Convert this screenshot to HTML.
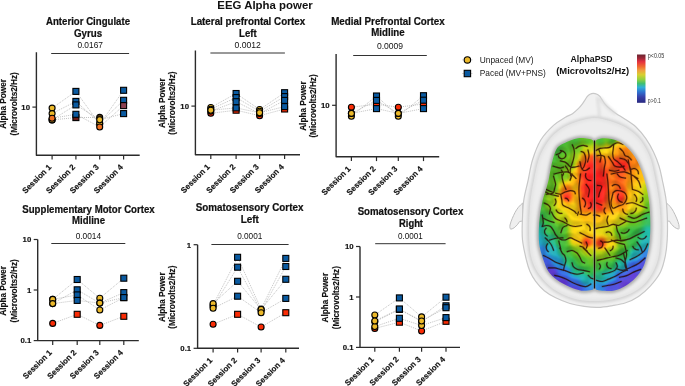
<!DOCTYPE html><html><head><meta charset="utf-8"><style>html,body{margin:0;padding:0;background:#fff;}svg{display:block;will-change:transform;}text{font-family:"Liberation Sans", sans-serif;}</style></head><body>
<svg width="685" height="386" viewBox="0 0 685 386" font-family='"Liberation Sans", sans-serif'>
<rect width="685" height="386" fill="#fff"/>
<defs>
<clipPath id="bclip"><path d="M593.60,158.00 C593.60,138.00 593.60,152.67 593.60,150.00 C593.60,147.33 594.03,143.78 593.60,142.00 C593.17,140.22 592.43,139.93 591.00,139.30 C589.57,138.67 587.17,138.38 585.00,138.20 C582.83,138.02 580.33,137.87 578.00,138.20 C575.67,138.53 573.42,139.32 571.00,140.20 C568.58,141.08 565.75,142.28 563.50,143.50 C561.25,144.72 559.12,145.42 557.50,147.50 C555.88,149.58 554.88,152.75 553.80,156.00 C552.72,159.25 551.87,163.00 551.00,167.00 C550.13,171.00 549.52,176.00 548.60,180.00 C547.68,184.00 546.52,187.50 545.50,191.00 C544.48,194.50 543.42,197.00 542.50,201.00 C541.58,205.00 540.62,210.17 540.00,215.00 C539.38,219.83 538.93,225.17 538.80,230.00 C538.67,234.83 538.75,240.00 539.20,244.00 C539.65,248.00 540.62,250.83 541.50,254.00 C542.38,257.17 543.33,260.10 544.50,263.00 C545.67,265.90 546.40,268.57 548.50,271.40 C550.60,274.23 553.53,277.38 557.10,280.00 C560.67,282.62 565.87,285.32 569.90,287.10 C573.93,288.88 577.73,290.22 581.30,290.70 C584.87,291.18 589.25,290.45 591.30,290.00 C593.35,289.55 593.22,289.67 593.60,288.00 C593.98,286.33 593.60,283.00 593.60,280.00 C593.60,277.00 593.60,290.33 593.60,270.00 C593.60,249.67 593.60,178.00 593.60,158.00Z"/><path d="M595.40,270.00 C595.40,290.33 595.40,277.00 595.40,280.00 C595.40,283.00 595.05,286.33 595.40,288.00 C595.75,289.67 596.02,289.53 597.50,290.00 C598.98,290.47 601.50,290.72 604.30,290.80 C607.10,290.88 610.73,291.35 614.30,290.50 C617.87,289.65 622.15,287.82 625.70,285.70 C629.25,283.58 632.75,280.78 635.60,277.80 C638.45,274.82 641.02,271.12 642.80,267.80 C644.58,264.48 645.27,261.53 646.30,257.90 C647.33,254.27 648.35,250.32 649.00,246.00 C649.65,241.68 650.00,236.67 650.20,232.00 C650.40,227.33 650.33,222.50 650.20,218.00 C650.07,213.50 649.83,209.17 649.40,205.00 C648.97,200.83 648.33,196.83 647.60,193.00 C646.87,189.17 646.02,185.67 645.00,182.00 C643.98,178.33 642.75,174.42 641.50,171.00 C640.25,167.58 639.08,164.50 637.50,161.50 C635.92,158.50 633.92,155.50 632.00,153.00 C630.08,150.50 628.17,148.42 626.00,146.50 C623.83,144.58 621.42,142.75 619.00,141.50 C616.58,140.25 614.00,139.55 611.50,139.00 C609.00,138.45 606.25,138.15 604.00,138.20 C601.75,138.25 599.43,138.67 598.00,139.30 C596.57,139.93 595.83,140.22 595.40,142.00 C594.97,143.78 595.40,147.33 595.40,150.00 C595.40,152.67 595.40,138.00 595.40,158.00 C595.40,178.00 595.40,249.67 595.40,270.00Z"/></clipPath>
<filter id="bb" x="-10%" y="-10%" width="120%" height="120%" color-interpolation-filters="sRGB"><feGaussianBlur stdDeviation="0.9"/><feColorMatrix type="saturate" values="1.25"/></filter>
<filter id="sb" x="-10%" y="-10%" width="120%" height="120%"><feGaussianBlur stdDeviation="0.45"/></filter>
<filter id="hb" x="-10%" y="-10%" width="120%" height="120%"><feGaussianBlur stdDeviation="1.4"/></filter>
<filter id="bump" x="530" y="130" width="130" height="170" filterUnits="userSpaceOnUse" color-interpolation-filters="sRGB"><feGaussianBlur in="SourceAlpha" stdDeviation="2.4" result="b"/><feComponentTransfer in="b" result="h"><feFuncA type="linear" slope="-1.6" intercept="1"/></feComponentTransfer><feDiffuseLighting in="h" surfaceScale="7" diffuseConstant="0.6" lighting-color="#ffffff" result="L"><feDistantLight azimuth="225" elevation="55"/></feDiffuseLighting></filter>
<radialGradient id="hg" cx="0.5" cy="0.55" r="0.6"><stop offset="0" stop-color="#d8d8d8"/><stop offset="0.6" stop-color="#e6e6e6"/><stop offset="0.85" stop-color="#efefef"/><stop offset="1" stop-color="#e2e2e2"/></radialGradient>
</defs>
<g filter="url(#sb)"><path d="M522.8,203 C519.5,205.5 517,208.7 515,212.5 C513,216.5 511,221 510,225 C509.6,227 510,229 510.8,229.2 C512.2,229 513.6,228.3 514.8,227.3 C516.6,225.8 518.3,223.8 519.6,221.5 L522.8,221 Z" fill="#efefef" stroke="#bdbdbd" stroke-width="1"/><path d="M665.8,202.5 C668.8,204.6 671.5,207.8 673.5,211.6 C675.6,215.6 677.8,220.5 678.8,224.5 C679.3,226.8 679.2,228.8 678.6,229.1 C677.3,228.9 675.8,228.2 674.5,227.2 C672.5,225.6 670.6,223.5 669.5,221.2 L666.5,221 Z" fill="#efefef" stroke="#bdbdbd" stroke-width="1"/></g>
<path d="M593.20,93.30 C594.37,93.30 595.93,93.72 597.00,94.20 C598.07,94.68 598.80,95.35 599.60,96.20 C600.40,97.05 600.93,98.03 601.80,99.30 C602.67,100.57 603.47,102.23 604.80,103.80 C606.13,105.37 607.87,107.05 609.80,108.70 C611.73,110.35 614.03,112.07 616.40,113.70 C618.77,115.33 620.73,116.28 624.00,118.50 C627.27,120.72 632.33,123.60 636.00,127.00 C639.67,130.40 643.08,134.73 646.00,138.90 C648.92,143.07 651.33,147.48 653.50,152.00 C655.67,156.52 657.53,161.33 659.00,166.00 C660.47,170.67 661.12,174.33 662.30,180.00 C663.48,185.67 665.25,193.33 666.10,200.00 C666.95,206.67 667.22,213.33 667.40,220.00 C667.58,226.67 667.55,234.00 667.20,240.00 C666.85,246.00 666.42,250.67 665.30,256.00 C664.18,261.33 663.05,266.93 660.50,272.00 C657.95,277.07 653.67,282.33 650.00,286.40 C646.33,290.47 642.55,293.67 638.50,296.40 C634.45,299.13 630.22,301.23 625.70,302.80 C621.18,304.37 616.02,305.03 611.40,305.80 C606.78,306.57 602.53,307.30 598.00,307.40 C593.47,307.50 588.88,307.05 584.20,306.40 C579.52,305.75 574.65,304.93 569.90,303.50 C565.15,302.07 559.97,299.93 555.70,297.80 C551.43,295.67 547.63,293.43 544.30,290.70 C540.97,287.97 538.08,284.62 535.70,281.40 C533.32,278.18 531.55,274.97 530.00,271.40 C528.45,267.83 527.65,265.23 526.40,260.00 C525.15,254.77 523.17,246.67 522.50,240.00 C521.83,233.33 522.18,226.67 522.40,220.00 C522.62,213.33 522.83,206.67 523.80,200.00 C524.77,193.33 526.75,186.67 528.20,180.00 C529.65,173.33 530.40,166.67 532.50,160.00 C534.60,153.33 537.30,145.77 540.80,140.00 C544.30,134.23 549.47,129.15 553.50,125.40 C557.53,121.65 561.83,119.45 565.00,117.50 C568.17,115.55 570.28,115.17 572.50,113.70 C574.72,112.23 576.65,110.35 578.30,108.70 C579.95,107.05 581.22,105.37 582.40,103.80 C583.58,102.23 584.53,100.57 585.40,99.30 C586.27,98.03 586.83,97.05 587.60,96.20 C588.37,95.35 589.07,94.68 590.00,94.20 C590.93,93.72 592.03,93.30 593.20,93.30Z" fill="#f1f1f1" stroke="none"/>
<g filter="url(#sb)"><path d="M593.20,93.30 C594.37,93.30 595.93,93.72 597.00,94.20 C598.07,94.68 598.80,95.35 599.60,96.20 C600.40,97.05 600.93,98.03 601.80,99.30 C602.67,100.57 603.47,102.23 604.80,103.80 C606.13,105.37 607.87,107.05 609.80,108.70 C611.73,110.35 614.03,112.07 616.40,113.70 C618.77,115.33 620.73,116.28 624.00,118.50 C627.27,120.72 632.33,123.60 636.00,127.00 C639.67,130.40 643.08,134.73 646.00,138.90 C648.92,143.07 651.33,147.48 653.50,152.00 C655.67,156.52 657.53,161.33 659.00,166.00 C660.47,170.67 661.12,174.33 662.30,180.00 C663.48,185.67 665.25,193.33 666.10,200.00 C666.95,206.67 667.22,213.33 667.40,220.00 C667.58,226.67 667.55,234.00 667.20,240.00 C666.85,246.00 666.42,250.67 665.30,256.00 C664.18,261.33 663.05,266.93 660.50,272.00 C657.95,277.07 653.67,282.33 650.00,286.40 C646.33,290.47 642.55,293.67 638.50,296.40 C634.45,299.13 630.22,301.23 625.70,302.80 C621.18,304.37 616.02,305.03 611.40,305.80 C606.78,306.57 602.53,307.30 598.00,307.40 C593.47,307.50 588.88,307.05 584.20,306.40 C579.52,305.75 574.65,304.93 569.90,303.50 C565.15,302.07 559.97,299.93 555.70,297.80 C551.43,295.67 547.63,293.43 544.30,290.70 C540.97,287.97 538.08,284.62 535.70,281.40 C533.32,278.18 531.55,274.97 530.00,271.40 C528.45,267.83 527.65,265.23 526.40,260.00 C525.15,254.77 523.17,246.67 522.50,240.00 C521.83,233.33 522.18,226.67 522.40,220.00 C522.62,213.33 522.83,206.67 523.80,200.00 C524.77,193.33 526.75,186.67 528.20,180.00 C529.65,173.33 530.40,166.67 532.50,160.00 C534.60,153.33 537.30,145.77 540.80,140.00 C544.30,134.23 549.47,129.15 553.50,125.40 C557.53,121.65 561.83,119.45 565.00,117.50 C568.17,115.55 570.28,115.17 572.50,113.70 C574.72,112.23 576.65,110.35 578.30,108.70 C579.95,107.05 581.22,105.37 582.40,103.80 C583.58,102.23 584.53,100.57 585.40,99.30 C586.27,98.03 586.83,97.05 587.60,96.20 C588.37,95.35 589.07,94.68 590.00,94.20 C590.93,93.72 592.03,93.30 593.20,93.30Z" fill="none" stroke="#c8c8c8" stroke-width="1.2"/></g>
<g filter="url(#hb)"><path d="M597,97 C598.5,103 599,110 599.5,117" fill="none" stroke="#d2d2d2" stroke-width="1.6"/><path d="M600,98 C604,104 609,109 616,114" fill="none" stroke="#dadada" stroke-width="2.5"/></g>
<g filter="url(#hb)"><path d="M594.50,118.00 C599.67,118.00 604.92,119.50 610.00,121.00 C615.08,122.50 620.50,124.50 625.00,127.00 C629.50,129.50 633.67,132.67 637.00,136.00 C640.33,139.33 642.67,143.00 645.00,147.00 C647.33,151.00 649.25,154.50 651.00,160.00 C652.75,165.50 654.17,173.33 655.50,180.00 C656.83,186.67 658.17,193.33 659.00,200.00 C659.83,206.67 660.28,213.33 660.50,220.00 C660.72,226.67 660.67,233.67 660.30,240.00 C659.93,246.33 659.52,252.67 658.30,258.00 C657.08,263.33 655.38,267.58 653.00,272.00 C650.62,276.42 647.83,280.83 644.00,284.50 C640.17,288.17 635.33,291.50 630.00,294.00 C624.67,296.50 617.92,298.33 612.00,299.50 C606.08,300.67 600.33,301.00 594.50,301.00 C588.67,301.00 582.75,300.83 577.00,299.50 C571.25,298.17 564.83,295.50 560.00,293.00 C555.17,290.50 551.75,288.00 548.00,284.50 C544.25,281.00 540.25,276.42 537.50,272.00 C534.75,267.58 532.88,263.33 531.50,258.00 C530.12,252.67 529.58,246.33 529.20,240.00 C528.82,233.67 528.98,226.67 529.20,220.00 C529.42,213.33 529.70,206.67 530.50,200.00 C531.30,193.33 532.67,186.67 534.00,180.00 C535.33,173.33 536.75,165.50 538.50,160.00 C540.25,154.50 542.17,151.00 544.50,147.00 C546.83,143.00 549.25,139.33 552.50,136.00 C555.75,132.67 559.58,129.50 564.00,127.00 C568.42,124.50 573.92,122.50 579.00,121.00 C584.08,119.50 589.33,118.00 594.50,118.00Z" fill="none" stroke="#cfcfcf" stroke-width="3.5"/></g>
<path d="M594.50,118.00 C599.67,118.00 604.92,119.50 610.00,121.00 C615.08,122.50 620.50,124.50 625.00,127.00 C629.50,129.50 633.67,132.67 637.00,136.00 C640.33,139.33 642.67,143.00 645.00,147.00 C647.33,151.00 649.25,154.50 651.00,160.00 C652.75,165.50 654.17,173.33 655.50,180.00 C656.83,186.67 658.17,193.33 659.00,200.00 C659.83,206.67 660.28,213.33 660.50,220.00 C660.72,226.67 660.67,233.67 660.30,240.00 C659.93,246.33 659.52,252.67 658.30,258.00 C657.08,263.33 655.38,267.58 653.00,272.00 C650.62,276.42 647.83,280.83 644.00,284.50 C640.17,288.17 635.33,291.50 630.00,294.00 C624.67,296.50 617.92,298.33 612.00,299.50 C606.08,300.67 600.33,301.00 594.50,301.00 C588.67,301.00 582.75,300.83 577.00,299.50 C571.25,298.17 564.83,295.50 560.00,293.00 C555.17,290.50 551.75,288.00 548.00,284.50 C544.25,281.00 540.25,276.42 537.50,272.00 C534.75,267.58 532.88,263.33 531.50,258.00 C530.12,252.67 529.58,246.33 529.20,240.00 C528.82,233.67 528.98,226.67 529.20,220.00 C529.42,213.33 529.70,206.67 530.50,200.00 C531.30,193.33 532.67,186.67 534.00,180.00 C535.33,173.33 536.75,165.50 538.50,160.00 C540.25,154.50 542.17,151.00 544.50,147.00 C546.83,143.00 549.25,139.33 552.50,136.00 C555.75,132.67 559.58,129.50 564.00,127.00 C568.42,124.50 573.92,122.50 579.00,121.00 C584.08,119.50 589.33,118.00 594.50,118.00Z" fill="#ebebeb" stroke="none" opacity="0.7"/>
<g filter="url(#hb)"><path d="M593.60,158.00 C593.60,138.00 593.60,152.67 593.60,150.00 C593.60,147.33 594.03,143.78 593.60,142.00 C593.17,140.22 592.43,139.93 591.00,139.30 C589.57,138.67 587.17,138.38 585.00,138.20 C582.83,138.02 580.33,137.87 578.00,138.20 C575.67,138.53 573.42,139.32 571.00,140.20 C568.58,141.08 565.75,142.28 563.50,143.50 C561.25,144.72 559.12,145.42 557.50,147.50 C555.88,149.58 554.88,152.75 553.80,156.00 C552.72,159.25 551.87,163.00 551.00,167.00 C550.13,171.00 549.52,176.00 548.60,180.00 C547.68,184.00 546.52,187.50 545.50,191.00 C544.48,194.50 543.42,197.00 542.50,201.00 C541.58,205.00 540.62,210.17 540.00,215.00 C539.38,219.83 538.93,225.17 538.80,230.00 C538.67,234.83 538.75,240.00 539.20,244.00 C539.65,248.00 540.62,250.83 541.50,254.00 C542.38,257.17 543.33,260.10 544.50,263.00 C545.67,265.90 546.40,268.57 548.50,271.40 C550.60,274.23 553.53,277.38 557.10,280.00 C560.67,282.62 565.87,285.32 569.90,287.10 C573.93,288.88 577.73,290.22 581.30,290.70 C584.87,291.18 589.25,290.45 591.30,290.00 C593.35,289.55 593.22,289.67 593.60,288.00 C593.98,286.33 593.60,283.00 593.60,280.00 C593.60,277.00 593.60,290.33 593.60,270.00 C593.60,249.67 593.60,178.00 593.60,158.00Z" fill="none" stroke="#a8a8a8" stroke-width="4"/><path d="M595.40,270.00 C595.40,290.33 595.40,277.00 595.40,280.00 C595.40,283.00 595.05,286.33 595.40,288.00 C595.75,289.67 596.02,289.53 597.50,290.00 C598.98,290.47 601.50,290.72 604.30,290.80 C607.10,290.88 610.73,291.35 614.30,290.50 C617.87,289.65 622.15,287.82 625.70,285.70 C629.25,283.58 632.75,280.78 635.60,277.80 C638.45,274.82 641.02,271.12 642.80,267.80 C644.58,264.48 645.27,261.53 646.30,257.90 C647.33,254.27 648.35,250.32 649.00,246.00 C649.65,241.68 650.00,236.67 650.20,232.00 C650.40,227.33 650.33,222.50 650.20,218.00 C650.07,213.50 649.83,209.17 649.40,205.00 C648.97,200.83 648.33,196.83 647.60,193.00 C646.87,189.17 646.02,185.67 645.00,182.00 C643.98,178.33 642.75,174.42 641.50,171.00 C640.25,167.58 639.08,164.50 637.50,161.50 C635.92,158.50 633.92,155.50 632.00,153.00 C630.08,150.50 628.17,148.42 626.00,146.50 C623.83,144.58 621.42,142.75 619.00,141.50 C616.58,140.25 614.00,139.55 611.50,139.00 C609.00,138.45 606.25,138.15 604.00,138.20 C601.75,138.25 599.43,138.67 598.00,139.30 C596.57,139.93 595.83,140.22 595.40,142.00 C594.97,143.78 595.40,147.33 595.40,150.00 C595.40,152.67 595.40,138.00 595.40,158.00 C595.40,178.00 595.40,249.67 595.40,270.00Z" fill="none" stroke="#a8a8a8" stroke-width="4"/></g>
<g clip-path="url(#bclip)"><g filter="url(#bb)">
<path fill="#81c339" d="M534 134h2v2h-2zM534 136h2v2h-2zM582 142h2v2h-2zM594 142h2v2h-2zM572 150h2v2h-2zM574 150h2v2h-2zM578 150h2v2h-2zM568 156h2v2h-2zM568 158h2v2h-2zM568 160h2v2h-2zM568 162h2v2h-2zM570 162h2v2h-2zM566 164h2v2h-2zM568 166h2v2h-2zM570 166h2v2h-2zM562 170h2v2h-2zM564 174h2v2h-2zM560 176h2v2h-2zM564 176h2v2h-2zM556 186h2v2h-2zM648 200h2v2h-2zM650 200h2v2h-2zM654 202h2v2h-2zM644 204h2v2h-2zM644 206h2v2h-2zM636 216h2v2h-2zM638 216h2v2h-2zM628 218h2v2h-2zM558 222h2v2h-2zM560 222h2v2h-2zM628 222h2v2h-2zM626 224h2v2h-2zM618 226h2v2h-2zM618 238h2v2h-2zM618 240h2v2h-2zM618 242h2v2h-2zM618 244h2v2h-2zM618 246h2v2h-2zM572 248h2v2h-2zM578 254h2v2h-2zM580 254h2v2h-2zM612 254h2v2h-2zM586 256h2v2h-2zM606 256h2v2h-2zM608 256h2v2h-2zM610 256h2v2h-2zM596 258h2v2h-2z"/>
<path fill="#7bc339" d="M536 134h2v2h-2zM592 134h2v2h-2zM606 134h2v2h-2zM608 134h2v2h-2zM612 134h2v2h-2zM536 136h2v2h-2zM614 136h2v2h-2zM534 138h2v2h-2zM590 142h2v2h-2zM608 142h2v2h-2zM578 146h2v2h-2zM574 148h2v2h-2zM578 148h2v2h-2zM576 150h2v2h-2zM570 152h2v2h-2zM566 160h2v2h-2zM566 162h2v2h-2zM568 164h2v2h-2zM570 164h2v2h-2zM564 166h2v2h-2zM560 172h2v2h-2zM560 174h2v2h-2zM556 180h2v2h-2zM548 190h2v2h-2zM554 190h2v2h-2zM644 210h2v2h-2zM642 212h2v2h-2zM640 214h2v2h-2zM634 216h2v2h-2zM636 218h2v2h-2zM554 220h2v2h-2zM566 226h2v2h-2zM574 252h2v2h-2zM614 252h2v2h-2zM612 256h2v2h-2z"/>
<path fill="#7bbd39" d="M538 134h2v2h-2zM590 134h2v2h-2zM534 140h2v2h-2zM592 140h2v2h-2zM576 146h2v2h-2zM576 148h2v2h-2zM562 168h2v2h-2zM560 170h2v2h-2zM554 182h2v2h-2zM652 202h2v2h-2zM654 204h2v2h-2zM630 216h2v2h-2zM634 218h2v2h-2zM630 220h2v2h-2zM630 222h2v2h-2zM566 232h2v2h-2zM576 254h2v2h-2zM594 258h2v2h-2z"/>
<path fill="#75bd39" d="M540 134h2v2h-2zM582 134h2v2h-2zM584 134h2v2h-2zM586 134h2v2h-2zM588 134h2v2h-2zM594 134h2v2h-2zM604 134h2v2h-2zM610 134h2v2h-2zM538 136h2v2h-2zM592 136h2v2h-2zM606 136h2v2h-2zM536 138h2v2h-2zM538 138h2v2h-2zM592 138h2v2h-2zM536 140h2v2h-2zM582 140h2v2h-2zM606 140h2v2h-2zM534 142h2v2h-2zM536 142h2v2h-2zM580 142h2v2h-2zM584 142h2v2h-2zM534 144h2v2h-2zM578 144h2v2h-2zM534 146h2v2h-2zM574 146h2v2h-2zM534 148h2v2h-2zM572 148h2v2h-2zM534 150h2v2h-2zM568 154h2v2h-2zM562 156h2v2h-2zM564 156h2v2h-2zM566 156h2v2h-2zM562 158h2v2h-2zM564 158h2v2h-2zM566 158h2v2h-2zM562 160h2v2h-2zM564 160h2v2h-2zM564 162h2v2h-2zM564 164h2v2h-2zM534 166h2v2h-2zM534 168h2v2h-2zM534 170h2v2h-2zM534 172h2v2h-2zM534 174h2v2h-2zM534 176h2v2h-2zM534 178h2v2h-2zM558 178h2v2h-2zM534 180h2v2h-2zM552 180h2v2h-2zM554 180h2v2h-2zM552 182h2v2h-2zM546 190h2v2h-2zM550 190h2v2h-2zM552 190h2v2h-2zM544 192h2v2h-2zM544 194h2v2h-2zM544 196h2v2h-2zM544 198h2v2h-2zM544 200h2v2h-2zM646 202h2v2h-2zM650 202h2v2h-2zM654 206h2v2h-2zM546 208h2v2h-2zM550 210h2v2h-2zM552 212h2v2h-2zM632 216h2v2h-2zM630 218h2v2h-2zM632 218h2v2h-2zM638 218h2v2h-2zM632 220h2v2h-2zM634 220h2v2h-2zM636 220h2v2h-2zM556 222h2v2h-2zM632 222h2v2h-2zM634 222h2v2h-2zM564 224h2v2h-2zM620 226h2v2h-2zM622 226h2v2h-2zM624 226h2v2h-2zM566 228h2v2h-2zM616 228h2v2h-2zM566 230h2v2h-2zM566 234h2v2h-2zM616 234h2v2h-2zM618 236h2v2h-2zM620 238h2v2h-2zM620 240h2v2h-2zM622 240h2v2h-2zM620 242h2v2h-2zM622 242h2v2h-2zM620 244h2v2h-2zM570 246h2v2h-2zM572 250h2v2h-2zM616 250h2v2h-2zM614 254h2v2h-2zM584 256h2v2h-2zM588 258h2v2h-2zM590 258h2v2h-2zM592 258h2v2h-2zM604 258h2v2h-2zM590 260h2v2h-2zM592 260h2v2h-2z"/>
<path fill="#6fbd3f" d="M542 134h2v2h-2zM544 134h2v2h-2zM580 134h2v2h-2zM596 134h2v2h-2zM602 134h2v2h-2zM542 136h2v2h-2zM544 136h2v2h-2zM582 136h2v2h-2zM584 136h2v2h-2zM586 136h2v2h-2zM588 136h2v2h-2zM594 136h2v2h-2zM604 136h2v2h-2zM608 136h2v2h-2zM612 136h2v2h-2zM540 138h2v2h-2zM542 138h2v2h-2zM582 138h2v2h-2zM584 138h2v2h-2zM586 138h2v2h-2zM588 138h2v2h-2zM590 138h2v2h-2zM594 138h2v2h-2zM604 138h2v2h-2zM614 138h2v2h-2zM538 140h2v2h-2zM540 140h2v2h-2zM580 140h2v2h-2zM584 140h2v2h-2zM590 140h2v2h-2zM594 140h2v2h-2zM604 140h2v2h-2zM614 140h2v2h-2zM538 142h2v2h-2zM540 142h2v2h-2zM586 142h2v2h-2zM588 142h2v2h-2zM610 142h2v2h-2zM612 142h2v2h-2zM538 144h2v2h-2zM576 144h2v2h-2zM536 146h2v2h-2zM538 146h2v2h-2zM572 146h2v2h-2zM536 148h2v2h-2zM538 148h2v2h-2zM570 148h2v2h-2zM536 150h2v2h-2zM570 150h2v2h-2zM536 152h2v2h-2zM568 152h2v2h-2zM534 154h2v2h-2zM536 154h2v2h-2zM562 154h2v2h-2zM564 154h2v2h-2zM566 154h2v2h-2zM534 156h2v2h-2zM536 156h2v2h-2zM560 156h2v2h-2zM534 158h2v2h-2zM536 158h2v2h-2zM560 158h2v2h-2zM534 160h2v2h-2zM536 160h2v2h-2zM560 160h2v2h-2zM536 162h2v2h-2zM562 162h2v2h-2zM536 164h2v2h-2zM538 164h2v2h-2zM562 164h2v2h-2zM536 166h2v2h-2zM538 166h2v2h-2zM562 166h2v2h-2zM536 168h2v2h-2zM538 168h2v2h-2zM556 168h2v2h-2zM558 168h2v2h-2zM560 168h2v2h-2zM536 170h2v2h-2zM538 170h2v2h-2zM540 170h2v2h-2zM554 170h2v2h-2zM556 170h2v2h-2zM536 172h2v2h-2zM538 172h2v2h-2zM540 172h2v2h-2zM552 172h2v2h-2zM556 172h2v2h-2zM558 172h2v2h-2zM536 174h2v2h-2zM538 174h2v2h-2zM550 174h2v2h-2zM558 174h2v2h-2zM536 176h2v2h-2zM538 176h2v2h-2zM540 176h2v2h-2zM550 176h2v2h-2zM552 176h2v2h-2zM558 176h2v2h-2zM536 178h2v2h-2zM538 178h2v2h-2zM540 178h2v2h-2zM548 178h2v2h-2zM550 178h2v2h-2zM552 178h2v2h-2zM554 178h2v2h-2zM556 178h2v2h-2zM536 180h2v2h-2zM538 180h2v2h-2zM540 180h2v2h-2zM542 180h2v2h-2zM544 180h2v2h-2zM546 180h2v2h-2zM548 180h2v2h-2zM550 180h2v2h-2zM534 182h2v2h-2zM536 182h2v2h-2zM538 182h2v2h-2zM540 182h2v2h-2zM542 182h2v2h-2zM544 182h2v2h-2zM546 182h2v2h-2zM548 182h2v2h-2zM550 182h2v2h-2zM534 184h2v2h-2zM536 184h2v2h-2zM538 184h2v2h-2zM544 184h2v2h-2zM546 184h2v2h-2zM548 184h2v2h-2zM550 184h2v2h-2zM552 184h2v2h-2zM534 186h2v2h-2zM536 186h2v2h-2zM546 186h2v2h-2zM548 186h2v2h-2zM550 186h2v2h-2zM554 186h2v2h-2zM534 188h2v2h-2zM536 188h2v2h-2zM546 188h2v2h-2zM548 188h2v2h-2zM550 188h2v2h-2zM552 188h2v2h-2zM554 188h2v2h-2zM534 190h2v2h-2zM536 190h2v2h-2zM544 190h2v2h-2zM534 192h2v2h-2zM542 192h2v2h-2zM542 198h2v2h-2zM544 204h2v2h-2zM646 204h2v2h-2zM648 204h2v2h-2zM650 204h2v2h-2zM544 206h2v2h-2zM646 206h2v2h-2zM650 206h2v2h-2zM652 206h2v2h-2zM646 208h2v2h-2zM648 208h2v2h-2zM650 208h2v2h-2zM652 208h2v2h-2zM654 208h2v2h-2zM646 210h2v2h-2zM552 214h2v2h-2zM638 220h2v2h-2zM636 222h2v2h-2zM566 236h2v2h-2zM620 236h2v2h-2zM622 238h2v2h-2zM624 240h2v2h-2zM624 242h2v2h-2zM624 244h2v2h-2zM622 246h2v2h-2zM572 252h2v2h-2zM574 254h2v2h-2zM578 256h2v2h-2zM580 256h2v2h-2zM582 256h2v2h-2zM614 256h2v2h-2zM586 258h2v2h-2zM606 258h2v2h-2zM608 258h2v2h-2zM610 258h2v2h-2zM612 258h2v2h-2zM588 260h2v2h-2zM594 260h2v2h-2zM596 260h2v2h-2zM588 262h2v2h-2zM590 262h2v2h-2zM592 262h2v2h-2z"/>
<path fill="#69bd3f" d="M546 134h2v2h-2zM548 134h2v2h-2zM598 134h2v2h-2zM600 134h2v2h-2zM546 136h2v2h-2zM580 136h2v2h-2zM610 136h2v2h-2zM544 138h2v2h-2zM580 138h2v2h-2zM608 138h2v2h-2zM542 140h2v2h-2zM586 140h2v2h-2zM588 140h2v2h-2zM608 140h2v2h-2zM542 142h2v2h-2zM578 142h2v2h-2zM596 142h2v2h-2zM602 142h2v2h-2zM540 144h2v2h-2zM574 144h2v2h-2zM540 146h2v2h-2zM570 146h2v2h-2zM540 148h2v2h-2zM538 150h2v2h-2zM538 152h2v2h-2zM538 154h2v2h-2zM560 154h2v2h-2zM538 156h2v2h-2zM538 158h2v2h-2zM538 160h2v2h-2zM558 160h2v2h-2zM538 162h2v2h-2zM558 162h2v2h-2zM560 162h2v2h-2zM540 164h2v2h-2zM556 164h2v2h-2zM558 164h2v2h-2zM560 164h2v2h-2zM540 166h2v2h-2zM556 166h2v2h-2zM558 166h2v2h-2zM560 166h2v2h-2zM540 168h2v2h-2zM542 168h2v2h-2zM554 168h2v2h-2zM542 170h2v2h-2zM544 170h2v2h-2zM546 170h2v2h-2zM548 170h2v2h-2zM550 170h2v2h-2zM552 170h2v2h-2zM542 172h2v2h-2zM544 172h2v2h-2zM546 172h2v2h-2zM548 172h2v2h-2zM550 172h2v2h-2zM554 172h2v2h-2zM540 174h2v2h-2zM542 174h2v2h-2zM544 174h2v2h-2zM546 174h2v2h-2zM548 174h2v2h-2zM552 174h2v2h-2zM554 174h2v2h-2zM556 174h2v2h-2zM542 176h2v2h-2zM544 176h2v2h-2zM546 176h2v2h-2zM548 176h2v2h-2zM554 176h2v2h-2zM556 176h2v2h-2zM542 178h2v2h-2zM544 178h2v2h-2zM546 178h2v2h-2zM540 184h2v2h-2zM542 184h2v2h-2zM538 186h2v2h-2zM540 186h2v2h-2zM542 186h2v2h-2zM544 186h2v2h-2zM552 186h2v2h-2zM538 188h2v2h-2zM540 188h2v2h-2zM542 188h2v2h-2zM544 188h2v2h-2zM538 190h2v2h-2zM540 190h2v2h-2zM542 190h2v2h-2zM536 192h2v2h-2zM538 192h2v2h-2zM540 192h2v2h-2zM534 194h2v2h-2zM536 194h2v2h-2zM538 194h2v2h-2zM540 194h2v2h-2zM542 194h2v2h-2zM534 196h2v2h-2zM536 196h2v2h-2zM538 196h2v2h-2zM540 196h2v2h-2zM542 196h2v2h-2zM540 198h2v2h-2zM648 206h2v2h-2zM548 210h2v2h-2zM648 210h2v2h-2zM652 210h2v2h-2zM654 210h2v2h-2zM552 216h2v2h-2zM640 216h2v2h-2zM552 218h2v2h-2zM554 222h2v2h-2zM558 224h2v2h-2zM560 224h2v2h-2zM562 224h2v2h-2zM630 224h2v2h-2zM632 224h2v2h-2zM626 226h2v2h-2zM618 228h2v2h-2zM622 228h2v2h-2zM624 228h2v2h-2zM616 230h2v2h-2zM616 232h2v2h-2zM622 236h2v2h-2zM566 238h2v2h-2zM624 238h2v2h-2zM616 252h2v2h-2zM576 256h2v2h-2zM598 260h2v2h-2zM600 260h2v2h-2zM602 260h2v2h-2zM594 262h2v2h-2zM590 264h2v2h-2zM592 264h2v2h-2z"/>
<path fill="#63bd45" d="M550 134h2v2h-2zM552 134h2v2h-2zM578 134h2v2h-2zM550 136h2v2h-2zM596 136h2v2h-2zM548 138h2v2h-2zM610 138h2v2h-2zM612 138h2v2h-2zM546 140h2v2h-2zM610 140h2v2h-2zM612 140h2v2h-2zM544 142h2v2h-2zM546 142h2v2h-2zM544 144h2v2h-2zM568 144h2v2h-2zM544 146h2v2h-2zM566 146h2v2h-2zM568 146h2v2h-2zM542 148h2v2h-2zM568 148h2v2h-2zM542 150h2v2h-2zM562 150h2v2h-2zM566 150h2v2h-2zM542 152h2v2h-2zM560 152h2v2h-2zM542 154h2v2h-2zM542 156h2v2h-2zM558 156h2v2h-2zM542 158h2v2h-2zM542 160h2v2h-2zM544 160h2v2h-2zM556 160h2v2h-2zM542 162h2v2h-2zM544 162h2v2h-2zM554 162h2v2h-2zM542 164h2v2h-2zM544 164h2v2h-2zM552 164h2v2h-2zM554 164h2v2h-2zM544 166h2v2h-2zM546 166h2v2h-2zM552 166h2v2h-2zM546 168h2v2h-2zM548 168h2v2h-2zM550 168h2v2h-2zM540 200h2v2h-2zM546 210h2v2h-2zM550 212h2v2h-2zM642 214h2v2h-2zM640 218h2v2h-2zM636 224h2v2h-2zM558 226h2v2h-2zM560 226h2v2h-2zM562 226h2v2h-2zM628 226h2v2h-2zM564 228h2v2h-2zM564 230h2v2h-2zM618 230h2v2h-2zM620 230h2v2h-2zM622 230h2v2h-2zM624 230h2v2h-2zM562 232h2v2h-2zM618 232h2v2h-2zM620 232h2v2h-2zM622 232h2v2h-2zM624 232h2v2h-2zM564 234h2v2h-2zM620 234h2v2h-2zM622 234h2v2h-2zM624 234h2v2h-2zM566 244h2v2h-2zM568 246h2v2h-2zM624 246h2v2h-2zM570 250h2v2h-2zM618 250h2v2h-2zM572 254h2v2h-2zM616 254h2v2h-2zM580 258h2v2h-2zM582 258h2v2h-2zM584 258h2v2h-2zM604 260h2v2h-2zM586 262h2v2h-2zM588 264h2v2h-2z"/>
<path fill="#63b745" d="M554 134h2v2h-2zM568 134h2v2h-2zM552 136h2v2h-2zM578 136h2v2h-2zM598 136h2v2h-2zM600 136h2v2h-2zM550 138h2v2h-2zM596 138h2v2h-2zM602 138h2v2h-2zM548 140h2v2h-2zM578 140h2v2h-2zM596 140h2v2h-2zM602 140h2v2h-2zM568 142h2v2h-2zM570 142h2v2h-2zM576 142h2v2h-2zM598 142h2v2h-2zM600 142h2v2h-2zM546 144h2v2h-2zM566 144h2v2h-2zM564 146h2v2h-2zM544 148h2v2h-2zM562 148h2v2h-2zM564 148h2v2h-2zM566 148h2v2h-2zM544 150h2v2h-2zM564 150h2v2h-2zM544 152h2v2h-2zM544 154h2v2h-2zM558 154h2v2h-2zM544 156h2v2h-2zM544 158h2v2h-2zM546 162h2v2h-2zM546 164h2v2h-2zM550 164h2v2h-2zM548 166h2v2h-2zM550 166h2v2h-2zM534 200h2v2h-2zM542 202h2v2h-2zM654 212h2v2h-2zM640 220h2v2h-2zM554 224h2v2h-2zM556 226h2v2h-2zM558 228h2v2h-2zM560 228h2v2h-2zM562 228h2v2h-2zM626 228h2v2h-2zM560 230h2v2h-2zM562 230h2v2h-2zM578 258h2v2h-2zM614 258h2v2h-2zM584 260h2v2h-2zM594 264h2v2h-2z"/>
<path fill="#5db74b" d="M556 134h2v2h-2zM558 134h2v2h-2zM560 134h2v2h-2zM562 134h2v2h-2zM564 134h2v2h-2zM570 134h2v2h-2zM572 134h2v2h-2zM574 134h2v2h-2zM576 134h2v2h-2zM554 136h2v2h-2zM556 136h2v2h-2zM566 136h2v2h-2zM568 136h2v2h-2zM570 136h2v2h-2zM576 136h2v2h-2zM552 138h2v2h-2zM554 138h2v2h-2zM566 138h2v2h-2zM568 138h2v2h-2zM570 138h2v2h-2zM578 138h2v2h-2zM598 138h2v2h-2zM600 138h2v2h-2zM550 140h2v2h-2zM552 140h2v2h-2zM554 140h2v2h-2zM566 140h2v2h-2zM568 140h2v2h-2zM570 140h2v2h-2zM548 142h2v2h-2zM550 142h2v2h-2zM552 142h2v2h-2zM566 142h2v2h-2zM572 142h2v2h-2zM574 142h2v2h-2zM548 144h2v2h-2zM562 144h2v2h-2zM564 144h2v2h-2zM546 146h2v2h-2zM548 146h2v2h-2zM560 146h2v2h-2zM562 146h2v2h-2zM546 148h2v2h-2zM560 148h2v2h-2zM546 150h2v2h-2zM560 150h2v2h-2zM546 152h2v2h-2zM558 152h2v2h-2zM546 154h2v2h-2zM556 154h2v2h-2zM546 156h2v2h-2zM556 156h2v2h-2zM546 158h2v2h-2zM548 158h2v2h-2zM556 158h2v2h-2zM548 160h2v2h-2zM550 160h2v2h-2zM552 160h2v2h-2zM554 160h2v2h-2zM550 162h2v2h-2zM534 202h2v2h-2zM534 204h2v2h-2zM542 204h2v2h-2zM542 206h2v2h-2zM542 208h2v2h-2zM544 210h2v2h-2zM548 212h2v2h-2zM646 212h2v2h-2zM652 212h2v2h-2zM550 214h2v2h-2zM550 216h2v2h-2zM550 218h2v2h-2zM550 220h2v2h-2zM640 222h2v2h-2zM638 224h2v2h-2zM630 226h2v2h-2zM556 228h2v2h-2zM556 230h2v2h-2zM558 230h2v2h-2zM626 230h2v2h-2zM558 232h2v2h-2zM560 232h2v2h-2zM560 234h2v2h-2zM562 234h2v2h-2zM626 234h2v2h-2zM564 236h2v2h-2zM626 236h2v2h-2zM564 238h2v2h-2zM626 238h2v2h-2zM626 240h2v2h-2zM564 242h2v2h-2zM626 242h2v2h-2zM626 244h2v2h-2zM566 246h2v2h-2zM568 248h2v2h-2zM622 248h2v2h-2zM570 252h2v2h-2zM616 256h2v2h-2zM576 258h2v2h-2zM578 260h2v2h-2zM580 260h2v2h-2zM606 260h2v2h-2zM608 260h2v2h-2zM610 260h2v2h-2zM580 262h2v2h-2zM582 262h2v2h-2zM598 262h2v2h-2zM600 262h2v2h-2zM602 262h2v2h-2zM582 264h2v2h-2zM584 264h2v2h-2zM586 264h2v2h-2zM590 266h2v2h-2zM592 266h2v2h-2z"/>
<path fill="#5db745" d="M566 134h2v2h-2zM546 160h2v2h-2zM548 162h2v2h-2zM552 162h2v2h-2zM548 164h2v2h-2zM536 200h2v2h-2zM538 200h2v2h-2zM552 222h2v2h-2zM574 256h2v2h-2zM582 260h2v2h-2zM584 262h2v2h-2zM596 262h2v2h-2z"/>
<path fill="#8dc339" d="M614 134h2v2h-2zM592 142h2v2h-2zM614 142h2v2h-2zM598 144h2v2h-2zM580 146h2v2h-2zM580 148h2v2h-2zM572 152h2v2h-2zM576 152h2v2h-2zM570 154h2v2h-2zM570 160h2v2h-2zM572 162h2v2h-2zM564 170h2v2h-2zM566 172h2v2h-2zM560 178h2v2h-2zM558 180h2v2h-2zM548 192h2v2h-2zM550 192h2v2h-2zM552 192h2v2h-2zM546 194h2v2h-2zM546 196h2v2h-2zM644 196h2v2h-2zM646 196h2v2h-2zM648 196h2v2h-2zM546 198h2v2h-2zM644 198h2v2h-2zM648 198h2v2h-2zM650 198h2v2h-2zM546 200h2v2h-2zM644 200h2v2h-2zM654 200h2v2h-2zM546 202h2v2h-2zM644 202h2v2h-2zM546 204h2v2h-2zM550 208h2v2h-2zM552 210h2v2h-2zM634 214h2v2h-2zM554 218h2v2h-2zM616 236h2v2h-2zM574 248h2v2h-2zM576 248h2v2h-2zM616 248h2v2h-2zM580 252h2v2h-2zM608 252h2v2h-2zM606 254h2v2h-2zM588 256h2v2h-2zM604 256h2v2h-2zM598 258h2v2h-2zM600 258h2v2h-2z"/>
<path fill="#b1cf33" d="M616 134h2v2h-2zM592 144h2v2h-2zM574 160h2v2h-2zM562 180h2v2h-2zM646 188h2v2h-2zM648 188h2v2h-2zM646 190h2v2h-2zM648 190h2v2h-2zM650 190h2v2h-2zM652 192h2v2h-2zM654 192h2v2h-2zM642 194h2v2h-2zM554 196h2v2h-2zM642 202h2v2h-2zM554 208h2v2h-2zM642 208h2v2h-2zM630 212h2v2h-2zM634 212h2v2h-2zM638 212h2v2h-2zM564 220h2v2h-2zM566 222h2v2h-2zM624 222h2v2h-2zM618 224h2v2h-2zM614 226h2v2h-2zM568 228h2v2h-2zM568 230h2v2h-2zM614 236h2v2h-2zM616 240h2v2h-2zM616 244h2v2h-2zM578 246h2v2h-2zM582 250h2v2h-2zM606 250h2v2h-2zM596 252h2v2h-2zM598 252h2v2h-2zM600 252h2v2h-2zM602 252h2v2h-2zM588 254h2v2h-2z"/>
<path fill="#cfd539" d="M618 134h2v2h-2zM616 142h2v2h-2zM594 146h2v2h-2zM596 146h2v2h-2zM598 146h2v2h-2zM586 148h2v2h-2zM588 148h2v2h-2zM654 184h2v2h-2zM642 188h2v2h-2zM642 190h2v2h-2zM640 194h2v2h-2zM638 204h2v2h-2zM638 206h2v2h-2zM624 216h2v2h-2zM608 226h2v2h-2zM580 246h2v2h-2zM582 248h2v2h-2zM588 248h2v2h-2zM590 248h2v2h-2z"/>
<path fill="#edd539" d="M620 134h2v2h-2zM618 140h2v2h-2zM606 146h2v2h-2zM608 146h2v2h-2zM604 148h2v2h-2zM592 150h2v2h-2zM602 150h2v2h-2zM598 152h2v2h-2zM574 168h2v2h-2zM570 178h2v2h-2zM648 180h2v2h-2zM642 182h2v2h-2zM640 184h2v2h-2zM638 186h2v2h-2zM638 188h2v2h-2zM638 190h2v2h-2zM634 202h2v2h-2zM632 204h2v2h-2zM630 206h2v2h-2zM632 206h2v2h-2zM560 208h2v2h-2zM630 208h2v2h-2zM568 216h2v2h-2zM614 218h2v2h-2zM570 220h2v2h-2zM614 220h2v2h-2zM572 222h2v2h-2zM612 222h2v2h-2zM572 224h2v2h-2zM606 224h2v2h-2zM598 226h2v2h-2zM600 226h2v2h-2zM596 228h2v2h-2zM572 232h2v2h-2zM572 234h2v2h-2zM598 234h2v2h-2zM600 234h2v2h-2zM602 234h2v2h-2zM606 236h2v2h-2zM610 238h2v2h-2zM572 242h2v2h-2zM608 246h2v2h-2z"/>
<path fill="#f9d539" d="M622 134h2v2h-2zM620 138h2v2h-2zM618 142h2v2h-2zM608 150h2v2h-2zM610 150h2v2h-2zM586 152h2v2h-2zM650 176h2v2h-2zM652 176h2v2h-2zM648 178h2v2h-2zM570 180h2v2h-2zM644 180h2v2h-2zM566 182h2v2h-2zM636 184h2v2h-2zM636 192h2v2h-2zM636 194h2v2h-2zM634 198h2v2h-2zM558 200h2v2h-2zM632 200h2v2h-2zM560 202h2v2h-2zM630 202h2v2h-2zM562 204h2v2h-2zM572 204h2v2h-2zM574 204h2v2h-2zM564 206h2v2h-2zM570 206h2v2h-2zM572 206h2v2h-2zM574 206h2v2h-2zM628 206h2v2h-2zM566 208h2v2h-2zM568 208h2v2h-2zM570 208h2v2h-2zM572 208h2v2h-2zM568 210h2v2h-2zM570 210h2v2h-2zM572 210h2v2h-2zM568 212h2v2h-2zM570 212h2v2h-2zM572 212h2v2h-2zM574 212h2v2h-2zM574 214h2v2h-2zM576 214h2v2h-2zM614 214h2v2h-2zM576 216h2v2h-2zM608 216h2v2h-2zM610 216h2v2h-2zM612 216h2v2h-2zM576 218h2v2h-2zM606 218h2v2h-2zM608 218h2v2h-2zM610 218h2v2h-2zM576 220h2v2h-2zM578 220h2v2h-2zM606 220h2v2h-2zM608 220h2v2h-2zM578 222h2v2h-2zM580 222h2v2h-2zM604 222h2v2h-2zM574 224h2v2h-2zM580 224h2v2h-2zM582 224h2v2h-2zM584 224h2v2h-2zM586 224h2v2h-2zM588 224h2v2h-2zM590 224h2v2h-2zM592 224h2v2h-2zM596 224h2v2h-2zM598 224h2v2h-2zM600 224h2v2h-2zM582 226h2v2h-2zM584 226h2v2h-2zM586 226h2v2h-2zM588 226h2v2h-2zM590 226h2v2h-2zM592 226h2v2h-2zM582 228h2v2h-2zM584 228h2v2h-2zM586 228h2v2h-2zM582 230h2v2h-2zM584 230h2v2h-2zM586 230h2v2h-2zM588 230h2v2h-2zM590 230h2v2h-2zM580 232h2v2h-2zM588 232h2v2h-2zM590 232h2v2h-2zM592 232h2v2h-2zM576 234h2v2h-2zM578 234h2v2h-2zM594 234h2v2h-2zM574 236h2v2h-2zM572 238h2v2h-2zM610 240h2v2h-2zM576 242h2v2h-2zM578 242h2v2h-2zM608 242h2v2h-2zM612 242h2v2h-2zM606 246h2v2h-2z"/>
<path fill="#f9cf39" d="M624 134h2v2h-2zM622 136h2v2h-2zM622 138h2v2h-2zM620 140h2v2h-2zM616 144h2v2h-2zM604 152h2v2h-2zM606 152h2v2h-2zM608 152h2v2h-2zM610 152h2v2h-2zM578 160h2v2h-2zM572 172h2v2h-2zM652 174h2v2h-2zM654 174h2v2h-2zM648 176h2v2h-2zM646 178h2v2h-2zM642 180h2v2h-2zM638 182h2v2h-2zM560 186h2v2h-2zM634 192h2v2h-2zM558 194h2v2h-2zM634 194h2v2h-2zM558 196h2v2h-2zM632 196h2v2h-2zM634 196h2v2h-2zM558 198h2v2h-2zM632 198h2v2h-2zM630 200h2v2h-2zM562 202h2v2h-2zM564 204h2v2h-2zM570 204h2v2h-2zM628 204h2v2h-2zM566 206h2v2h-2zM568 206h2v2h-2zM574 208h2v2h-2zM574 210h2v2h-2zM626 210h2v2h-2zM576 212h2v2h-2zM616 212h2v2h-2zM618 212h2v2h-2zM620 212h2v2h-2zM622 212h2v2h-2zM608 214h2v2h-2zM610 214h2v2h-2zM612 214h2v2h-2zM578 216h2v2h-2zM606 216h2v2h-2zM578 218h2v2h-2zM580 220h2v2h-2zM582 222h2v2h-2zM584 222h2v2h-2zM602 222h2v2h-2zM594 224h2v2h-2zM582 232h2v2h-2zM584 232h2v2h-2zM586 232h2v2h-2zM580 234h2v2h-2zM592 234h2v2h-2zM576 236h2v2h-2zM578 236h2v2h-2zM604 236h2v2h-2zM574 238h2v2h-2zM576 238h2v2h-2zM578 238h2v2h-2zM606 238h2v2h-2zM574 240h2v2h-2zM576 240h2v2h-2zM578 240h2v2h-2zM580 244h2v2h-2zM582 246h2v2h-2zM590 246h2v2h-2zM592 246h2v2h-2zM598 248h2v2h-2zM602 248h2v2h-2z"/>
<path fill="#f9c939" d="M626 134h2v2h-2zM624 136h2v2h-2zM624 138h2v2h-2zM622 140h2v2h-2zM624 140h2v2h-2zM620 142h2v2h-2zM622 142h2v2h-2zM624 142h2v2h-2zM612 148h2v2h-2zM584 152h2v2h-2zM590 152h2v2h-2zM574 170h2v2h-2zM654 172h2v2h-2zM572 174h2v2h-2zM650 174h2v2h-2zM644 178h2v2h-2zM640 180h2v2h-2zM568 182h2v2h-2zM636 182h2v2h-2zM634 184h2v2h-2zM634 186h2v2h-2zM634 188h2v2h-2zM634 190h2v2h-2zM632 194h2v2h-2zM630 196h2v2h-2zM630 198h2v2h-2zM560 200h2v2h-2zM572 202h2v2h-2zM574 202h2v2h-2zM628 202h2v2h-2zM576 206h2v2h-2zM578 214h2v2h-2zM580 218h2v2h-2zM604 218h2v2h-2zM582 220h2v2h-2zM604 220h2v2h-2zM586 222h2v2h-2zM588 222h2v2h-2zM590 222h2v2h-2zM592 222h2v2h-2zM594 222h2v2h-2zM600 222h2v2h-2zM600 248h2v2h-2z"/>
<path fill="#f9c333" d="M628 134h2v2h-2zM626 136h2v2h-2zM628 136h2v2h-2zM626 138h2v2h-2zM626 140h2v2h-2zM626 142h2v2h-2zM618 144h2v2h-2zM620 144h2v2h-2zM624 144h2v2h-2zM614 146h2v2h-2zM612 150h2v2h-2zM594 152h2v2h-2zM600 154h2v2h-2zM580 156h2v2h-2zM576 164h2v2h-2zM654 168h2v2h-2zM652 170h2v2h-2zM654 170h2v2h-2zM648 172h2v2h-2zM650 172h2v2h-2zM644 174h2v2h-2zM646 174h2v2h-2zM640 176h2v2h-2zM642 176h2v2h-2zM644 176h2v2h-2zM572 178h2v2h-2zM638 178h2v2h-2zM640 178h2v2h-2zM642 178h2v2h-2zM572 180h2v2h-2zM636 180h2v2h-2zM638 180h2v2h-2zM634 182h2v2h-2zM562 184h2v2h-2zM574 186h2v2h-2zM576 186h2v2h-2zM632 186h2v2h-2zM574 188h2v2h-2zM576 188h2v2h-2zM632 188h2v2h-2zM630 190h2v2h-2zM632 190h2v2h-2zM630 192h2v2h-2zM632 192h2v2h-2zM628 196h2v2h-2zM628 198h2v2h-2zM628 200h2v2h-2zM564 202h2v2h-2zM566 204h2v2h-2zM568 204h2v2h-2zM576 204h2v2h-2zM576 208h2v2h-2zM578 212h2v2h-2zM614 212h2v2h-2zM606 214h2v2h-2zM580 216h2v2h-2zM604 216h2v2h-2zM582 218h2v2h-2zM602 218h2v2h-2zM584 220h2v2h-2zM586 220h2v2h-2zM588 220h2v2h-2zM590 220h2v2h-2zM592 220h2v2h-2zM594 220h2v2h-2zM596 220h2v2h-2zM598 220h2v2h-2zM600 220h2v2h-2zM602 220h2v2h-2zM582 234h2v2h-2zM588 234h2v2h-2zM596 236h2v2h-2zM598 236h2v2h-2zM602 236h2v2h-2zM606 244h2v2h-2zM588 246h2v2h-2zM594 246h2v2h-2z"/>
<path fill="#f9bd33" d="M630 134h2v2h-2zM632 134h2v2h-2zM630 136h2v2h-2zM628 138h2v2h-2zM628 140h2v2h-2zM592 152h2v2h-2zM612 152h2v2h-2zM598 154h2v2h-2zM602 154h2v2h-2zM604 154h2v2h-2zM606 154h2v2h-2zM608 154h2v2h-2zM576 166h2v2h-2zM654 166h2v2h-2zM650 168h2v2h-2zM652 168h2v2h-2zM644 170h2v2h-2zM646 170h2v2h-2zM648 170h2v2h-2zM650 170h2v2h-2zM574 172h2v2h-2zM638 172h2v2h-2zM640 172h2v2h-2zM642 172h2v2h-2zM644 172h2v2h-2zM646 172h2v2h-2zM574 174h2v2h-2zM636 174h2v2h-2zM638 174h2v2h-2zM640 174h2v2h-2zM642 174h2v2h-2zM574 176h2v2h-2zM636 176h2v2h-2zM638 176h2v2h-2zM636 178h2v2h-2zM570 182h2v2h-2zM574 184h2v2h-2zM632 184h2v2h-2zM572 186h2v2h-2zM630 186h2v2h-2zM560 188h2v2h-2zM630 188h2v2h-2zM628 194h2v2h-2zM576 196h2v2h-2zM570 202h2v2h-2zM576 202h2v2h-2zM626 208h2v2h-2zM624 210h2v2h-2zM610 212h2v2h-2zM612 212h2v2h-2zM580 214h2v2h-2zM588 214h2v2h-2zM590 214h2v2h-2zM582 216h2v2h-2zM586 216h2v2h-2zM588 216h2v2h-2zM590 216h2v2h-2zM592 216h2v2h-2zM596 216h2v2h-2zM598 216h2v2h-2zM600 216h2v2h-2zM602 216h2v2h-2zM584 218h2v2h-2zM586 218h2v2h-2zM588 218h2v2h-2zM590 218h2v2h-2zM592 218h2v2h-2zM594 218h2v2h-2zM596 218h2v2h-2zM598 218h2v2h-2zM600 218h2v2h-2zM584 234h2v2h-2zM586 234h2v2h-2zM594 236h2v2h-2zM600 236h2v2h-2zM580 238h2v2h-2zM606 240h2v2h-2zM606 242h2v2h-2z"/>
<path fill="#f9b733" d="M634 134h2v2h-2zM636 134h2v2h-2zM654 134h2v2h-2zM632 136h2v2h-2zM634 136h2v2h-2zM630 138h2v2h-2zM632 138h2v2h-2zM630 140h2v2h-2zM628 142h2v2h-2zM626 144h2v2h-2zM610 154h2v2h-2zM580 158h2v2h-2zM654 162h2v2h-2zM652 164h2v2h-2zM654 164h2v2h-2zM650 166h2v2h-2zM652 166h2v2h-2zM576 168h2v2h-2zM646 168h2v2h-2zM648 168h2v2h-2zM638 170h2v2h-2zM640 170h2v2h-2zM642 170h2v2h-2zM636 172h2v2h-2zM576 174h2v2h-2zM576 176h2v2h-2zM574 178h2v2h-2zM634 180h2v2h-2zM572 182h2v2h-2zM574 182h2v2h-2zM632 182h2v2h-2zM572 184h2v2h-2zM576 184h2v2h-2zM630 184h2v2h-2zM628 186h2v2h-2zM572 188h2v2h-2zM628 188h2v2h-2zM574 190h2v2h-2zM628 190h2v2h-2zM628 192h2v2h-2zM576 194h2v2h-2zM574 196h2v2h-2zM574 198h2v2h-2zM576 198h2v2h-2zM562 200h2v2h-2zM574 200h2v2h-2zM626 204h2v2h-2zM626 206h2v2h-2zM614 210h2v2h-2zM616 210h2v2h-2zM618 210h2v2h-2zM608 212h2v2h-2zM586 214h2v2h-2zM592 214h2v2h-2zM598 214h2v2h-2zM600 214h2v2h-2zM604 214h2v2h-2zM584 216h2v2h-2zM594 216h2v2h-2zM592 236h2v2h-2zM580 240h2v2h-2zM580 242h2v2h-2z"/>
<path fill="#f9b133" d="M638 134h2v2h-2zM640 134h2v2h-2zM642 134h2v2h-2zM646 134h2v2h-2zM648 134h2v2h-2zM650 134h2v2h-2zM652 134h2v2h-2zM636 136h2v2h-2zM652 136h2v2h-2zM654 136h2v2h-2zM654 138h2v2h-2zM622 146h2v2h-2zM654 160h2v2h-2zM648 166h2v2h-2zM644 168h2v2h-2zM634 178h2v2h-2zM574 180h2v2h-2zM576 190h2v2h-2zM574 194h2v2h-2zM572 200h2v2h-2zM576 200h2v2h-2zM626 202h2v2h-2zM578 210h2v2h-2zM612 210h2v2h-2zM584 214h2v2h-2zM602 214h2v2h-2zM582 236h2v2h-2z"/>
<path fill="#f9b12d" d="M644 134h2v2h-2zM638 136h2v2h-2zM640 136h2v2h-2zM642 136h2v2h-2zM644 136h2v2h-2zM646 136h2v2h-2zM648 136h2v2h-2zM650 136h2v2h-2zM634 138h2v2h-2zM636 138h2v2h-2zM648 138h2v2h-2zM650 138h2v2h-2zM652 138h2v2h-2zM632 140h2v2h-2zM652 140h2v2h-2zM654 140h2v2h-2zM630 142h2v2h-2zM654 142h2v2h-2zM654 144h2v2h-2zM616 146h2v2h-2zM620 146h2v2h-2zM614 148h2v2h-2zM582 154h2v2h-2zM654 156h2v2h-2zM654 158h2v2h-2zM652 160h2v2h-2zM652 162h2v2h-2zM650 164h2v2h-2zM646 166h2v2h-2zM642 168h2v2h-2zM576 170h2v2h-2zM576 172h2v2h-2zM634 176h2v2h-2zM630 182h2v2h-2zM570 184h2v2h-2zM628 184h2v2h-2zM560 190h2v2h-2zM574 192h2v2h-2zM626 200h2v2h-2zM610 206h2v2h-2zM612 206h2v2h-2zM612 208h2v2h-2zM614 208h2v2h-2zM620 210h2v2h-2zM622 210h2v2h-2zM588 212h2v2h-2zM590 212h2v2h-2zM582 214h2v2h-2zM594 214h2v2h-2zM596 214h2v2h-2z"/>
<path fill="#6fbd39" d="M540 136h2v2h-2zM590 136h2v2h-2zM606 138h2v2h-2zM536 144h2v2h-2zM534 152h2v2h-2zM534 162h2v2h-2zM534 164h2v2h-2zM558 170h2v2h-2zM554 184h2v2h-2zM544 202h2v2h-2zM648 202h2v2h-2zM652 204h2v2h-2zM628 224h2v2h-2zM568 244h2v2h-2zM622 244h2v2h-2zM620 246h2v2h-2zM618 248h2v2h-2z"/>
<path fill="#69bd45" d="M548 136h2v2h-2zM602 136h2v2h-2zM546 138h2v2h-2zM544 140h2v2h-2zM542 144h2v2h-2zM570 144h2v2h-2zM572 144h2v2h-2zM542 146h2v2h-2zM540 150h2v2h-2zM568 150h2v2h-2zM540 152h2v2h-2zM562 152h2v2h-2zM564 152h2v2h-2zM566 152h2v2h-2zM540 154h2v2h-2zM540 156h2v2h-2zM540 158h2v2h-2zM558 158h2v2h-2zM540 160h2v2h-2zM540 162h2v2h-2zM556 162h2v2h-2zM542 166h2v2h-2zM554 166h2v2h-2zM544 168h2v2h-2zM552 168h2v2h-2zM534 198h2v2h-2zM536 198h2v2h-2zM538 198h2v2h-2zM542 200h2v2h-2zM544 208h2v2h-2zM650 210h2v2h-2zM644 212h2v2h-2zM552 220h2v2h-2zM638 222h2v2h-2zM556 224h2v2h-2zM634 224h2v2h-2zM564 226h2v2h-2zM620 228h2v2h-2zM564 232h2v2h-2zM618 234h2v2h-2zM624 236h2v2h-2zM566 240h2v2h-2zM566 242h2v2h-2zM570 248h2v2h-2zM620 248h2v2h-2zM586 260h2v2h-2z"/>
<path fill="#57b74b" d="M558 136h2v2h-2zM560 136h2v2h-2zM562 136h2v2h-2zM564 136h2v2h-2zM572 136h2v2h-2zM574 136h2v2h-2zM556 138h2v2h-2zM558 138h2v2h-2zM564 138h2v2h-2zM572 138h2v2h-2zM574 138h2v2h-2zM576 138h2v2h-2zM556 140h2v2h-2zM558 140h2v2h-2zM564 140h2v2h-2zM572 140h2v2h-2zM574 140h2v2h-2zM576 140h2v2h-2zM598 140h2v2h-2zM600 140h2v2h-2zM554 142h2v2h-2zM556 142h2v2h-2zM558 142h2v2h-2zM560 142h2v2h-2zM562 142h2v2h-2zM564 142h2v2h-2zM550 144h2v2h-2zM552 144h2v2h-2zM556 144h2v2h-2zM558 144h2v2h-2zM560 144h2v2h-2zM550 146h2v2h-2zM558 146h2v2h-2zM548 148h2v2h-2zM548 150h2v2h-2zM548 152h2v2h-2zM550 152h2v2h-2zM548 154h2v2h-2zM550 154h2v2h-2zM552 154h2v2h-2zM554 154h2v2h-2zM548 156h2v2h-2zM550 156h2v2h-2zM554 156h2v2h-2zM550 158h2v2h-2zM552 158h2v2h-2zM554 158h2v2h-2zM536 202h2v2h-2zM538 202h2v2h-2zM540 202h2v2h-2zM536 204h2v2h-2zM540 204h2v2h-2zM534 206h2v2h-2zM536 206h2v2h-2zM538 206h2v2h-2zM540 206h2v2h-2zM534 208h2v2h-2zM540 208h2v2h-2zM546 212h2v2h-2zM648 212h2v2h-2zM650 212h2v2h-2zM548 214h2v2h-2zM654 214h2v2h-2zM548 216h2v2h-2zM548 218h2v2h-2zM548 220h2v2h-2zM550 222h2v2h-2zM554 226h2v2h-2zM632 226h2v2h-2zM634 226h2v2h-2zM636 226h2v2h-2zM626 232h2v2h-2zM558 234h2v2h-2zM560 236h2v2h-2zM562 236h2v2h-2zM564 240h2v2h-2zM564 244h2v2h-2zM564 246h2v2h-2zM626 246h2v2h-2zM624 248h2v2h-2zM568 250h2v2h-2zM620 250h2v2h-2zM618 252h2v2h-2zM570 254h2v2h-2zM612 260h2v2h-2zM578 262h2v2h-2zM580 264h2v2h-2zM596 264h2v2h-2zM588 266h2v2h-2zM594 266h2v2h-2z"/>
<path fill="#a5c939" d="M616 136h2v2h-2zM590 144h2v2h-2zM582 146h2v2h-2zM576 154h2v2h-2zM576 156h2v2h-2zM574 158h2v2h-2zM560 180h2v2h-2zM558 182h2v2h-2zM554 194h2v2h-2zM652 194h2v2h-2zM552 198h2v2h-2zM552 200h2v2h-2zM642 200h2v2h-2zM554 210h2v2h-2zM626 218h2v2h-2zM558 220h2v2h-2zM568 234h2v2h-2zM568 236h2v2h-2zM616 238h2v2h-2zM574 246h2v2h-2zM576 246h2v2h-2zM616 246h2v2h-2zM580 248h2v2h-2zM592 254h2v2h-2zM594 254h2v2h-2zM598 256h2v2h-2zM600 256h2v2h-2z"/>
<path fill="#d5d539" d="M618 136h2v2h-2zM614 144h2v2h-2zM590 148h2v2h-2zM588 150h2v2h-2zM578 158h2v2h-2zM648 182h2v2h-2zM650 182h2v2h-2zM652 182h2v2h-2zM642 186h2v2h-2zM556 196h2v2h-2zM638 200h2v2h-2zM638 202h2v2h-2zM560 210h2v2h-2zM632 210h2v2h-2zM634 210h2v2h-2zM566 218h2v2h-2zM622 220h2v2h-2zM616 222h2v2h-2zM618 222h2v2h-2zM612 224h2v2h-2zM604 230h2v2h-2zM570 232h2v2h-2zM570 234h2v2h-2zM606 234h2v2h-2zM610 236h2v2h-2zM574 244h2v2h-2z"/>
<path fill="#f3d539" d="M620 136h2v2h-2zM612 146h2v2h-2zM594 150h2v2h-2zM582 152h2v2h-2zM600 152h2v2h-2zM580 154h2v2h-2zM650 178h2v2h-2zM652 178h2v2h-2zM654 178h2v2h-2zM646 180h2v2h-2zM564 182h2v2h-2zM638 184h2v2h-2zM636 188h2v2h-2zM636 190h2v2h-2zM558 192h2v2h-2zM636 196h2v2h-2zM636 198h2v2h-2zM632 202h2v2h-2zM558 204h2v2h-2zM630 204h2v2h-2zM558 206h2v2h-2zM562 208h2v2h-2zM566 210h2v2h-2zM568 214h2v2h-2zM616 214h2v2h-2zM614 216h2v2h-2zM570 218h2v2h-2zM572 220h2v2h-2zM612 220h2v2h-2zM574 222h2v2h-2zM608 222h2v2h-2zM610 222h2v2h-2zM604 224h2v2h-2zM572 226h2v2h-2zM596 226h2v2h-2zM572 228h2v2h-2zM594 228h2v2h-2zM572 230h2v2h-2zM594 230h2v2h-2zM574 232h2v2h-2zM594 232h2v2h-2zM596 234h2v2h-2zM572 236h2v2h-2zM608 238h2v2h-2zM612 240h2v2h-2zM610 244h2v2h-2zM612 244h2v2h-2zM604 248h2v2h-2z"/>
<path fill="#57b751" d="M560 138h2v2h-2zM562 138h2v2h-2zM560 140h2v2h-2zM562 140h2v2h-2zM554 144h2v2h-2zM552 146h2v2h-2zM550 148h2v2h-2zM558 148h2v2h-2zM550 150h2v2h-2zM558 150h2v2h-2zM552 152h2v2h-2zM554 152h2v2h-2zM556 152h2v2h-2zM552 156h2v2h-2zM538 204h2v2h-2zM536 208h2v2h-2zM538 208h2v2h-2zM542 210h2v2h-2zM544 212h2v2h-2zM546 214h2v2h-2zM546 216h2v2h-2zM642 216h2v2h-2zM546 218h2v2h-2zM552 224h2v2h-2zM640 224h2v2h-2zM638 226h2v2h-2zM554 228h2v2h-2zM628 228h2v2h-2zM556 232h2v2h-2zM628 236h2v2h-2zM560 238h2v2h-2zM562 238h2v2h-2zM628 238h2v2h-2zM560 240h2v2h-2zM562 240h2v2h-2zM560 242h2v2h-2zM562 242h2v2h-2zM562 244h2v2h-2zM564 248h2v2h-2zM566 248h2v2h-2zM564 250h2v2h-2zM566 250h2v2h-2zM566 252h2v2h-2zM568 252h2v2h-2zM576 260h2v2h-2zM604 262h2v2h-2zM598 264h2v2h-2zM600 264h2v2h-2zM602 264h2v2h-2zM584 266h2v2h-2zM586 266h2v2h-2zM596 266h2v2h-2zM598 266h2v2h-2z"/>
<path fill="#9fc939" d="M616 138h2v2h-2zM596 144h2v2h-2zM574 154h2v2h-2zM572 156h2v2h-2zM574 156h2v2h-2zM572 158h2v2h-2zM572 160h2v2h-2zM570 168h2v2h-2zM568 174h2v2h-2zM568 176h2v2h-2zM556 190h2v2h-2zM644 194h2v2h-2zM650 194h2v2h-2zM552 196h2v2h-2zM642 196h2v2h-2zM654 196h2v2h-2zM552 202h2v2h-2zM552 204h2v2h-2zM552 206h2v2h-2zM642 210h2v2h-2zM554 212h2v2h-2zM640 212h2v2h-2zM554 214h2v2h-2zM626 220h2v2h-2zM622 224h2v2h-2zM614 228h2v2h-2zM614 234h2v2h-2zM568 238h2v2h-2zM570 244h2v2h-2zM608 250h2v2h-2zM582 252h2v2h-2zM596 256h2v2h-2zM602 256h2v2h-2z"/>
<path fill="#dbd539" d="M618 138h2v2h-2zM604 146h2v2h-2zM592 148h2v2h-2zM598 148h2v2h-2zM600 148h2v2h-2zM586 150h2v2h-2zM570 172h2v2h-2zM570 174h2v2h-2zM646 182h2v2h-2zM654 182h2v2h-2zM642 184h2v2h-2zM638 196h2v2h-2zM556 198h2v2h-2zM638 198h2v2h-2zM636 204h2v2h-2zM556 206h2v2h-2zM636 206h2v2h-2zM636 208h2v2h-2zM630 210h2v2h-2zM564 212h2v2h-2zM566 216h2v2h-2zM620 218h2v2h-2zM622 218h2v2h-2zM568 220h2v2h-2zM618 220h2v2h-2zM620 220h2v2h-2zM606 226h2v2h-2zM604 228h2v2h-2zM570 230h2v2h-2zM604 232h2v2h-2zM570 236h2v2h-2zM608 236h2v2h-2zM570 238h2v2h-2zM570 240h2v2h-2zM576 244h2v2h-2zM586 248h2v2h-2zM592 248h2v2h-2zM606 248h2v2h-2z"/>
<path fill="#f9ab2d" d="M638 138h2v2h-2zM640 138h2v2h-2zM642 138h2v2h-2zM644 138h2v2h-2zM646 138h2v2h-2zM634 140h2v2h-2zM636 140h2v2h-2zM638 140h2v2h-2zM640 140h2v2h-2zM642 140h2v2h-2zM644 140h2v2h-2zM646 140h2v2h-2zM648 140h2v2h-2zM650 140h2v2h-2zM632 142h2v2h-2zM646 142h2v2h-2zM648 142h2v2h-2zM650 142h2v2h-2zM652 142h2v2h-2zM628 144h2v2h-2zM648 144h2v2h-2zM650 144h2v2h-2zM652 144h2v2h-2zM618 146h2v2h-2zM624 146h2v2h-2zM650 146h2v2h-2zM652 146h2v2h-2zM654 146h2v2h-2zM652 148h2v2h-2zM654 148h2v2h-2zM614 150h2v2h-2zM652 150h2v2h-2zM654 150h2v2h-2zM652 152h2v2h-2zM654 152h2v2h-2zM596 154h2v2h-2zM612 154h2v2h-2zM652 154h2v2h-2zM654 154h2v2h-2zM652 156h2v2h-2zM650 158h2v2h-2zM652 158h2v2h-2zM650 160h2v2h-2zM648 162h2v2h-2zM650 162h2v2h-2zM646 164h2v2h-2zM648 164h2v2h-2zM644 166h2v2h-2zM640 168h2v2h-2zM636 170h2v2h-2zM634 174h2v2h-2zM576 178h2v2h-2zM632 180h2v2h-2zM576 182h2v2h-2zM564 184h2v2h-2zM572 190h2v2h-2zM576 192h2v2h-2zM578 196h2v2h-2zM560 198h2v2h-2zM578 198h2v2h-2zM626 198h2v2h-2zM566 202h2v2h-2zM568 202h2v2h-2zM610 204h2v2h-2zM612 204h2v2h-2zM614 206h2v2h-2zM578 208h2v2h-2zM610 208h2v2h-2zM616 208h2v2h-2zM624 208h2v2h-2zM610 210h2v2h-2zM580 212h2v2h-2zM586 212h2v2h-2zM606 212h2v2h-2zM590 236h2v2h-2zM604 238h2v2h-2zM592 244h2v2h-2zM584 246h2v2h-2zM586 246h2v2h-2zM604 246h2v2h-2z"/>
<path fill="#abc939" d="M616 140h2v2h-2zM594 144h2v2h-2zM610 144h2v2h-2zM612 144h2v2h-2zM576 158h2v2h-2zM568 170h2v2h-2zM568 172h2v2h-2zM648 192h2v2h-2zM650 192h2v2h-2zM654 194h2v2h-2zM632 212h2v2h-2zM626 216h2v2h-2zM556 218h2v2h-2zM560 220h2v2h-2zM562 220h2v2h-2zM620 224h2v2h-2zM568 232h2v2h-2zM614 248h2v2h-2zM604 252h2v2h-2zM586 254h2v2h-2zM590 254h2v2h-2zM596 254h2v2h-2zM598 254h2v2h-2zM600 254h2v2h-2zM602 254h2v2h-2z"/>
<path fill="#87c339" d="M604 142h2v2h-2zM580 144h2v2h-2zM600 144h2v2h-2zM572 164h2v2h-2zM566 166h2v2h-2zM564 168h2v2h-2zM562 172h2v2h-2zM564 172h2v2h-2zM562 174h2v2h-2zM566 174h2v2h-2zM562 176h2v2h-2zM566 176h2v2h-2zM556 182h2v2h-2zM556 184h2v2h-2zM556 188h2v2h-2zM546 192h2v2h-2zM646 198h2v2h-2zM646 200h2v2h-2zM652 200h2v2h-2zM546 206h2v2h-2zM548 208h2v2h-2zM644 208h2v2h-2zM630 214h2v2h-2zM632 214h2v2h-2zM628 216h2v2h-2zM628 220h2v2h-2zM562 222h2v2h-2zM568 242h2v2h-2zM574 250h2v2h-2zM576 250h2v2h-2zM578 250h2v2h-2zM614 250h2v2h-2zM576 252h2v2h-2zM578 252h2v2h-2zM610 252h2v2h-2zM612 252h2v2h-2zM582 254h2v2h-2zM608 254h2v2h-2zM610 254h2v2h-2zM590 256h2v2h-2zM592 256h2v2h-2zM602 258h2v2h-2z"/>
<path fill="#93c339" d="M606 142h2v2h-2zM574 152h2v2h-2zM570 156h2v2h-2zM570 158h2v2h-2zM566 168h2v2h-2zM562 178h2v2h-2zM564 178h2v2h-2zM652 198h2v2h-2zM564 222h2v2h-2zM566 224h2v2h-2zM624 224h2v2h-2zM578 248h2v2h-2zM580 250h2v2h-2zM612 250h2v2h-2zM594 256h2v2h-2z"/>
<path fill="#f9a52d" d="M634 142h2v2h-2zM636 142h2v2h-2zM638 142h2v2h-2zM640 142h2v2h-2zM642 142h2v2h-2zM644 142h2v2h-2zM630 144h2v2h-2zM642 144h2v2h-2zM644 144h2v2h-2zM646 144h2v2h-2zM646 146h2v2h-2zM648 146h2v2h-2zM648 148h2v2h-2zM650 148h2v2h-2zM648 150h2v2h-2zM650 150h2v2h-2zM614 152h2v2h-2zM648 152h2v2h-2zM650 152h2v2h-2zM648 154h2v2h-2zM650 154h2v2h-2zM648 156h2v2h-2zM650 156h2v2h-2zM648 158h2v2h-2zM648 160h2v2h-2zM646 162h2v2h-2zM644 164h2v2h-2zM642 166h2v2h-2zM638 168h2v2h-2zM634 172h2v2h-2zM632 178h2v2h-2zM576 180h2v2h-2zM630 180h2v2h-2zM628 182h2v2h-2zM568 184h2v2h-2zM562 186h2v2h-2zM570 186h2v2h-2zM560 192h2v2h-2zM578 194h2v2h-2zM626 196h2v2h-2zM572 198h2v2h-2zM614 204h2v2h-2zM578 206h2v2h-2zM616 206h2v2h-2zM624 206h2v2h-2zM618 208h2v2h-2zM592 212h2v2h-2zM596 246h2v2h-2z"/>
<path fill="#93c939" d="M582 144h2v2h-2zM584 144h2v2h-2zM586 144h2v2h-2zM572 166h2v2h-2zM650 196h2v2h-2zM548 200h2v2h-2zM548 206h2v2h-2zM638 214h2v2h-2zM616 226h2v2h-2zM614 230h2v2h-2zM614 232h2v2h-2zM610 250h2v2h-2z"/>
<path fill="#99c939" d="M588 144h2v2h-2zM602 144h2v2h-2zM580 150h2v2h-2zM578 152h2v2h-2zM572 154h2v2h-2zM568 168h2v2h-2zM566 170h2v2h-2zM566 178h2v2h-2zM554 192h2v2h-2zM548 194h2v2h-2zM550 194h2v2h-2zM552 194h2v2h-2zM646 194h2v2h-2zM648 194h2v2h-2zM548 196h2v2h-2zM550 196h2v2h-2zM652 196h2v2h-2zM548 198h2v2h-2zM550 198h2v2h-2zM642 198h2v2h-2zM654 198h2v2h-2zM550 200h2v2h-2zM548 202h2v2h-2zM550 202h2v2h-2zM548 204h2v2h-2zM550 204h2v2h-2zM550 206h2v2h-2zM552 208h2v2h-2zM628 214h2v2h-2zM636 214h2v2h-2zM554 216h2v2h-2zM556 220h2v2h-2zM626 222h2v2h-2zM568 240h2v2h-2zM572 246h2v2h-2zM606 252h2v2h-2zM584 254h2v2h-2zM604 254h2v2h-2z"/>
<path fill="#b7cf33" d="M604 144h2v2h-2zM582 148h2v2h-2zM558 184h2v2h-2zM646 186h2v2h-2zM648 186h2v2h-2zM644 188h2v2h-2zM650 188h2v2h-2zM644 190h2v2h-2zM652 190h2v2h-2zM644 192h2v2h-2zM554 198h2v2h-2zM554 204h2v2h-2zM642 204h2v2h-2zM554 206h2v2h-2zM642 206h2v2h-2zM556 212h2v2h-2zM636 212h2v2h-2zM556 214h2v2h-2zM556 216h2v2h-2zM558 218h2v2h-2zM568 226h2v2h-2zM612 230h2v2h-2zM612 232h2v2h-2zM616 242h2v2h-2zM584 252h2v2h-2zM594 252h2v2h-2z"/>
<path fill="#c9cf33" d="M606 144h2v2h-2zM588 146h2v2h-2zM590 146h2v2h-2zM582 150h2v2h-2zM578 156h2v2h-2zM576 160h2v2h-2zM570 170h2v2h-2zM566 180h2v2h-2zM560 182h2v2h-2zM646 184h2v2h-2zM648 184h2v2h-2zM650 184h2v2h-2zM654 186h2v2h-2zM642 192h2v2h-2zM640 202h2v2h-2zM640 208h2v2h-2zM638 210h2v2h-2zM564 216h2v2h-2zM624 218h2v2h-2zM566 220h2v2h-2zM614 224h2v2h-2zM606 230h2v2h-2zM606 232h2v2h-2zM608 234h2v2h-2zM612 236h2v2h-2zM570 242h2v2h-2zM572 244h2v2h-2zM608 248h2v2h-2zM584 250h2v2h-2zM592 250h2v2h-2zM596 250h2v2h-2zM598 250h2v2h-2zM600 250h2v2h-2zM602 250h2v2h-2z"/>
<path fill="#bdcf33" d="M608 144h2v2h-2zM584 146h2v2h-2zM574 162h2v2h-2zM572 168h2v2h-2zM568 178h2v2h-2zM564 180h2v2h-2zM650 186h2v2h-2zM652 188h2v2h-2zM654 190h2v2h-2zM556 192h2v2h-2zM640 198h2v2h-2zM554 200h2v2h-2zM554 202h2v2h-2zM640 210h2v2h-2zM558 214h2v2h-2zM558 216h2v2h-2zM560 216h2v2h-2zM560 218h2v2h-2zM562 218h2v2h-2zM616 224h2v2h-2zM612 228h2v2h-2zM612 234h2v2h-2zM612 248h2v2h-2zM586 252h2v2h-2zM588 252h2v2h-2zM590 252h2v2h-2zM592 252h2v2h-2z"/>
<path fill="#f9c933" d="M622 144h2v2h-2zM652 172h2v2h-2zM648 174h2v2h-2zM572 176h2v2h-2zM646 176h2v2h-2zM630 194h2v2h-2zM576 210h2v2h-2zM596 222h2v2h-2zM598 222h2v2h-2zM590 234h2v2h-2zM580 236h2v2h-2z"/>
<path fill="#f99f2d" d="M632 144h2v2h-2zM640 144h2v2h-2zM644 146h2v2h-2zM646 148h2v2h-2zM646 160h2v2h-2zM566 184h2v2h-2zM572 196h2v2h-2zM578 204h2v2h-2zM594 238h2v2h-2z"/>
<path fill="#f39f2d" d="M634 144h2v2h-2zM636 144h2v2h-2zM638 144h2v2h-2zM638 146h2v2h-2zM640 146h2v2h-2zM642 146h2v2h-2zM616 148h2v2h-2zM618 148h2v2h-2zM620 148h2v2h-2zM642 148h2v2h-2zM644 148h2v2h-2zM616 150h2v2h-2zM644 150h2v2h-2zM646 150h2v2h-2zM616 152h2v2h-2zM646 152h2v2h-2zM586 154h2v2h-2zM646 154h2v2h-2zM604 156h2v2h-2zM606 156h2v2h-2zM608 156h2v2h-2zM646 156h2v2h-2zM646 158h2v2h-2zM644 162h2v2h-2zM642 164h2v2h-2zM640 166h2v2h-2zM636 168h2v2h-2zM634 170h2v2h-2zM632 176h2v2h-2zM626 186h2v2h-2zM626 188h2v2h-2zM626 190h2v2h-2zM572 192h2v2h-2zM572 194h2v2h-2zM626 194h2v2h-2zM610 196h2v2h-2zM610 198h2v2h-2zM578 200h2v2h-2zM578 202h2v2h-2zM612 202h2v2h-2zM624 204h2v2h-2zM618 206h2v2h-2zM620 208h2v2h-2zM622 208h2v2h-2zM608 210h2v2h-2zM582 212h2v2h-2zM584 212h2v2h-2zM584 236h2v2h-2zM592 238h2v2h-2zM594 244h2v2h-2z"/>
<path fill="#51b751" d="M554 146h2v2h-2zM556 146h2v2h-2zM552 148h2v2h-2zM554 148h2v2h-2zM556 148h2v2h-2zM552 150h2v2h-2zM554 150h2v2h-2zM556 150h2v2h-2zM534 210h2v2h-2zM536 210h2v2h-2zM538 210h2v2h-2zM540 210h2v2h-2zM544 214h2v2h-2zM644 214h2v2h-2zM652 214h2v2h-2zM544 216h2v2h-2zM654 216h2v2h-2zM544 218h2v2h-2zM642 218h2v2h-2zM544 220h2v2h-2zM546 220h2v2h-2zM642 220h2v2h-2zM548 222h2v2h-2zM642 222h2v2h-2zM550 224h2v2h-2zM552 226h2v2h-2zM552 228h2v2h-2zM630 228h2v2h-2zM632 228h2v2h-2zM634 228h2v2h-2zM636 228h2v2h-2zM554 230h2v2h-2zM628 230h2v2h-2zM628 232h2v2h-2zM556 234h2v2h-2zM628 234h2v2h-2zM630 234h2v2h-2zM558 236h2v2h-2zM630 236h2v2h-2zM632 236h2v2h-2zM558 238h2v2h-2zM630 238h2v2h-2zM558 240h2v2h-2zM628 240h2v2h-2zM558 242h2v2h-2zM628 242h2v2h-2zM560 244h2v2h-2zM628 244h2v2h-2zM562 246h2v2h-2zM628 246h2v2h-2zM562 248h2v2h-2zM626 248h2v2h-2zM562 250h2v2h-2zM622 250h2v2h-2zM562 252h2v2h-2zM564 252h2v2h-2zM620 252h2v2h-2zM566 254h2v2h-2zM568 254h2v2h-2zM618 254h2v2h-2zM572 256h2v2h-2zM618 256h2v2h-2zM574 258h2v2h-2zM616 258h2v2h-2zM576 262h2v2h-2zM606 262h2v2h-2zM608 262h2v2h-2zM578 264h2v2h-2zM604 264h2v2h-2zM582 266h2v2h-2zM600 266h2v2h-2zM602 266h2v2h-2zM588 268h2v2h-2zM590 268h2v2h-2zM592 268h2v2h-2zM594 268h2v2h-2zM596 268h2v2h-2zM598 268h2v2h-2zM600 268h2v2h-2zM588 270h2v2h-2zM590 270h2v2h-2z"/>
<path fill="#c3cf33" d="M586 146h2v2h-2zM580 152h2v2h-2zM578 154h2v2h-2zM574 164h2v2h-2zM558 186h2v2h-2zM644 186h2v2h-2zM652 186h2v2h-2zM654 188h2v2h-2zM640 196h2v2h-2zM640 200h2v2h-2zM556 210h2v2h-2zM558 212h2v2h-2zM560 212h2v2h-2zM628 212h2v2h-2zM560 214h2v2h-2zM562 214h2v2h-2zM626 214h2v2h-2zM562 216h2v2h-2zM564 218h2v2h-2zM624 220h2v2h-2zM622 222h2v2h-2zM568 224h2v2h-2zM612 226h2v2h-2zM608 228h2v2h-2zM610 228h2v2h-2zM608 230h2v2h-2zM610 230h2v2h-2zM608 232h2v2h-2zM610 232h2v2h-2zM610 234h2v2h-2zM610 248h2v2h-2zM586 250h2v2h-2zM588 250h2v2h-2zM590 250h2v2h-2zM604 250h2v2h-2z"/>
<path fill="#cfd533" d="M592 146h2v2h-2zM600 146h2v2h-2zM602 146h2v2h-2zM584 148h2v2h-2zM574 166h2v2h-2zM644 184h2v2h-2zM652 184h2v2h-2zM558 188h2v2h-2zM556 194h2v2h-2zM640 204h2v2h-2zM640 206h2v2h-2zM556 208h2v2h-2zM638 208h2v2h-2zM558 210h2v2h-2zM636 210h2v2h-2zM564 214h2v2h-2zM568 222h2v2h-2zM620 222h2v2h-2zM606 228h2v2h-2zM614 238h2v2h-2zM614 246h2v2h-2z"/>
<path fill="#e7d539" d="M610 146h2v2h-2zM596 150h2v2h-2zM572 170h2v2h-2zM650 180h2v2h-2zM652 180h2v2h-2zM654 180h2v2h-2zM560 184h2v2h-2zM640 186h2v2h-2zM640 188h2v2h-2zM640 190h2v2h-2zM638 192h2v2h-2zM638 194h2v2h-2zM636 200h2v2h-2zM634 204h2v2h-2zM634 206h2v2h-2zM632 208h2v2h-2zM564 210h2v2h-2zM628 210h2v2h-2zM566 212h2v2h-2zM618 214h2v2h-2zM620 214h2v2h-2zM622 214h2v2h-2zM616 216h2v2h-2zM568 218h2v2h-2zM608 224h2v2h-2zM602 226h2v2h-2zM596 230h2v2h-2zM596 232h2v2h-2zM604 234h2v2h-2zM614 242h2v2h-2zM610 246h2v2h-2zM584 248h2v2h-2zM594 248h2v2h-2z"/>
<path fill="#f3992d" d="M626 146h2v2h-2zM628 146h2v2h-2zM630 146h2v2h-2zM632 146h2v2h-2zM634 146h2v2h-2zM636 146h2v2h-2zM632 148h2v2h-2zM634 148h2v2h-2zM636 148h2v2h-2zM638 148h2v2h-2zM640 148h2v2h-2zM618 150h2v2h-2zM620 150h2v2h-2zM632 150h2v2h-2zM634 150h2v2h-2zM636 150h2v2h-2zM638 150h2v2h-2zM640 150h2v2h-2zM642 150h2v2h-2zM618 152h2v2h-2zM630 152h2v2h-2zM632 152h2v2h-2zM634 152h2v2h-2zM636 152h2v2h-2zM638 152h2v2h-2zM640 152h2v2h-2zM642 152h2v2h-2zM644 152h2v2h-2zM584 154h2v2h-2zM588 154h2v2h-2zM614 154h2v2h-2zM630 154h2v2h-2zM632 154h2v2h-2zM634 154h2v2h-2zM642 154h2v2h-2zM644 154h2v2h-2zM602 156h2v2h-2zM610 156h2v2h-2zM644 156h2v2h-2zM644 158h2v2h-2zM644 160h2v2h-2zM642 162h2v2h-2zM638 166h2v2h-2zM630 172h2v2h-2zM632 172h2v2h-2zM628 174h2v2h-2zM630 174h2v2h-2zM632 174h2v2h-2zM628 176h2v2h-2zM630 176h2v2h-2zM628 178h2v2h-2zM630 178h2v2h-2zM628 180h2v2h-2zM626 184h2v2h-2zM578 186h2v2h-2zM578 188h2v2h-2zM626 192h2v2h-2zM560 194h2v2h-2zM560 196h2v2h-2zM612 196h2v2h-2zM612 198h2v2h-2zM570 200h2v2h-2zM610 202h2v2h-2zM624 202h2v2h-2zM616 204h2v2h-2zM620 204h2v2h-2zM622 204h2v2h-2zM620 206h2v2h-2zM622 206h2v2h-2zM608 208h2v2h-2zM580 210h2v2h-2zM604 212h2v2h-2zM588 236h2v2h-2zM582 238h2v2h-2z"/>
<path fill="#e1d539" d="M594 148h2v2h-2zM596 148h2v2h-2zM602 148h2v2h-2zM584 150h2v2h-2zM590 150h2v2h-2zM598 150h2v2h-2zM600 150h2v2h-2zM570 176h2v2h-2zM568 180h2v2h-2zM562 182h2v2h-2zM644 182h2v2h-2zM558 190h2v2h-2zM640 192h2v2h-2zM556 200h2v2h-2zM556 202h2v2h-2zM636 202h2v2h-2zM556 204h2v2h-2zM558 208h2v2h-2zM634 208h2v2h-2zM562 210h2v2h-2zM626 212h2v2h-2zM566 214h2v2h-2zM624 214h2v2h-2zM618 216h2v2h-2zM620 216h2v2h-2zM622 216h2v2h-2zM616 218h2v2h-2zM618 218h2v2h-2zM616 220h2v2h-2zM570 222h2v2h-2zM614 222h2v2h-2zM570 224h2v2h-2zM610 224h2v2h-2zM570 226h2v2h-2zM604 226h2v2h-2zM570 228h2v2h-2zM598 228h2v2h-2zM600 228h2v2h-2zM602 228h2v2h-2zM598 230h2v2h-2zM600 230h2v2h-2zM602 230h2v2h-2zM598 232h2v2h-2zM600 232h2v2h-2zM602 232h2v2h-2zM612 238h2v2h-2zM614 240h2v2h-2zM578 244h2v2h-2zM614 244h2v2h-2zM612 246h2v2h-2z"/>
<path fill="#f9db39" d="M606 148h2v2h-2zM608 148h2v2h-2zM610 148h2v2h-2zM604 150h2v2h-2zM606 150h2v2h-2zM588 152h2v2h-2zM596 152h2v2h-2zM602 152h2v2h-2zM576 162h2v2h-2zM654 176h2v2h-2zM640 182h2v2h-2zM636 186h2v2h-2zM634 200h2v2h-2zM558 202h2v2h-2zM560 204h2v2h-2zM560 206h2v2h-2zM562 206h2v2h-2zM564 208h2v2h-2zM628 208h2v2h-2zM624 212h2v2h-2zM570 214h2v2h-2zM572 214h2v2h-2zM570 216h2v2h-2zM572 216h2v2h-2zM574 216h2v2h-2zM572 218h2v2h-2zM574 218h2v2h-2zM612 218h2v2h-2zM574 220h2v2h-2zM610 220h2v2h-2zM576 222h2v2h-2zM606 222h2v2h-2zM576 224h2v2h-2zM578 224h2v2h-2zM602 224h2v2h-2zM574 226h2v2h-2zM576 226h2v2h-2zM578 226h2v2h-2zM580 226h2v2h-2zM594 226h2v2h-2zM574 228h2v2h-2zM576 228h2v2h-2zM578 228h2v2h-2zM580 228h2v2h-2zM588 228h2v2h-2zM590 228h2v2h-2zM592 228h2v2h-2zM574 230h2v2h-2zM576 230h2v2h-2zM578 230h2v2h-2zM580 230h2v2h-2zM592 230h2v2h-2zM576 232h2v2h-2zM578 232h2v2h-2zM574 234h2v2h-2zM572 240h2v2h-2zM608 240h2v2h-2zM574 242h2v2h-2zM610 242h2v2h-2zM608 244h2v2h-2zM596 248h2v2h-2z"/>
<path fill="#f3932d" d="M622 148h2v2h-2zM630 148h2v2h-2zM630 150h2v2h-2zM620 152h2v2h-2zM628 152h2v2h-2zM616 154h2v2h-2zM628 154h2v2h-2zM636 154h2v2h-2zM638 154h2v2h-2zM640 154h2v2h-2zM600 156h2v2h-2zM630 156h2v2h-2zM632 156h2v2h-2zM634 156h2v2h-2zM636 156h2v2h-2zM638 156h2v2h-2zM640 156h2v2h-2zM642 156h2v2h-2zM640 158h2v2h-2zM642 158h2v2h-2zM580 160h2v2h-2zM640 160h2v2h-2zM642 160h2v2h-2zM578 162h2v2h-2zM640 162h2v2h-2zM640 164h2v2h-2zM634 168h2v2h-2zM632 170h2v2h-2zM628 172h2v2h-2zM626 182h2v2h-2zM578 184h2v2h-2zM570 188h2v2h-2zM578 190h2v2h-2zM578 192h2v2h-2zM610 200h2v2h-2zM612 200h2v2h-2zM614 202h2v2h-2zM608 204h2v2h-2zM618 204h2v2h-2zM608 206h2v2h-2zM594 212h2v2h-2zM600 212h2v2h-2zM602 212h2v2h-2zM586 236h2v2h-2zM582 244h2v2h-2z"/>
<path fill="#f3872d" d="M624 148h2v2h-2zM628 148h2v2h-2zM622 152h2v2h-2zM626 152h2v2h-2zM622 154h2v2h-2zM624 154h2v2h-2zM626 154h2v2h-2zM582 158h2v2h-2zM630 158h2v2h-2zM630 160h2v2h-2zM632 160h2v2h-2zM634 160h2v2h-2zM632 162h2v2h-2zM634 162h2v2h-2zM636 162h2v2h-2zM632 164h2v2h-2zM634 164h2v2h-2zM632 166h2v2h-2zM578 168h2v2h-2zM628 170h2v2h-2zM578 172h2v2h-2zM626 172h2v2h-2zM578 180h2v2h-2zM578 182h2v2h-2zM610 184h2v2h-2zM612 184h2v2h-2zM564 186h2v2h-2zM568 186h2v2h-2zM570 190h2v2h-2zM610 190h2v2h-2zM612 190h2v2h-2zM608 196h2v2h-2zM608 198h2v2h-2zM564 200h2v2h-2zM624 200h2v2h-2zM608 202h2v2h-2zM622 202h2v2h-2zM580 208h2v2h-2zM582 210h2v2h-2zM592 240h2v2h-2zM594 240h2v2h-2zM594 242h2v2h-2z"/>
<path fill="#f3812d" d="M626 148h2v2h-2zM624 150h2v2h-2zM626 150h2v2h-2zM624 152h2v2h-2zM590 154h2v2h-2zM584 156h2v2h-2zM586 156h2v2h-2zM626 156h2v2h-2zM604 158h2v2h-2zM606 158h2v2h-2zM608 158h2v2h-2zM628 158h2v2h-2zM630 162h2v2h-2zM630 164h2v2h-2zM630 168h2v2h-2zM578 174h2v2h-2zM610 174h2v2h-2zM612 174h2v2h-2zM578 176h2v2h-2zM610 176h2v2h-2zM612 176h2v2h-2zM578 178h2v2h-2zM624 180h2v2h-2zM624 182h2v2h-2zM624 184h2v2h-2zM614 186h2v2h-2zM614 188h2v2h-2zM562 190h2v2h-2zM610 192h2v2h-2zM612 192h2v2h-2zM608 200h2v2h-2zM614 200h2v2h-2zM616 202h2v2h-2zM606 208h2v2h-2zM584 210h2v2h-2zM586 210h2v2h-2zM588 210h2v2h-2zM604 210h2v2h-2zM590 238h2v2h-2zM604 240h2v2h-2zM604 244h2v2h-2zM598 246h2v2h-2zM602 246h2v2h-2z"/>
<path fill="#f38d2d" d="M622 150h2v2h-2zM628 150h2v2h-2zM594 154h2v2h-2zM618 154h2v2h-2zM620 154h2v2h-2zM582 156h2v2h-2zM598 156h2v2h-2zM612 156h2v2h-2zM628 156h2v2h-2zM632 158h2v2h-2zM634 158h2v2h-2zM636 158h2v2h-2zM638 158h2v2h-2zM636 160h2v2h-2zM638 160h2v2h-2zM638 162h2v2h-2zM636 164h2v2h-2zM638 164h2v2h-2zM634 166h2v2h-2zM636 166h2v2h-2zM632 168h2v2h-2zM578 170h2v2h-2zM630 170h2v2h-2zM626 174h2v2h-2zM626 176h2v2h-2zM626 178h2v2h-2zM626 180h2v2h-2zM610 186h2v2h-2zM612 186h2v2h-2zM562 188h2v2h-2zM610 188h2v2h-2zM612 188h2v2h-2zM610 194h2v2h-2zM612 194h2v2h-2zM606 210h2v2h-2zM596 212h2v2h-2zM598 212h2v2h-2zM596 238h2v2h-2zM592 242h2v2h-2zM590 244h2v2h-2z"/>
<path fill="#f3752d" d="M592 154h2v2h-2zM616 156h2v2h-2zM618 156h2v2h-2zM620 156h2v2h-2zM622 156h2v2h-2zM586 158h2v2h-2zM626 158h2v2h-2zM584 160h2v2h-2zM604 160h2v2h-2zM610 160h2v2h-2zM628 160h2v2h-2zM604 162h2v2h-2zM578 164h2v2h-2zM606 164h2v2h-2zM608 164h2v2h-2zM578 166h2v2h-2zM608 174h2v2h-2zM614 174h2v2h-2zM624 174h2v2h-2zM608 176h2v2h-2zM614 176h2v2h-2zM624 176h2v2h-2zM614 178h2v2h-2zM610 180h2v2h-2zM612 180h2v2h-2zM614 180h2v2h-2zM610 182h2v2h-2zM614 182h2v2h-2zM622 182h2v2h-2zM616 184h2v2h-2zM564 188h2v2h-2zM568 188h2v2h-2zM614 190h2v2h-2zM562 192h2v2h-2zM614 194h2v2h-2zM614 196h2v2h-2zM570 198h2v2h-2zM624 198h2v2h-2zM568 200h2v2h-2zM580 200h2v2h-2zM618 202h2v2h-2zM604 206h2v2h-2zM582 208h2v2h-2zM604 208h2v2h-2zM598 238h2v2h-2zM582 242h2v2h-2z"/>
<path fill="#f36f2d" d="M588 156h2v2h-2zM612 158h2v2h-2zM610 162h2v2h-2zM604 164h2v2h-2zM610 164h2v2h-2zM606 166h2v2h-2zM608 166h2v2h-2zM610 170h2v2h-2zM612 170h2v2h-2zM626 170h2v2h-2zM608 172h2v2h-2zM614 172h2v2h-2zM624 172h2v2h-2zM608 178h2v2h-2zM622 180h2v2h-2zM616 182h2v2h-2zM618 182h2v2h-2zM620 182h2v2h-2zM608 184h2v2h-2zM622 184h2v2h-2zM616 186h2v2h-2zM566 188h2v2h-2zM624 188h2v2h-2zM564 190h2v2h-2zM568 190h2v2h-2zM608 190h2v2h-2zM580 192h2v2h-2zM608 192h2v2h-2zM614 192h2v2h-2zM580 194h2v2h-2zM624 194h2v2h-2zM580 196h2v2h-2zM624 196h2v2h-2zM580 198h2v2h-2zM606 202h2v2h-2zM604 204h2v2h-2zM582 206h2v2h-2zM584 208h2v2h-2zM592 210h2v2h-2zM602 210h2v2h-2zM584 238h2v2h-2zM600 238h2v2h-2zM604 242h2v2h-2zM596 244h2v2h-2zM600 246h2v2h-2z"/>
<path fill="#f3572d" d="M590 156h2v2h-2zM594 158h2v2h-2zM614 158h2v2h-2zM620 158h2v2h-2zM612 164h2v2h-2zM580 166h2v2h-2zM628 166h2v2h-2zM604 168h2v2h-2zM580 172h2v2h-2zM616 192h2v2h-2zM586 206h2v2h-2zM598 210h2v2h-2z"/>
<path fill="#ed572d" d="M592 156h2v2h-2zM600 160h2v2h-2zM612 162h2v2h-2zM580 164h2v2h-2zM582 170h2v2h-2zM606 170h2v2h-2zM618 170h2v2h-2zM624 170h2v2h-2zM580 178h2v2h-2zM622 188h2v2h-2zM606 192h2v2h-2zM606 194h2v2h-2zM606 198h2v2h-2zM586 204h2v2h-2zM602 204h2v2h-2zM602 206h2v2h-2z"/>
<path fill="#f3632d" d="M594 156h2v2h-2zM588 158h2v2h-2zM596 158h2v2h-2zM598 158h2v2h-2zM580 162h2v2h-2zM602 162h2v2h-2zM606 168h2v2h-2zM612 168h2v2h-2zM616 172h2v2h-2zM616 174h2v2h-2zM622 174h2v2h-2zM616 176h2v2h-2zM622 176h2v2h-2zM608 180h2v2h-2zM622 186h2v2h-2zM616 188h2v2h-2zM564 192h2v2h-2zM568 192h2v2h-2zM562 194h2v2h-2zM570 196h2v2h-2zM606 200h2v2h-2zM584 202h2v2h-2zM586 208h2v2h-2zM596 210h2v2h-2zM596 240h2v2h-2zM588 244h2v2h-2z"/>
<path fill="#f37b2d" d="M596 156h2v2h-2zM614 156h2v2h-2zM624 156h2v2h-2zM584 158h2v2h-2zM602 158h2v2h-2zM610 158h2v2h-2zM582 160h2v2h-2zM606 160h2v2h-2zM608 160h2v2h-2zM606 162h2v2h-2zM608 162h2v2h-2zM630 166h2v2h-2zM610 172h2v2h-2zM612 172h2v2h-2zM610 178h2v2h-2zM612 178h2v2h-2zM624 178h2v2h-2zM612 182h2v2h-2zM614 184h2v2h-2zM566 186h2v2h-2zM608 186h2v2h-2zM624 186h2v2h-2zM608 188h2v2h-2zM570 192h2v2h-2zM608 194h2v2h-2zM562 198h2v2h-2zM614 198h2v2h-2zM580 202h2v2h-2zM620 202h2v2h-2zM580 204h2v2h-2zM606 204h2v2h-2zM580 206h2v2h-2zM606 206h2v2h-2zM590 210h2v2h-2zM602 238h2v2h-2zM582 240h2v2h-2z"/>
<path fill="#ed512d" d="M590 158h2v2h-2zM592 158h2v2h-2zM616 158h2v2h-2zM618 158h2v2h-2zM588 160h2v2h-2zM594 160h2v2h-2zM596 160h2v2h-2zM598 160h2v2h-2zM600 162h2v2h-2zM582 164h2v2h-2zM584 164h2v2h-2zM600 164h2v2h-2zM582 166h2v2h-2zM584 166h2v2h-2zM600 166h2v2h-2zM584 168h2v2h-2zM602 168h2v2h-2zM616 168h2v2h-2zM620 170h2v2h-2zM606 172h2v2h-2zM606 178h2v2h-2zM582 180h2v2h-2zM606 180h2v2h-2zM582 182h2v2h-2zM606 182h2v2h-2zM580 188h2v2h-2zM618 188h2v2h-2zM620 188h2v2h-2zM618 190h2v2h-2zM622 190h2v2h-2zM582 192h2v2h-2zM622 192h2v2h-2zM616 194h2v2h-2zM606 196h2v2h-2zM584 200h2v2h-2zM586 202h2v2h-2zM588 208h2v2h-2zM584 240h2v2h-2zM586 244h2v2h-2z"/>
<path fill="#f3692d" d="M600 158h2v2h-2zM624 158h2v2h-2zM586 160h2v2h-2zM602 160h2v2h-2zM628 162h2v2h-2zM604 166h2v2h-2zM610 166h2v2h-2zM580 168h2v2h-2zM608 168h2v2h-2zM610 168h2v2h-2zM628 168h2v2h-2zM580 170h2v2h-2zM608 170h2v2h-2zM614 170h2v2h-2zM616 178h2v2h-2zM622 178h2v2h-2zM580 180h2v2h-2zM616 180h2v2h-2zM618 180h2v2h-2zM620 180h2v2h-2zM580 182h2v2h-2zM608 182h2v2h-2zM618 184h2v2h-2zM620 184h2v2h-2zM566 190h2v2h-2zM624 190h2v2h-2zM624 192h2v2h-2zM570 194h2v2h-2zM566 200h2v2h-2zM582 202h2v2h-2zM582 204h2v2h-2zM584 204h2v2h-2zM584 206h2v2h-2zM594 210h2v2h-2zM588 238h2v2h-2zM590 240h2v2h-2zM590 242h2v2h-2z"/>
<path fill="#f35d2d" d="M622 158h2v2h-2zM612 160h2v2h-2zM626 160h2v2h-2zM582 162h2v2h-2zM584 162h2v2h-2zM602 164h2v2h-2zM628 164h2v2h-2zM602 166h2v2h-2zM612 166h2v2h-2zM582 168h2v2h-2zM614 168h2v2h-2zM616 170h2v2h-2zM618 172h2v2h-2zM620 172h2v2h-2zM622 172h2v2h-2zM618 174h2v2h-2zM620 174h2v2h-2zM618 176h2v2h-2zM620 176h2v2h-2zM618 178h2v2h-2zM620 178h2v2h-2zM580 184h2v2h-2zM618 186h2v2h-2zM620 186h2v2h-2zM580 190h2v2h-2zM616 190h2v2h-2zM566 192h2v2h-2zM562 196h2v2h-2zM582 200h2v2h-2zM616 200h2v2h-2zM622 200h2v2h-2zM604 202h2v2h-2zM602 208h2v2h-2zM600 210h2v2h-2zM586 238h2v2h-2zM596 242h2v2h-2zM584 244h2v2h-2z"/>
<path fill="#ed4b2d" d="M590 160h2v2h-2zM592 160h2v2h-2zM624 160h2v2h-2zM586 162h2v2h-2zM594 162h2v2h-2zM596 162h2v2h-2zM598 162h2v2h-2zM596 164h2v2h-2zM598 164h2v2h-2zM596 166h2v2h-2zM598 166h2v2h-2zM614 166h2v2h-2zM618 168h2v2h-2zM626 168h2v2h-2zM584 170h2v2h-2zM622 170h2v2h-2zM582 172h2v2h-2zM580 174h2v2h-2zM606 174h2v2h-2zM580 176h2v2h-2zM606 176h2v2h-2zM606 184h2v2h-2zM580 186h2v2h-2zM606 190h2v2h-2zM620 190h2v2h-2zM618 192h2v2h-2zM620 192h2v2h-2zM622 194h2v2h-2zM582 198h2v2h-2zM604 200h2v2h-2zM602 202h2v2h-2zM594 208h2v2h-2zM588 240h2v2h-2zM602 240h2v2h-2zM602 244h2v2h-2z"/>
<path fill="#ed452d" d="M614 160h2v2h-2zM620 160h2v2h-2zM622 160h2v2h-2zM626 162h2v2h-2zM594 164h2v2h-2zM614 164h2v2h-2zM616 166h2v2h-2zM596 168h2v2h-2zM598 168h2v2h-2zM600 168h2v2h-2zM604 170h2v2h-2zM582 178h2v2h-2zM584 180h2v2h-2zM584 182h2v2h-2zM582 184h2v2h-2zM606 186h2v2h-2zM606 188h2v2h-2zM582 190h2v2h-2zM568 194h2v2h-2zM582 194h2v2h-2zM582 196h2v2h-2zM616 196h2v2h-2zM564 198h2v2h-2zM568 198h2v2h-2zM616 198h2v2h-2zM622 198h2v2h-2zM586 200h2v2h-2zM618 200h2v2h-2zM620 200h2v2h-2zM590 208h2v2h-2zM592 208h2v2h-2zM598 240h2v2h-2zM584 242h2v2h-2zM588 242h2v2h-2zM598 244h2v2h-2z"/>
<path fill="#ed3f2d" d="M616 160h2v2h-2zM618 160h2v2h-2zM592 162h2v2h-2zM614 162h2v2h-2zM616 164h2v2h-2zM586 166h2v2h-2zM594 166h2v2h-2zM618 166h2v2h-2zM586 168h2v2h-2zM594 168h2v2h-2zM620 168h2v2h-2zM602 170h2v2h-2zM584 172h2v2h-2zM582 174h2v2h-2zM582 176h2v2h-2zM604 180h2v2h-2zM604 182h2v2h-2zM584 190h2v2h-2zM584 192h2v2h-2zM604 192h2v2h-2zM564 194h2v2h-2zM584 194h2v2h-2zM604 194h2v2h-2zM618 194h2v2h-2zM620 194h2v2h-2zM584 196h2v2h-2zM604 196h2v2h-2zM622 196h2v2h-2zM584 198h2v2h-2zM604 198h2v2h-2zM596 208h2v2h-2zM600 208h2v2h-2zM586 240h2v2h-2zM600 240h2v2h-2zM602 242h2v2h-2zM600 244h2v2h-2z"/>
<path fill="#ed332d" d="M588 162h2v2h-2zM590 162h2v2h-2zM622 162h2v2h-2zM624 162h2v2h-2zM592 164h2v2h-2zM620 164h2v2h-2zM626 164h2v2h-2zM592 166h2v2h-2zM620 166h2v2h-2zM588 168h2v2h-2zM590 168h2v2h-2zM622 168h2v2h-2zM624 168h2v2h-2zM588 170h2v2h-2zM590 170h2v2h-2zM592 170h2v2h-2zM594 170h2v2h-2zM596 170h2v2h-2zM598 170h2v2h-2zM602 172h2v2h-2zM604 174h2v2h-2zM604 176h2v2h-2zM586 180h2v2h-2zM602 180h2v2h-2zM602 182h2v2h-2zM586 184h2v2h-2zM604 184h2v2h-2zM586 190h2v2h-2zM586 192h2v2h-2zM602 192h2v2h-2zM586 194h2v2h-2zM602 194h2v2h-2zM564 196h2v2h-2zM586 196h2v2h-2zM602 196h2v2h-2zM602 198h2v2h-2zM588 200h2v2h-2zM590 202h2v2h-2zM592 202h2v2h-2zM594 202h2v2h-2zM596 202h2v2h-2zM598 202h2v2h-2zM592 204h2v2h-2zM598 204h2v2h-2zM590 206h2v2h-2zM592 206h2v2h-2zM598 206h2v2h-2zM600 206h2v2h-2zM600 242h2v2h-2z"/>
<path fill="#ed392d" d="M616 162h2v2h-2zM618 162h2v2h-2zM620 162h2v2h-2zM586 164h2v2h-2zM618 164h2v2h-2zM626 166h2v2h-2zM592 168h2v2h-2zM586 170h2v2h-2zM600 170h2v2h-2zM604 172h2v2h-2zM584 174h2v2h-2zM584 176h2v2h-2zM584 178h2v2h-2zM604 178h2v2h-2zM586 182h2v2h-2zM584 184h2v2h-2zM582 186h2v2h-2zM584 186h2v2h-2zM582 188h2v2h-2zM584 188h2v2h-2zM604 190h2v2h-2zM566 194h2v2h-2zM568 196h2v2h-2zM566 198h2v2h-2zM586 198h2v2h-2zM602 200h2v2h-2zM588 202h2v2h-2zM600 202h2v2h-2zM588 204h2v2h-2zM594 204h2v2h-2zM596 204h2v2h-2zM600 204h2v2h-2zM588 206h2v2h-2zM594 206h2v2h-2zM596 206h2v2h-2zM598 208h2v2h-2zM586 242h2v2h-2zM598 242h2v2h-2z"/>
<path fill="#e72d27" d="M588 164h2v2h-2zM590 164h2v2h-2zM622 164h2v2h-2zM624 164h2v2h-2zM590 166h2v2h-2zM622 166h2v2h-2zM624 166h2v2h-2zM586 172h2v2h-2zM590 172h2v2h-2zM592 172h2v2h-2zM594 172h2v2h-2zM596 172h2v2h-2zM598 172h2v2h-2zM600 172h2v2h-2zM592 174h2v2h-2zM594 174h2v2h-2zM600 174h2v2h-2zM602 174h2v2h-2zM594 176h2v2h-2zM600 176h2v2h-2zM602 176h2v2h-2zM586 178h2v2h-2zM592 178h2v2h-2zM594 178h2v2h-2zM596 178h2v2h-2zM598 178h2v2h-2zM600 178h2v2h-2zM588 180h2v2h-2zM590 180h2v2h-2zM592 180h2v2h-2zM594 180h2v2h-2zM596 180h2v2h-2zM598 180h2v2h-2zM600 180h2v2h-2zM588 182h2v2h-2zM590 182h2v2h-2zM592 182h2v2h-2zM594 182h2v2h-2zM596 182h2v2h-2zM598 182h2v2h-2zM600 182h2v2h-2zM588 184h2v2h-2zM602 184h2v2h-2zM602 186h2v2h-2zM602 188h2v2h-2zM588 190h2v2h-2zM602 190h2v2h-2zM588 192h2v2h-2zM594 192h2v2h-2zM596 192h2v2h-2zM598 192h2v2h-2zM600 192h2v2h-2zM596 194h2v2h-2zM600 194h2v2h-2zM566 196h2v2h-2zM588 198h2v2h-2zM594 198h2v2h-2zM590 200h2v2h-2zM592 200h2v2h-2zM594 200h2v2h-2zM596 200h2v2h-2zM598 200h2v2h-2zM600 200h2v2h-2z"/>
<path fill="#e72d2d" d="M588 166h2v2h-2zM602 178h2v2h-2zM586 186h2v2h-2zM604 186h2v2h-2zM586 188h2v2h-2zM604 188h2v2h-2zM618 196h2v2h-2zM620 196h2v2h-2zM618 198h2v2h-2zM620 198h2v2h-2zM590 204h2v2h-2z"/>
<path fill="#e12d27" d="M588 172h2v2h-2zM592 176h2v2h-2zM594 184h2v2h-2zM600 190h2v2h-2zM588 194h2v2h-2zM594 194h2v2h-2z"/>
<path fill="#e12727" d="M586 174h2v2h-2zM588 174h2v2h-2zM590 174h2v2h-2zM596 174h2v2h-2zM598 174h2v2h-2zM586 176h2v2h-2zM588 176h2v2h-2zM590 176h2v2h-2zM596 176h2v2h-2zM598 176h2v2h-2zM588 178h2v2h-2zM590 178h2v2h-2zM590 184h2v2h-2zM592 184h2v2h-2zM596 184h2v2h-2zM598 184h2v2h-2zM600 184h2v2h-2zM588 186h2v2h-2zM590 186h2v2h-2zM592 186h2v2h-2zM594 186h2v2h-2zM596 186h2v2h-2zM598 186h2v2h-2zM600 186h2v2h-2zM588 188h2v2h-2zM590 188h2v2h-2zM592 188h2v2h-2zM594 188h2v2h-2zM596 188h2v2h-2zM598 188h2v2h-2zM600 188h2v2h-2zM590 190h2v2h-2zM592 190h2v2h-2zM594 190h2v2h-2zM596 190h2v2h-2zM598 190h2v2h-2zM590 192h2v2h-2zM592 192h2v2h-2zM590 194h2v2h-2zM592 194h2v2h-2zM598 194h2v2h-2zM588 196h2v2h-2zM590 196h2v2h-2zM592 196h2v2h-2zM594 196h2v2h-2zM596 196h2v2h-2zM598 196h2v2h-2zM600 196h2v2h-2zM590 198h2v2h-2zM592 198h2v2h-2zM596 198h2v2h-2zM598 198h2v2h-2zM600 198h2v2h-2z"/>
<path fill="#abcf33" d="M646 192h2v2h-2z"/>
<path fill="#4bb757" d="M534 212h2v2h-2zM650 214h2v2h-2zM652 216h2v2h-2zM654 218h2v2h-2zM654 220h2v2h-2zM546 224h2v2h-2zM548 224h2v2h-2zM642 224h2v2h-2zM548 226h2v2h-2zM550 226h2v2h-2zM640 226h2v2h-2zM548 228h2v2h-2zM550 228h2v2h-2zM638 228h2v2h-2zM548 230h2v2h-2zM550 230h2v2h-2zM552 230h2v2h-2zM630 230h2v2h-2zM632 230h2v2h-2zM634 230h2v2h-2zM554 232h2v2h-2zM630 232h2v2h-2zM632 232h2v2h-2zM634 232h2v2h-2zM636 232h2v2h-2zM632 234h2v2h-2zM634 234h2v2h-2zM636 234h2v2h-2zM556 236h2v2h-2zM634 236h2v2h-2zM632 238h2v2h-2zM634 238h2v2h-2zM630 240h2v2h-2zM632 240h2v2h-2zM634 240h2v2h-2zM630 242h2v2h-2zM632 242h2v2h-2zM634 242h2v2h-2zM630 244h2v2h-2zM632 244h2v2h-2zM560 246h2v2h-2zM626 250h2v2h-2zM622 252h2v2h-2zM624 252h2v2h-2zM564 254h2v2h-2zM620 254h2v2h-2zM622 254h2v2h-2zM624 254h2v2h-2zM570 256h2v2h-2zM620 256h2v2h-2zM622 256h2v2h-2zM614 260h2v2h-2zM610 262h2v2h-2zM612 262h2v2h-2zM606 264h2v2h-2zM608 264h2v2h-2zM610 264h2v2h-2zM580 266h2v2h-2zM604 266h2v2h-2zM608 266h2v2h-2zM584 268h2v2h-2zM586 270h2v2h-2zM592 270h2v2h-2zM588 272h2v2h-2zM590 272h2v2h-2z"/>
<path fill="#4bb75d" d="M536 212h2v2h-2zM540 212h2v2h-2zM534 214h2v2h-2zM542 214h2v2h-2zM646 214h2v2h-2zM648 214h2v2h-2zM542 216h2v2h-2zM644 216h2v2h-2zM542 218h2v2h-2zM652 218h2v2h-2zM542 220h2v2h-2zM644 220h2v2h-2zM652 220h2v2h-2zM544 222h2v2h-2zM644 222h2v2h-2zM654 222h2v2h-2zM546 226h2v2h-2zM546 228h2v2h-2zM546 230h2v2h-2zM638 230h2v2h-2zM552 232h2v2h-2zM636 236h2v2h-2zM556 238h2v2h-2zM558 244h2v2h-2zM634 244h2v2h-2zM630 246h2v2h-2zM560 248h2v2h-2zM628 248h2v2h-2zM626 252h2v2h-2zM626 254h2v2h-2zM568 256h2v2h-2zM624 256h2v2h-2zM572 258h2v2h-2zM574 260h2v2h-2zM612 264h2v2h-2zM606 266h2v2h-2zM610 266h2v2h-2zM602 268h2v2h-2zM594 270h2v2h-2zM592 272h2v2h-2z"/>
<path fill="#4bb763" d="M538 212h2v2h-2zM534 216h2v2h-2zM650 216h2v2h-2zM534 218h2v2h-2zM644 218h2v2h-2zM650 220h2v2h-2zM646 222h2v2h-2zM652 222h2v2h-2zM548 232h2v2h-2zM550 232h2v2h-2zM638 232h2v2h-2zM554 234h2v2h-2zM636 238h2v2h-2zM556 240h2v2h-2zM632 246h2v2h-2zM560 250h2v2h-2zM566 256h2v2h-2zM576 264h2v2h-2zM596 270h2v2h-2zM586 272h2v2h-2z"/>
<path fill="#4bb751" d="M542 212h2v2h-2zM546 222h2v2h-2zM636 230h2v2h-2zM624 250h2v2h-2zM586 268h2v2h-2z"/>
<path fill="#c9d533" d="M562 212h2v2h-2zM610 226h2v2h-2zM594 250h2v2h-2z"/>
<path fill="#45b763" d="M536 214h2v2h-2zM540 218h2v2h-2zM650 218h2v2h-2zM646 220h2v2h-2zM650 222h2v2h-2zM636 240h2v2h-2zM562 254h2v2h-2zM618 258h2v2h-2zM574 262h2v2h-2zM612 266h2v2h-2zM582 268h2v2h-2zM598 270h2v2h-2zM590 274h2v2h-2z"/>
<path fill="#45b769" d="M538 214h2v2h-2zM540 214h2v2h-2zM536 216h2v2h-2zM538 216h2v2h-2zM540 216h2v2h-2zM646 216h2v2h-2zM648 216h2v2h-2zM536 218h2v2h-2zM538 218h2v2h-2zM646 218h2v2h-2zM648 218h2v2h-2zM534 220h2v2h-2zM536 220h2v2h-2zM538 220h2v2h-2zM540 220h2v2h-2zM648 220h2v2h-2zM648 222h2v2h-2zM544 224h2v2h-2zM644 224h2v2h-2zM654 224h2v2h-2zM640 228h2v2h-2zM546 232h2v2h-2zM638 234h2v2h-2zM556 242h2v2h-2zM636 242h2v2h-2zM626 256h2v2h-2zM568 258h2v2h-2zM570 258h2v2h-2zM570 260h2v2h-2zM572 260h2v2h-2zM578 266h2v2h-2zM604 268h2v2h-2zM606 268h2v2h-2zM608 268h2v2h-2zM610 268h2v2h-2zM584 270h2v2h-2zM588 274h2v2h-2z"/>
<path fill="#45b77b" d="M534 222h2v2h-2zM540 222h2v2h-2zM654 226h2v2h-2zM640 232h2v2h-2zM548 234h2v2h-2zM550 234h2v2h-2zM638 238h2v2h-2zM556 244h2v2h-2zM566 262h2v2h-2zM568 264h2v2h-2zM614 264h2v2h-2zM578 268h2v2h-2zM612 268h2v2h-2zM582 270h2v2h-2zM602 270h2v2h-2zM584 272h2v2h-2zM596 272h2v2h-2z"/>
<path fill="#3fb781" d="M536 222h2v2h-2zM538 222h2v2h-2zM544 232h2v2h-2zM546 234h2v2h-2zM640 234h2v2h-2zM554 238h2v2h-2zM554 240h2v2h-2zM638 240h2v2h-2zM632 248h2v2h-2zM628 254h2v2h-2zM574 266h2v2h-2zM576 268h2v2h-2zM576 270h2v2h-2zM578 270h2v2h-2zM580 270h2v2h-2zM598 272h2v2h-2zM586 274h2v2h-2zM594 274h2v2h-2z"/>
<path fill="#45b76f" d="M542 222h2v2h-2zM652 224h2v2h-2zM544 226h2v2h-2zM642 226h2v2h-2zM638 236h2v2h-2zM634 246h2v2h-2zM630 248h2v2h-2zM628 250h2v2h-2zM560 252h2v2h-2zM564 256h2v2h-2zM566 258h2v2h-2zM620 258h2v2h-2zM622 258h2v2h-2zM568 260h2v2h-2zM616 260h2v2h-2zM568 262h2v2h-2zM570 262h2v2h-2zM572 262h2v2h-2zM614 262h2v2h-2zM574 264h2v2h-2zM600 270h2v2h-2zM594 272h2v2h-2z"/>
<path fill="#3fb78d" d="M534 224h2v2h-2zM650 226h2v2h-2zM654 228h2v2h-2zM548 236h2v2h-2zM550 236h2v2h-2zM640 236h2v2h-2zM638 242h2v2h-2zM558 250h2v2h-2zM630 250h2v2h-2zM560 254h2v2h-2zM562 256h2v2h-2zM626 258h2v2h-2zM616 262h2v2h-2zM606 270h2v2h-2zM574 272h2v2h-2zM580 272h2v2h-2zM582 272h2v2h-2zM600 274h2v2h-2zM596 276h2v2h-2z"/>
<path fill="#3fb793" d="M536 224h2v2h-2zM540 224h2v2h-2zM542 226h2v2h-2zM646 226h2v2h-2zM648 226h2v2h-2zM642 230h2v2h-2zM654 230h2v2h-2zM544 234h2v2h-2zM546 236h2v2h-2zM548 238h2v2h-2zM550 238h2v2h-2zM552 238h2v2h-2zM550 240h2v2h-2zM552 240h2v2h-2zM552 242h2v2h-2zM554 244h2v2h-2zM638 244h2v2h-2zM634 248h2v2h-2zM628 256h2v2h-2zM564 260h2v2h-2zM620 260h2v2h-2zM622 260h2v2h-2zM570 266h2v2h-2zM608 270h2v2h-2zM602 272h2v2h-2zM590 276h2v2h-2zM592 276h2v2h-2zM594 276h2v2h-2zM600 276h2v2h-2zM598 278h2v2h-2z"/>
<path fill="#39b799" d="M538 224h2v2h-2zM534 226h2v2h-2zM542 228h2v2h-2zM644 228h2v2h-2zM652 228h2v2h-2zM542 230h2v2h-2zM542 232h2v2h-2zM654 232h2v2h-2zM642 234h2v2h-2zM546 238h2v2h-2zM640 238h2v2h-2zM550 242h2v2h-2zM558 252h2v2h-2zM572 270h2v2h-2zM576 274h2v2h-2zM584 274h2v2h-2zM588 276h2v2h-2zM596 278h2v2h-2z"/>
<path fill="#3fb787" d="M542 224h2v2h-2zM644 226h2v2h-2zM652 226h2v2h-2zM642 228h2v2h-2zM552 236h2v2h-2zM554 242h2v2h-2zM636 246h2v2h-2zM558 248h2v2h-2zM564 258h2v2h-2zM618 260h2v2h-2zM572 266h2v2h-2zM614 266h2v2h-2zM574 268h2v2h-2zM574 270h2v2h-2zM604 270h2v2h-2zM576 272h2v2h-2zM578 272h2v2h-2zM600 272h2v2h-2zM596 274h2v2h-2zM598 274h2v2h-2zM598 276h2v2h-2z"/>
<path fill="#45b775" d="M646 224h2v2h-2zM648 224h2v2h-2zM650 224h2v2h-2zM544 228h2v2h-2zM544 230h2v2h-2zM640 230h2v2h-2zM552 234h2v2h-2zM554 236h2v2h-2zM636 244h2v2h-2zM558 246h2v2h-2zM628 252h2v2h-2zM624 258h2v2h-2zM566 260h2v2h-2zM570 264h2v2h-2zM572 264h2v2h-2zM576 266h2v2h-2zM580 268h2v2h-2zM592 274h2v2h-2z"/>
<path fill="#39b7a5" d="M536 226h2v2h-2zM538 226h2v2h-2zM540 226h2v2h-2zM536 228h2v2h-2zM540 228h2v2h-2zM646 228h2v2h-2zM648 228h2v2h-2zM534 230h2v2h-2zM536 230h2v2h-2zM538 230h2v2h-2zM540 230h2v2h-2zM644 230h2v2h-2zM650 230h2v2h-2zM540 232h2v2h-2zM644 232h2v2h-2zM650 232h2v2h-2zM652 232h2v2h-2zM644 234h2v2h-2zM646 234h2v2h-2zM650 234h2v2h-2zM652 234h2v2h-2zM652 236h2v2h-2zM654 238h2v2h-2zM640 240h2v2h-2zM550 244h2v2h-2zM638 246h2v2h-2zM632 250h2v2h-2zM620 262h2v2h-2zM616 266h2v2h-2zM572 272h2v2h-2zM604 272h2v2h-2zM574 274h2v2h-2zM580 274h2v2h-2zM582 274h2v2h-2zM586 276h2v2h-2zM602 276h2v2h-2zM600 278h2v2h-2z"/>
<path fill="#39b79f" d="M534 228h2v2h-2zM650 228h2v2h-2zM652 230h2v2h-2zM654 234h2v2h-2zM642 236h2v2h-2zM654 236h2v2h-2zM546 240h2v2h-2zM548 242h2v2h-2zM552 244h2v2h-2zM630 252h2v2h-2zM624 260h2v2h-2zM564 262h2v2h-2zM618 262h2v2h-2zM616 264h2v2h-2zM614 268h2v2h-2zM578 274h2v2h-2zM602 274h2v2h-2z"/>
<path fill="#39b7ab" d="M538 228h2v2h-2zM646 230h2v2h-2zM648 230h2v2h-2zM534 232h2v2h-2zM536 232h2v2h-2zM538 232h2v2h-2zM646 232h2v2h-2zM648 232h2v2h-2zM542 234h2v2h-2zM648 234h2v2h-2zM544 236h2v2h-2zM644 236h2v2h-2zM646 236h2v2h-2zM648 236h2v2h-2zM650 236h2v2h-2zM652 238h2v2h-2zM546 242h2v2h-2zM554 246h2v2h-2zM556 248h2v2h-2zM636 248h2v2h-2zM630 254h2v2h-2zM622 262h2v2h-2zM618 264h2v2h-2zM620 264h2v2h-2zM568 266h2v2h-2zM612 270h2v2h-2zM594 278h2v2h-2z"/>
<path fill="#3fb799" d="M642 232h2v2h-2zM548 240h2v2h-2zM556 246h2v2h-2zM566 264h2v2h-2zM572 268h2v2h-2zM610 270h2v2h-2z"/>
<path fill="#39b1b1" d="M534 234h2v2h-2zM536 234h2v2h-2zM538 234h2v2h-2zM540 234h2v2h-2zM544 238h2v2h-2zM644 238h2v2h-2zM646 238h2v2h-2zM648 238h2v2h-2zM544 240h2v2h-2zM642 240h2v2h-2zM644 240h2v2h-2zM646 240h2v2h-2zM648 240h2v2h-2zM650 240h2v2h-2zM642 242h2v2h-2zM650 242h2v2h-2zM652 242h2v2h-2zM654 242h2v2h-2zM642 244h2v2h-2zM550 246h2v2h-2zM552 246h2v2h-2zM640 246h2v2h-2zM554 248h2v2h-2zM638 248h2v2h-2zM554 250h2v2h-2zM634 250h2v2h-2zM636 250h2v2h-2zM556 252h2v2h-2zM632 252h2v2h-2zM560 256h2v2h-2zM630 256h2v2h-2zM628 258h2v2h-2zM624 262h2v2h-2zM622 266h2v2h-2zM570 268h2v2h-2zM616 268h2v2h-2zM618 268h2v2h-2zM606 272h2v2h-2zM604 274h2v2h-2zM582 276h2v2h-2zM604 276h2v2h-2zM582 278h2v2h-2zM586 278h2v2h-2zM588 278h2v2h-2zM590 278h2v2h-2zM592 278h2v2h-2zM604 278h2v2h-2zM582 280h2v2h-2zM584 280h2v2h-2zM602 280h2v2h-2zM604 280h2v2h-2z"/>
<path fill="#39abb1" d="M534 236h2v2h-2zM542 236h2v2h-2zM644 242h2v2h-2zM646 242h2v2h-2zM648 242h2v2h-2zM644 244h2v2h-2zM646 244h2v2h-2zM648 244h2v2h-2zM650 244h2v2h-2zM654 244h2v2h-2zM550 248h2v2h-2zM552 248h2v2h-2zM550 250h2v2h-2zM552 250h2v2h-2zM552 252h2v2h-2zM554 252h2v2h-2zM634 252h2v2h-2zM636 252h2v2h-2zM632 254h2v2h-2zM634 254h2v2h-2zM636 254h2v2h-2zM562 260h2v2h-2zM626 260h2v2h-2zM620 268h2v2h-2zM608 272h2v2h-2zM580 276h2v2h-2zM586 280h2v2h-2zM600 280h2v2h-2z"/>
<path fill="#39abb7" d="M536 236h2v2h-2zM538 236h2v2h-2zM540 236h2v2h-2zM534 238h2v2h-2zM542 238h2v2h-2zM534 240h2v2h-2zM542 240h2v2h-2zM544 242h2v2h-2zM546 244h2v2h-2zM652 244h2v2h-2zM548 246h2v2h-2zM642 246h2v2h-2zM644 246h2v2h-2zM646 246h2v2h-2zM648 246h2v2h-2zM548 248h2v2h-2zM638 250h2v2h-2zM550 252h2v2h-2zM638 252h2v2h-2zM552 254h2v2h-2zM554 254h2v2h-2zM556 254h2v2h-2zM632 256h2v2h-2zM634 256h2v2h-2zM636 256h2v2h-2zM564 264h2v2h-2zM624 264h2v2h-2zM622 268h2v2h-2zM570 270h2v2h-2zM614 270h2v2h-2zM610 272h2v2h-2zM572 274h2v2h-2zM606 274h2v2h-2zM578 276h2v2h-2zM606 276h2v2h-2zM580 278h2v2h-2zM606 278h2v2h-2zM588 280h2v2h-2zM590 280h2v2h-2zM596 280h2v2h-2zM598 280h2v2h-2zM586 282h2v2h-2zM588 282h2v2h-2z"/>
<path fill="#39a5b7" d="M536 238h2v2h-2zM538 238h2v2h-2zM540 238h2v2h-2zM536 240h2v2h-2zM650 246h2v2h-2zM652 246h2v2h-2zM654 246h2v2h-2zM638 254h2v2h-2zM624 266h2v2h-2zM612 272h2v2h-2zM608 274h2v2h-2zM592 280h2v2h-2zM594 280h2v2h-2z"/>
<path fill="#39b1ab" d="M642 238h2v2h-2zM650 238h2v2h-2zM652 240h2v2h-2zM654 240h2v2h-2zM640 242h2v2h-2zM548 244h2v2h-2zM640 244h2v2h-2zM556 250h2v2h-2zM558 254h2v2h-2zM562 258h2v2h-2zM622 264h2v2h-2zM618 266h2v2h-2zM620 266h2v2h-2zM584 276h2v2h-2zM584 278h2v2h-2zM602 278h2v2h-2z"/>
<path fill="#39a5bd" d="M538 240h2v2h-2zM540 240h2v2h-2zM534 242h2v2h-2zM536 242h2v2h-2zM538 242h2v2h-2zM540 242h2v2h-2zM542 242h2v2h-2zM544 244h2v2h-2zM640 248h2v2h-2zM548 250h2v2h-2zM548 252h2v2h-2zM550 254h2v2h-2zM558 256h2v2h-2zM560 258h2v2h-2zM630 258h2v2h-2zM562 262h2v2h-2zM566 266h2v2h-2zM570 272h2v2h-2zM610 274h2v2h-2zM612 274h2v2h-2zM576 276h2v2h-2zM608 276h2v2h-2zM610 276h2v2h-2zM608 278h2v2h-2zM606 280h2v2h-2zM584 282h2v2h-2zM590 282h2v2h-2z"/>
<path fill="#399fc3" d="M534 244h2v2h-2zM536 244h2v2h-2zM538 244h2v2h-2zM540 244h2v2h-2zM542 244h2v2h-2zM546 246h2v2h-2zM642 248h2v2h-2zM644 248h2v2h-2zM650 248h2v2h-2zM652 248h2v2h-2zM654 248h2v2h-2zM640 250h2v2h-2zM552 256h2v2h-2zM554 256h2v2h-2zM556 256h2v2h-2zM638 256h2v2h-2zM558 258h2v2h-2zM632 258h2v2h-2zM634 258h2v2h-2zM636 258h2v2h-2zM560 260h2v2h-2zM626 262h2v2h-2zM562 264h2v2h-2zM568 268h2v2h-2zM624 268h2v2h-2zM616 270h2v2h-2zM614 272h2v2h-2zM574 276h2v2h-2zM612 276h2v2h-2zM580 280h2v2h-2zM582 282h2v2h-2zM592 282h2v2h-2zM602 282h2v2h-2zM604 282h2v2h-2zM586 284h2v2h-2zM588 284h2v2h-2z"/>
<path fill="#3999c9" d="M534 246h2v2h-2zM546 248h2v2h-2zM646 248h2v2h-2zM654 250h2v2h-2zM640 252h2v2h-2zM548 254h2v2h-2zM554 258h2v2h-2zM556 258h2v2h-2zM554 260h2v2h-2zM556 260h2v2h-2zM558 260h2v2h-2zM628 260h2v2h-2zM556 262h2v2h-2zM558 262h2v2h-2zM560 262h2v2h-2zM618 270h2v2h-2zM620 270h2v2h-2zM570 274h2v2h-2zM578 278h2v2h-2zM612 278h2v2h-2zM608 280h2v2h-2zM594 282h2v2h-2zM596 282h2v2h-2zM600 282h2v2h-2zM590 284h2v2h-2z"/>
<path fill="#3993cf" d="M536 246h2v2h-2zM544 246h2v2h-2zM652 250h2v2h-2zM558 264h2v2h-2zM584 284h2v2h-2zM592 284h2v2h-2z"/>
<path fill="#3f93d5" d="M538 246h2v2h-2zM650 250h2v2h-2zM552 260h2v2h-2zM626 266h2v2h-2zM610 280h2v2h-2zM606 282h2v2h-2zM594 284h2v2h-2zM654 294h2v2h-2z"/>
<path fill="#3f8dd5" d="M540 246h2v2h-2zM542 246h2v2h-2zM534 250h2v2h-2zM652 252h2v2h-2zM654 254h2v2h-2zM640 256h2v2h-2zM638 258h2v2h-2zM554 264h2v2h-2zM614 276h2v2h-2zM596 284h2v2h-2zM602 284h2v2h-2zM654 290h2v2h-2zM654 292h2v2h-2zM534 294h2v2h-2zM652 294h2v2h-2z"/>
<path fill="#3f93cf" d="M534 248h2v2h-2zM642 250h2v2h-2zM546 252h2v2h-2zM654 252h2v2h-2zM550 256h2v2h-2zM552 258h2v2h-2zM556 264h2v2h-2zM564 266h2v2h-2zM568 270h2v2h-2zM622 270h2v2h-2zM614 274h2v2h-2z"/>
<path fill="#3f8dcf" d="M536 248h2v2h-2zM644 250h2v2h-2zM648 250h2v2h-2zM534 252h2v2h-2zM546 254h2v2h-2zM630 260h2v2h-2zM552 262h2v2h-2zM562 266h2v2h-2zM566 268h2v2h-2zM568 272h2v2h-2zM570 276h2v2h-2zM580 282h2v2h-2zM598 284h2v2h-2zM600 284h2v2h-2zM588 286h2v2h-2zM590 286h2v2h-2zM592 286h2v2h-2zM594 286h2v2h-2zM654 288h2v2h-2zM534 292h2v2h-2z"/>
<path fill="#3f87cf" d="M538 248h2v2h-2zM544 248h2v2h-2zM536 250h2v2h-2zM544 250h2v2h-2zM646 250h2v2h-2zM536 252h2v2h-2zM544 252h2v2h-2zM642 252h2v2h-2zM650 252h2v2h-2zM534 254h2v2h-2zM652 254h2v2h-2zM534 256h2v2h-2zM654 256h2v2h-2zM654 258h2v2h-2zM634 260h2v2h-2zM558 266h2v2h-2zM560 266h2v2h-2zM626 268h2v2h-2zM624 270h2v2h-2zM616 272h2v2h-2zM568 274h2v2h-2zM576 278h2v2h-2zM614 278h2v2h-2zM654 282h2v2h-2zM604 284h2v2h-2zM654 284h2v2h-2zM586 286h2v2h-2zM596 286h2v2h-2zM598 286h2v2h-2zM600 286h2v2h-2zM602 286h2v2h-2zM654 286h2v2h-2zM534 288h2v2h-2zM590 288h2v2h-2zM592 288h2v2h-2zM594 288h2v2h-2zM596 288h2v2h-2zM598 288h2v2h-2zM600 288h2v2h-2zM652 288h2v2h-2zM534 290h2v2h-2zM592 290h2v2h-2zM594 290h2v2h-2zM596 290h2v2h-2zM598 290h2v2h-2zM600 290h2v2h-2zM652 290h2v2h-2zM536 292h2v2h-2zM592 292h2v2h-2zM594 292h2v2h-2zM596 292h2v2h-2zM598 292h2v2h-2zM600 292h2v2h-2zM650 292h2v2h-2zM652 292h2v2h-2zM536 294h2v2h-2zM538 294h2v2h-2zM592 294h2v2h-2zM594 294h2v2h-2zM596 294h2v2h-2zM598 294h2v2h-2zM650 294h2v2h-2z"/>
<path fill="#3f81cf" d="M540 248h2v2h-2zM542 248h2v2h-2zM538 250h2v2h-2zM540 250h2v2h-2zM542 250h2v2h-2zM538 252h2v2h-2zM540 252h2v2h-2zM542 252h2v2h-2zM644 252h2v2h-2zM646 252h2v2h-2zM648 252h2v2h-2zM536 254h2v2h-2zM538 254h2v2h-2zM540 254h2v2h-2zM542 254h2v2h-2zM544 254h2v2h-2zM642 254h2v2h-2zM644 254h2v2h-2zM646 254h2v2h-2zM648 254h2v2h-2zM650 254h2v2h-2zM536 256h2v2h-2zM548 256h2v2h-2zM642 256h2v2h-2zM650 256h2v2h-2zM652 256h2v2h-2zM534 258h2v2h-2zM550 258h2v2h-2zM652 258h2v2h-2zM534 260h2v2h-2zM632 260h2v2h-2zM636 260h2v2h-2zM654 260h2v2h-2zM628 262h2v2h-2zM556 266h2v2h-2zM574 278h2v2h-2zM654 278h2v2h-2zM578 280h2v2h-2zM612 280h2v2h-2zM654 280h2v2h-2zM534 282h2v2h-2zM534 284h2v2h-2zM582 284h2v2h-2zM652 284h2v2h-2zM534 286h2v2h-2zM584 286h2v2h-2zM652 286h2v2h-2zM536 288h2v2h-2zM588 288h2v2h-2zM602 288h2v2h-2zM650 288h2v2h-2zM536 290h2v2h-2zM538 290h2v2h-2zM590 290h2v2h-2zM650 290h2v2h-2zM538 292h2v2h-2zM590 292h2v2h-2zM648 292h2v2h-2zM540 294h2v2h-2zM590 294h2v2h-2zM600 294h2v2h-2zM646 294h2v2h-2zM648 294h2v2h-2z"/>
<path fill="#399fc9" d="M648 248h2v2h-2z"/>
<path fill="#3999cf" d="M546 250h2v2h-2zM640 254h2v2h-2zM554 262h2v2h-2zM560 264h2v2h-2zM626 264h2v2h-2zM572 276h2v2h-2zM598 282h2v2h-2z"/>
<path fill="#3f7bcf" d="M538 256h2v2h-2zM540 256h2v2h-2zM644 256h2v2h-2zM646 256h2v2h-2zM648 256h2v2h-2zM536 258h2v2h-2zM650 258h2v2h-2zM652 260h2v2h-2zM534 262h2v2h-2zM654 262h2v2h-2zM534 264h2v2h-2zM552 264h2v2h-2zM560 268h2v2h-2zM562 268h2v2h-2zM564 268h2v2h-2zM566 270h2v2h-2zM566 272h2v2h-2zM654 272h2v2h-2zM654 274h2v2h-2zM534 276h2v2h-2zM654 276h2v2h-2zM534 278h2v2h-2zM572 278h2v2h-2zM652 278h2v2h-2zM534 280h2v2h-2zM652 280h2v2h-2zM652 282h2v2h-2zM536 284h2v2h-2zM650 284h2v2h-2zM536 286h2v2h-2zM650 286h2v2h-2zM538 288h2v2h-2zM586 288h2v2h-2zM648 288h2v2h-2zM540 290h2v2h-2zM588 290h2v2h-2zM602 290h2v2h-2zM648 290h2v2h-2zM540 292h2v2h-2zM588 292h2v2h-2zM602 292h2v2h-2zM646 292h2v2h-2zM542 294h2v2h-2zM586 294h2v2h-2zM588 294h2v2h-2zM602 294h2v2h-2zM644 294h2v2h-2z"/>
<path fill="#4575cf" d="M542 256h2v2h-2zM546 256h2v2h-2zM538 258h2v2h-2zM646 258h2v2h-2zM536 260h2v2h-2zM652 262h2v2h-2zM628 264h2v2h-2zM654 266h2v2h-2zM558 268h2v2h-2zM654 268h2v2h-2zM560 270h2v2h-2zM562 270h2v2h-2zM564 270h2v2h-2zM626 270h2v2h-2zM562 272h2v2h-2zM564 272h2v2h-2zM616 274h2v2h-2zM652 274h2v2h-2zM570 278h2v2h-2zM650 278h2v2h-2zM536 280h2v2h-2zM614 280h2v2h-2zM650 280h2v2h-2zM538 284h2v2h-2zM648 284h2v2h-2zM540 288h2v2h-2zM584 288h2v2h-2zM646 288h2v2h-2zM542 290h2v2h-2zM584 290h2v2h-2zM544 292h2v2h-2zM584 292h2v2h-2zM644 292h2v2h-2zM584 294h2v2h-2zM642 294h2v2h-2z"/>
<path fill="#456fcf" d="M544 256h2v2h-2zM642 258h2v2h-2zM644 258h2v2h-2zM638 260h2v2h-2zM650 260h2v2h-2zM536 262h2v2h-2zM550 262h2v2h-2zM630 262h2v2h-2zM536 264h2v2h-2zM652 264h2v2h-2zM536 266h2v2h-2zM554 266h2v2h-2zM628 266h2v2h-2zM536 268h2v2h-2zM628 268h2v2h-2zM652 268h2v2h-2zM536 270h2v2h-2zM652 270h2v2h-2zM536 272h2v2h-2zM560 272h2v2h-2zM620 272h2v2h-2zM622 272h2v2h-2zM652 272h2v2h-2zM536 274h2v2h-2zM562 274h2v2h-2zM564 274h2v2h-2zM650 274h2v2h-2zM536 276h2v2h-2zM650 276h2v2h-2zM536 278h2v2h-2zM648 278h2v2h-2zM538 280h2v2h-2zM572 280h2v2h-2zM574 280h2v2h-2zM576 280h2v2h-2zM648 280h2v2h-2zM538 282h2v2h-2zM578 282h2v2h-2zM648 282h2v2h-2zM540 284h2v2h-2zM646 284h2v2h-2zM540 286h2v2h-2zM604 286h2v2h-2zM646 286h2v2h-2zM542 288h2v2h-2zM644 288h2v2h-2zM544 290h2v2h-2zM644 290h2v2h-2zM546 292h2v2h-2zM604 292h2v2h-2zM642 292h2v2h-2zM546 294h2v2h-2zM604 294h2v2h-2zM640 294h2v2h-2z"/>
<path fill="#4569cf" d="M540 258h2v2h-2zM548 258h2v2h-2zM538 260h2v2h-2zM648 260h2v2h-2zM538 262h2v2h-2zM632 262h2v2h-2zM634 262h2v2h-2zM636 262h2v2h-2zM650 262h2v2h-2zM538 264h2v2h-2zM550 264h2v2h-2zM538 266h2v2h-2zM652 266h2v2h-2zM538 268h2v2h-2zM558 270h2v2h-2zM650 270h2v2h-2zM624 272h2v2h-2zM650 272h2v2h-2zM560 274h2v2h-2zM648 274h2v2h-2zM538 276h2v2h-2zM566 276h2v2h-2zM616 276h2v2h-2zM648 276h2v2h-2zM538 278h2v2h-2zM616 278h2v2h-2zM570 280h2v2h-2zM646 280h2v2h-2zM540 282h2v2h-2zM572 282h2v2h-2zM574 282h2v2h-2zM576 282h2v2h-2zM610 282h2v2h-2zM646 282h2v2h-2zM542 284h2v2h-2zM580 284h2v2h-2zM606 284h2v2h-2zM542 286h2v2h-2zM582 286h2v2h-2zM644 286h2v2h-2zM544 288h2v2h-2zM604 288h2v2h-2zM642 288h2v2h-2zM546 290h2v2h-2zM604 290h2v2h-2zM642 290h2v2h-2zM548 292h2v2h-2zM582 292h2v2h-2zM640 292h2v2h-2zM548 294h2v2h-2zM550 294h2v2h-2zM582 294h2v2h-2zM606 294h2v2h-2zM638 294h2v2h-2z"/>
<path fill="#4563cf" d="M542 258h2v2h-2zM540 260h2v2h-2zM630 264h2v2h-2zM632 264h2v2h-2zM634 264h2v2h-2zM636 264h2v2h-2zM650 264h2v2h-2zM630 266h2v2h-2zM632 266h2v2h-2zM634 266h2v2h-2zM650 266h2v2h-2zM556 268h2v2h-2zM630 268h2v2h-2zM650 268h2v2h-2zM538 270h2v2h-2zM538 272h2v2h-2zM558 272h2v2h-2zM648 272h2v2h-2zM538 274h2v2h-2zM618 274h2v2h-2zM646 274h2v2h-2zM646 276h2v2h-2zM568 278h2v2h-2zM646 278h2v2h-2zM540 280h2v2h-2zM616 280h2v2h-2zM542 282h2v2h-2zM644 282h2v2h-2zM544 284h2v2h-2zM574 284h2v2h-2zM576 284h2v2h-2zM644 284h2v2h-2zM544 286h2v2h-2zM642 286h2v2h-2zM546 288h2v2h-2zM582 288h2v2h-2zM548 290h2v2h-2zM582 290h2v2h-2zM640 290h2v2h-2zM550 292h2v2h-2zM638 292h2v2h-2zM552 294h2v2h-2zM636 294h2v2h-2z"/>
<path fill="#455dcf" d="M544 258h2v2h-2zM546 258h2v2h-2zM548 260h2v2h-2zM646 260h2v2h-2zM540 262h2v2h-2zM548 262h2v2h-2zM540 264h2v2h-2zM540 266h2v2h-2zM636 266h2v2h-2zM540 268h2v2h-2zM632 268h2v2h-2zM634 268h2v2h-2zM540 270h2v2h-2zM628 270h2v2h-2zM648 270h2v2h-2zM626 272h2v2h-2zM646 272h2v2h-2zM558 274h2v2h-2zM564 276h2v2h-2zM644 276h2v2h-2zM540 278h2v2h-2zM644 278h2v2h-2zM644 280h2v2h-2zM570 282h2v2h-2zM612 282h2v2h-2zM614 282h2v2h-2zM578 284h2v2h-2zM642 284h2v2h-2zM546 286h2v2h-2zM548 288h2v2h-2zM640 288h2v2h-2zM638 290h2v2h-2zM606 292h2v2h-2zM636 292h2v2h-2zM608 294h2v2h-2zM634 294h2v2h-2z"/>
<path fill="#3f75cf" d="M640 258h2v2h-2zM648 258h2v2h-2zM550 260h2v2h-2zM654 264h2v2h-2zM534 266h2v2h-2zM534 268h2v2h-2zM534 270h2v2h-2zM654 270h2v2h-2zM534 272h2v2h-2zM618 272h2v2h-2zM534 274h2v2h-2zM566 274h2v2h-2zM568 276h2v2h-2zM652 276h2v2h-2zM536 282h2v2h-2zM608 282h2v2h-2zM650 282h2v2h-2zM538 286h2v2h-2zM648 286h2v2h-2zM586 290h2v2h-2zM646 290h2v2h-2zM542 292h2v2h-2zM586 292h2v2h-2zM544 294h2v2h-2z"/>
<path fill="#4b5dc9" d="M542 260h2v2h-2zM544 260h2v2h-2zM546 260h2v2h-2zM640 260h2v2h-2zM542 262h2v2h-2zM546 262h2v2h-2zM638 262h2v2h-2zM542 264h2v2h-2zM544 264h2v2h-2zM546 264h2v2h-2zM548 264h2v2h-2zM542 266h2v2h-2zM544 266h2v2h-2zM542 268h2v2h-2zM648 268h2v2h-2zM646 270h2v2h-2zM540 272h2v2h-2zM644 272h2v2h-2zM540 274h2v2h-2zM620 274h2v2h-2zM622 274h2v2h-2zM624 274h2v2h-2zM562 276h2v2h-2zM618 276h2v2h-2zM618 278h2v2h-2zM542 280h2v2h-2zM544 282h2v2h-2zM642 282h2v2h-2zM546 284h2v2h-2zM572 284h2v2h-2zM608 284h2v2h-2zM548 286h2v2h-2zM640 286h2v2h-2zM638 288h2v2h-2zM550 290h2v2h-2zM606 290h2v2h-2zM636 290h2v2h-2zM552 292h2v2h-2zM634 292h2v2h-2zM554 294h2v2h-2zM580 294h2v2h-2zM610 294h2v2h-2zM612 294h2v2h-2zM614 294h2v2h-2zM616 294h2v2h-2zM618 294h2v2h-2zM632 294h2v2h-2z"/>
<path fill="#4b57c9" d="M642 260h2v2h-2zM644 260h2v2h-2zM544 262h2v2h-2zM646 262h2v2h-2zM638 264h2v2h-2zM648 264h2v2h-2zM546 266h2v2h-2zM552 266h2v2h-2zM638 266h2v2h-2zM648 266h2v2h-2zM544 268h2v2h-2zM638 268h2v2h-2zM640 268h2v2h-2zM646 268h2v2h-2zM542 270h2v2h-2zM630 270h2v2h-2zM632 270h2v2h-2zM634 270h2v2h-2zM636 270h2v2h-2zM638 270h2v2h-2zM640 270h2v2h-2zM642 270h2v2h-2zM644 270h2v2h-2zM542 272h2v2h-2zM640 272h2v2h-2zM642 272h2v2h-2zM626 274h2v2h-2zM642 274h2v2h-2zM542 276h2v2h-2zM558 276h2v2h-2zM560 276h2v2h-2zM620 276h2v2h-2zM622 276h2v2h-2zM624 276h2v2h-2zM642 276h2v2h-2zM542 278h2v2h-2zM620 278h2v2h-2zM642 278h2v2h-2zM544 280h2v2h-2zM568 280h2v2h-2zM618 280h2v2h-2zM642 280h2v2h-2zM546 282h2v2h-2zM548 282h2v2h-2zM616 282h2v2h-2zM640 282h2v2h-2zM548 284h2v2h-2zM570 284h2v2h-2zM638 284h2v2h-2zM640 284h2v2h-2zM550 286h2v2h-2zM578 286h2v2h-2zM580 286h2v2h-2zM606 286h2v2h-2zM638 286h2v2h-2zM550 288h2v2h-2zM580 288h2v2h-2zM606 288h2v2h-2zM636 288h2v2h-2zM552 290h2v2h-2zM580 290h2v2h-2zM608 290h2v2h-2zM634 290h2v2h-2zM554 292h2v2h-2zM580 292h2v2h-2zM608 292h2v2h-2zM610 292h2v2h-2zM612 292h2v2h-2zM614 292h2v2h-2zM616 292h2v2h-2zM618 292h2v2h-2zM632 292h2v2h-2zM556 294h2v2h-2zM558 294h2v2h-2zM560 294h2v2h-2zM620 294h2v2h-2zM622 294h2v2h-2zM624 294h2v2h-2zM626 294h2v2h-2zM628 294h2v2h-2zM630 294h2v2h-2z"/>
<path fill="#5151c3" d="M640 262h2v2h-2zM644 262h2v2h-2zM640 264h2v2h-2zM644 264h2v2h-2zM646 264h2v2h-2zM550 266h2v2h-2zM640 266h2v2h-2zM642 266h2v2h-2zM644 266h2v2h-2zM544 270h2v2h-2zM556 272h2v2h-2zM628 272h2v2h-2zM638 272h2v2h-2zM556 274h2v2h-2zM640 274h2v2h-2zM544 276h2v2h-2zM556 276h2v2h-2zM626 276h2v2h-2zM640 276h2v2h-2zM544 278h2v2h-2zM566 278h2v2h-2zM640 278h2v2h-2zM546 280h2v2h-2zM548 280h2v2h-2zM640 280h2v2h-2zM550 282h2v2h-2zM568 282h2v2h-2zM638 282h2v2h-2zM552 284h2v2h-2zM568 284h2v2h-2zM612 284h2v2h-2zM636 284h2v2h-2zM552 286h2v2h-2zM576 286h2v2h-2zM610 286h2v2h-2zM612 286h2v2h-2zM614 286h2v2h-2zM616 286h2v2h-2zM634 286h2v2h-2zM578 288h2v2h-2zM610 288h2v2h-2zM612 288h2v2h-2zM614 288h2v2h-2zM616 288h2v2h-2zM634 288h2v2h-2zM554 290h2v2h-2zM578 290h2v2h-2zM612 290h2v2h-2zM618 290h2v2h-2zM632 290h2v2h-2zM558 292h2v2h-2zM560 292h2v2h-2zM562 292h2v2h-2zM564 292h2v2h-2zM578 292h2v2h-2zM620 292h2v2h-2zM622 292h2v2h-2zM628 292h2v2h-2zM630 292h2v2h-2zM564 294h2v2h-2zM566 294h2v2h-2zM578 294h2v2h-2z"/>
<path fill="#514bc3" d="M642 262h2v2h-2zM642 264h2v2h-2zM546 268h2v2h-2zM554 268h2v2h-2zM544 272h2v2h-2zM636 272h2v2h-2zM544 274h2v2h-2zM638 274h2v2h-2zM546 278h2v2h-2zM624 278h2v2h-2zM550 280h2v2h-2zM552 280h2v2h-2zM620 280h2v2h-2zM638 280h2v2h-2zM552 282h2v2h-2zM618 282h2v2h-2zM636 282h2v2h-2zM634 284h2v2h-2zM568 286h2v2h-2zM570 286h2v2h-2zM574 286h2v2h-2zM554 288h2v2h-2zM618 288h2v2h-2zM632 288h2v2h-2zM556 290h2v2h-2zM620 290h2v2h-2zM630 290h2v2h-2zM566 292h2v2h-2zM624 292h2v2h-2zM626 292h2v2h-2zM568 294h2v2h-2z"/>
<path fill="#4b5dcf" d="M648 262h2v2h-2zM636 268h2v2h-2zM644 274h2v2h-2zM540 276h2v2h-2z"/>
<path fill="#5157c9" d="M548 266h2v2h-2zM542 274h2v2h-2zM616 290h2v2h-2z"/>
<path fill="#5151c9" d="M646 266h2v2h-2zM642 268h2v2h-2zM644 268h2v2h-2zM556 270h2v2h-2zM622 278h2v2h-2zM550 284h2v2h-2zM610 284h2v2h-2zM614 284h2v2h-2zM616 284h2v2h-2zM608 286h2v2h-2zM636 286h2v2h-2zM552 288h2v2h-2zM608 288h2v2h-2zM610 290h2v2h-2zM614 290h2v2h-2zM556 292h2v2h-2zM562 294h2v2h-2z"/>
<path fill="#5745bd" d="M548 268h2v2h-2zM552 268h2v2h-2zM546 270h2v2h-2zM546 272h2v2h-2zM632 272h2v2h-2zM634 272h2v2h-2zM546 274h2v2h-2zM554 274h2v2h-2zM636 274h2v2h-2zM546 276h2v2h-2zM548 276h2v2h-2zM554 276h2v2h-2zM628 276h2v2h-2zM636 276h2v2h-2zM550 278h2v2h-2zM558 278h2v2h-2zM560 278h2v2h-2zM564 278h2v2h-2zM628 278h2v2h-2zM630 278h2v2h-2zM636 278h2v2h-2zM556 280h2v2h-2zM566 280h2v2h-2zM628 280h2v2h-2zM630 280h2v2h-2zM632 280h2v2h-2zM634 280h2v2h-2zM554 282h2v2h-2zM630 282h2v2h-2zM632 282h2v2h-2zM554 284h2v2h-2zM630 284h2v2h-2zM566 286h2v2h-2zM630 286h2v2h-2zM556 288h2v2h-2zM564 288h2v2h-2zM566 288h2v2h-2zM570 288h2v2h-2zM576 288h2v2h-2zM620 288h2v2h-2zM630 288h2v2h-2zM560 290h2v2h-2zM562 290h2v2h-2zM568 290h2v2h-2zM622 290h2v2h-2zM624 290h2v2h-2zM626 290h2v2h-2zM570 292h2v2h-2zM576 292h2v2h-2zM572 294h2v2h-2zM574 294h2v2h-2z"/>
<path fill="#5d3fbd" d="M550 268h2v2h-2zM554 270h2v2h-2zM554 272h2v2h-2zM632 274h2v2h-2zM634 274h2v2h-2zM550 276h2v2h-2zM630 276h2v2h-2zM632 276h2v2h-2zM634 276h2v2h-2zM562 278h2v2h-2zM632 278h2v2h-2zM622 280h2v2h-2zM556 282h2v2h-2zM566 284h2v2h-2zM556 286h2v2h-2zM558 288h2v2h-2zM570 290h2v2h-2zM572 292h2v2h-2z"/>
<path fill="#5d3fb7" d="M548 270h2v2h-2zM550 270h2v2h-2zM552 270h2v2h-2zM548 272h2v2h-2zM550 272h2v2h-2zM552 272h2v2h-2zM548 274h2v2h-2zM550 274h2v2h-2zM552 274h2v2h-2zM558 280h2v2h-2zM624 280h2v2h-2zM626 280h2v2h-2zM566 282h2v2h-2zM620 282h2v2h-2zM628 282h2v2h-2zM556 284h2v2h-2zM620 284h2v2h-2zM628 284h2v2h-2zM558 286h2v2h-2zM564 286h2v2h-2zM620 286h2v2h-2zM628 286h2v2h-2zM560 288h2v2h-2zM562 288h2v2h-2zM572 288h2v2h-2zM574 288h2v2h-2zM622 288h2v2h-2zM624 288h2v2h-2zM626 288h2v2h-2zM572 290h2v2h-2zM574 290h2v2h-2zM574 292h2v2h-2z"/>
<path fill="#574bbd" d="M630 272h2v2h-2zM548 278h2v2h-2zM552 278h2v2h-2zM636 280h2v2h-2zM618 284h2v2h-2zM632 284h2v2h-2zM554 286h2v2h-2zM568 288h2v2h-2zM558 290h2v2h-2zM564 290h2v2h-2zM628 290h2v2h-2zM568 292h2v2h-2zM570 294h2v2h-2z"/>
<path fill="#574bc3" d="M628 274h2v2h-2zM638 276h2v2h-2zM554 278h2v2h-2zM556 278h2v2h-2zM626 278h2v2h-2zM638 278h2v2h-2zM554 280h2v2h-2zM634 282h2v2h-2zM572 286h2v2h-2zM618 286h2v2h-2zM632 286h2v2h-2zM566 290h2v2h-2zM576 294h2v2h-2z"/>
<path fill="#5d45bd" d="M630 274h2v2h-2zM552 276h2v2h-2zM634 278h2v2h-2zM628 288h2v2h-2zM576 290h2v2h-2z"/>
<path fill="#399fbd" d="M610 278h2v2h-2z"/>
<path fill="#5739b1" d="M560 280h2v2h-2zM562 280h2v2h-2zM560 282h2v2h-2zM562 282h2v2h-2zM564 282h2v2h-2zM622 282h2v2h-2zM624 282h2v2h-2zM560 284h2v2h-2zM562 284h2v2h-2zM564 284h2v2h-2zM622 284h2v2h-2zM624 284h2v2h-2zM626 284h2v2h-2zM622 286h2v2h-2zM624 286h2v2h-2z"/>
<path fill="#5d39b7" d="M564 280h2v2h-2zM558 282h2v2h-2zM558 284h2v2h-2zM560 286h2v2h-2zM626 286h2v2h-2z"/>
<path fill="#5739b7" d="M626 282h2v2h-2zM562 286h2v2h-2z"/>
</g>
<g style="mix-blend-mode:hard-light" opacity="0.22" filter="url(#bump)"><path d="M572.30,144.80 C572.55,145.40 573.45,146.93 573.80,148.40 C574.15,149.87 574.48,151.70 574.40,153.60 C574.32,155.50 573.83,157.72 573.30,159.80 C572.77,161.88 571.72,164.37 571.20,166.10 C570.68,167.83 570.28,168.55 570.20,170.20 C570.12,171.85 570.62,175.03 570.70,176.00 M581.10,151.50 C581.62,151.77 583.42,151.72 584.20,153.10 C584.98,154.48 585.80,157.63 585.80,159.80 C585.80,161.97 584.82,164.53 584.20,166.10 C583.58,167.67 582.45,168.68 582.10,169.20 M560.40,150.50 C560.92,150.67 562.65,150.98 563.50,151.50 C564.35,152.02 565.17,152.73 565.50,153.60 C565.83,154.47 566.02,155.83 565.50,156.70 C564.98,157.57 563.43,158.62 562.40,158.80 C561.37,158.98 559.98,158.32 559.30,157.80 C558.62,157.28 558.47,156.05 558.30,155.70 M560.40,160.90 C561.08,161.07 563.30,161.38 564.50,161.90 C565.70,162.42 566.57,163.13 567.60,164.00 C568.63,164.87 569.48,166.58 570.70,167.10 C571.92,167.62 573.52,167.27 574.90,167.10 C576.28,166.93 578.32,166.27 579.00,166.10 M553.10,166.10 C553.62,166.27 554.98,166.77 556.20,167.10 C557.42,167.43 559.18,168.10 560.40,168.10 C561.62,168.10 562.98,167.27 563.50,167.10 M575.90,148.40 C576.42,148.07 577.78,146.92 579.00,146.40 C580.22,145.88 581.82,145.30 583.20,145.30 C584.58,145.30 586.62,146.22 587.30,146.40 M556.20,154.70 C556.72,154.52 558.43,154.13 559.30,153.60 C560.17,153.07 561.05,151.85 561.40,151.50 M580.00,161.90 C580.18,162.77 580.57,165.72 581.10,167.10 C581.63,168.48 582.33,169.68 583.20,170.20 C584.07,170.72 585.27,170.55 586.30,170.20 C587.33,169.85 588.88,168.45 589.40,168.10 M561.40,170.20 C561.75,170.72 563.33,172.33 563.50,173.30 C563.67,174.27 562.58,175.55 562.40,176.00 M565.50,166.10 C565.85,166.62 567.07,168.17 567.60,169.20 C568.13,170.23 568.52,171.78 568.70,172.30 M596.10,150.50 C596.78,150.15 598.65,148.83 600.20,148.40 C601.75,147.97 603.85,148.07 605.40,147.90 C606.95,147.73 608.12,148.00 609.50,147.40 C610.88,146.80 612.32,145.08 613.70,144.30 C615.08,143.52 616.25,142.70 617.80,142.70 C619.35,142.70 622.13,144.03 623.00,144.30 M613.70,144.30 C613.62,145.17 613.37,147.95 613.20,149.50 C613.03,151.05 612.62,152.05 612.70,153.60 C612.78,155.15 612.85,157.42 613.70,158.80 C614.55,160.18 616.25,160.52 617.80,161.90 C619.35,163.28 621.78,165.72 623.00,167.10 C624.22,168.48 624.75,169.68 625.10,170.20 M604.40,156.70 C604.57,157.57 605.40,160.17 605.40,161.90 C605.40,163.63 604.67,165.37 604.40,167.10 C604.13,168.83 603.98,170.82 603.80,172.30 C603.62,173.78 603.38,175.38 603.30,176.00 M597.10,155.70 C597.80,155.62 600.08,155.03 601.30,155.20 C602.52,155.37 603.88,156.45 604.40,156.70 M608.50,156.70 C608.85,157.22 609.90,158.77 610.60,159.80 C611.30,160.83 612.02,161.85 612.70,162.90 C613.38,163.95 613.50,165.40 614.70,166.10 C615.90,166.80 618.33,167.10 619.90,167.10 C621.47,167.10 623.40,166.27 624.10,166.10 M619.90,148.40 C620.42,148.92 622.13,150.28 623.00,151.50 C623.87,152.72 624.23,154.83 625.10,155.70 C625.97,156.57 627.17,156.02 628.20,156.70 C629.23,157.38 630.78,159.28 631.30,159.80 M628.20,159.80 C628.37,160.67 628.85,163.27 629.20,165.00 C629.55,166.73 629.95,168.37 630.30,170.20 C630.65,172.03 631.13,175.03 631.30,176.00 M609.50,170.20 C610.37,170.37 613.13,171.20 614.70,171.20 C616.27,171.20 618.20,170.37 618.90,170.20 M555.60,193.20 C556.47,193.37 559.25,194.38 560.80,194.20 C562.35,194.02 563.35,192.70 564.90,192.10 C566.45,191.50 568.53,190.68 570.10,190.60 C571.67,190.52 573.43,191.08 574.30,191.60 C575.17,192.12 575.13,193.35 575.30,193.70 M560.80,194.70 C560.97,195.57 561.45,198.17 561.80,199.90 C562.15,201.63 561.68,203.72 562.90,205.10 C564.12,206.48 567.20,207.17 569.10,208.20 C571.00,209.23 573.10,210.43 574.30,211.30 C575.50,212.17 575.97,213.05 576.30,213.40 M553.50,176.10 C553.68,176.78 554.25,178.82 554.60,180.20 C554.95,181.58 555.60,183.02 555.60,184.40 C555.60,185.78 554.95,187.12 554.60,188.50 C554.25,189.88 554.20,191.83 553.50,192.70 C552.80,193.57 551.60,193.45 550.40,193.70 C549.20,193.95 546.98,194.12 546.30,194.20 M561.80,174.00 C561.90,174.87 562.05,177.47 562.40,179.20 C562.75,180.93 563.30,182.68 563.90,184.40 C564.50,186.12 565.65,188.65 566.00,189.50 M580.50,174.00 C580.33,175.38 579.77,179.72 579.50,182.30 C579.23,184.88 578.90,186.57 578.90,189.50 C578.90,192.43 579.23,196.78 579.50,199.90 C579.77,203.02 580.17,205.85 580.50,208.20 C580.83,210.55 581.33,213.03 581.50,214.00 M544.20,203.00 C544.90,203.35 547.37,204.23 548.40,205.10 C549.43,205.97 550.23,206.72 550.40,208.20 C550.57,209.68 549.57,213.03 549.40,214.00 M540.10,186.40 C540.78,186.75 542.82,187.80 544.20,188.50 C545.58,189.20 546.85,189.90 548.40,190.60 C549.95,191.30 552.65,192.35 553.50,192.70 M572.20,174.00 C572.03,174.52 571.55,176.07 571.20,177.10 C570.85,178.13 570.28,179.68 570.10,180.20 M613.10,192.70 C613.62,192.35 614.82,190.87 616.20,190.60 C617.58,190.33 619.85,190.58 621.40,191.10 C622.95,191.62 624.63,192.40 625.50,193.70 C626.37,195.00 626.93,197.17 626.60,198.90 C626.27,200.63 624.88,202.90 623.50,204.10 C622.12,205.30 620.03,205.42 618.30,206.10 C616.57,206.78 614.32,208.72 613.10,208.20 C611.88,207.68 611.17,204.90 611.00,203.00 C610.83,201.10 611.75,198.52 612.10,196.80 C612.45,195.08 612.93,193.38 613.10,192.70 M606.90,174.00 C607.07,175.38 607.65,179.72 607.90,182.30 C608.15,184.88 608.23,186.57 608.40,189.50 C608.57,192.43 608.55,196.78 608.90,199.90 C609.25,203.02 609.80,205.85 610.50,208.20 C611.20,210.55 612.67,213.03 613.10,214.00 M617.20,174.00 C617.72,174.52 618.92,176.42 620.30,177.10 C621.68,177.78 624.63,177.93 625.50,178.10 M586.10,184.40 C586.63,185.25 588.95,187.43 589.30,189.50 C589.65,191.57 588.38,195.58 588.20,196.80 M597.50,185.40 C598.20,185.57 601.35,185.18 601.70,186.40 C602.05,187.62 600.12,190.97 599.60,192.70 C599.08,194.43 598.77,196.12 598.60,196.80 M596.50,203.00 C597.37,203.35 600.83,204.75 601.70,205.10 M620.00,158.30 C621.03,158.65 624.47,158.68 626.20,160.40 C627.93,162.12 629.53,165.50 630.40,168.60 C631.27,171.70 631.07,175.55 631.40,179.00 C631.73,182.45 632.23,187.58 632.40,189.30 M632.40,189.30 C633.43,189.65 636.87,190.53 638.60,191.40 C640.33,192.27 642.10,193.98 642.80,194.50 M626.20,203.80 C627.23,203.63 629.98,202.45 632.40,202.80 C634.82,203.15 638.28,205.03 640.70,205.90 C643.12,206.77 645.87,207.65 646.90,208.00 M628.30,216.30 C629.33,216.63 632.08,218.65 634.50,218.30 C636.92,217.95 640.38,215.23 642.80,214.20 C645.22,213.17 647.97,212.45 649.00,212.10 M634.50,176.90 C635.18,177.60 637.57,179.37 638.60,181.10 C639.63,182.83 640.35,186.27 640.70,187.30 M551.50,212.00 C551.85,212.68 552.73,214.88 553.60,216.10 C554.47,217.32 555.32,218.43 556.70,219.30 C558.08,220.17 560.33,220.62 561.90,221.30 C563.47,221.98 564.72,222.70 566.10,223.40 C567.48,224.10 568.65,224.98 570.20,225.50 C571.75,226.02 573.50,226.50 575.40,226.50 C577.30,226.50 580.57,225.67 581.60,225.50 M542.20,226.50 C542.90,226.33 545.02,225.50 546.40,225.50 C547.78,225.50 549.30,225.63 550.50,226.50 C551.70,227.37 552.73,229.32 553.60,230.70 C554.47,232.08 554.67,233.43 555.70,234.80 C556.73,236.17 558.25,238.03 559.80,238.90 C561.35,239.77 563.27,240.17 565.00,240.00 C566.73,239.83 568.47,237.90 570.20,237.90 C571.93,237.90 573.50,239.13 575.40,240.00 C577.30,240.87 580.57,242.58 581.60,243.10 M560.90,232.70 C561.23,231.83 561.87,228.70 562.90,227.50 C563.93,226.30 566.40,225.83 567.10,225.50 M542.20,215.10 C542.38,216.32 543.30,220.50 543.30,222.40 C543.30,224.30 542.38,225.82 542.20,226.50 M545.30,237.90 C545.82,238.42 547.37,239.78 548.40,241.00 C549.43,242.22 550.63,243.65 551.50,245.20 C552.37,246.75 553.25,249.45 553.60,250.30 M558.80,241.00 C558.97,241.70 559.45,243.82 559.80,245.20 C560.15,246.58 560.72,248.62 560.90,249.30 M565.00,218.00 C565.25,218.33 566.17,219.33 566.50,220.00 C566.83,220.67 566.92,221.67 567.00,222.00 M578.50,212.00 C578.33,212.52 577.67,214.58 577.50,215.10 M595.50,228.60 C596.37,228.42 598.80,227.85 600.70,227.50 C602.60,227.15 604.82,227.02 606.90,226.50 C608.98,225.98 611.30,224.57 613.20,224.40 C615.10,224.23 616.75,225.67 618.30,225.50 C619.85,225.33 621.22,224.10 622.50,223.40 C623.78,222.70 625.42,221.65 626.00,221.30 M580.00,232.70 C580.68,233.05 582.72,234.10 584.10,234.80 C585.48,235.50 586.92,236.38 588.30,236.90 C589.68,237.42 591.72,237.73 592.40,237.90 M603.80,242.10 C604.50,242.10 606.62,242.28 608.00,242.10 C609.38,241.92 610.55,241.35 612.10,241.00 C613.65,240.65 615.73,240.00 617.30,240.00 C618.87,240.00 620.05,241.00 621.50,241.00 C622.95,241.00 625.25,240.17 626.00,240.00 M616.30,225.50 C616.47,226.37 616.78,229.15 617.30,230.70 C617.82,232.25 618.88,233.43 619.40,234.80 C619.92,236.17 620.23,238.22 620.40,238.90 M600.70,241.00 C601.05,241.35 602.62,242.07 602.80,243.10 C602.98,244.13 602.48,246.33 601.80,247.20 C601.12,248.07 599.22,248.12 598.70,248.30 M586.20,242.10 C586.38,242.62 587.30,244.17 587.30,245.20 C587.30,246.23 586.38,247.78 586.20,248.30 M580.00,246.20 C580.52,246.37 581.88,246.33 583.10,247.20 C584.32,248.07 586.60,250.70 587.30,251.40 M593.50,215.10 C594.02,215.10 595.57,214.93 596.60,215.10 C597.63,215.27 599.18,215.93 599.70,216.10 M580.00,214.10 C581.03,214.27 584.47,215.28 586.20,215.10 C587.93,214.92 589.70,213.35 590.40,213.00 M608.00,224.40 C607.82,223.72 606.90,221.68 606.90,220.30 C606.90,218.92 607.82,216.80 608.00,216.10 M616.00,240.30 C617.17,240.30 620.65,240.58 623.00,240.30 C625.35,240.02 627.75,239.48 630.10,238.60 C632.45,237.72 634.75,236.18 637.10,235.00 C639.45,233.82 643.02,232.08 644.20,231.50 M624.80,245.60 C625.10,247.07 626.60,251.47 626.60,254.40 C626.60,257.33 624.80,260.55 624.80,263.20 C624.80,265.85 626.30,269.12 626.60,270.30 M630.10,259.70 C631.27,259.12 634.75,257.67 637.10,256.20 C639.45,254.73 642.43,252.95 644.20,250.90 C645.97,248.85 647.12,245.07 647.70,243.90 M616.00,268.50 C617.17,268.80 620.35,270.58 623.00,270.30 C625.65,270.02 629.25,267.98 631.90,266.80 C634.55,265.62 636.70,264.67 638.90,263.20 C641.10,261.73 644.07,258.87 645.10,258.00 M619.50,277.30 C620.68,277.02 624.25,276.47 626.60,275.60 C628.95,274.73 631.25,273.13 633.60,272.10 C635.95,271.07 639.52,269.85 640.70,269.40 M637.10,242.10 C637.70,242.98 639.82,245.63 640.70,247.40 C641.58,249.17 642.12,251.82 642.40,252.70 M616.00,258.00 C616.88,258.28 619.83,258.83 621.30,259.70 C622.77,260.57 624.22,262.62 624.80,263.20 M559.70,248.00 C560.12,248.83 561.38,251.75 562.20,253.00 C563.02,254.25 563.98,254.25 564.60,255.50 C565.22,256.75 565.90,258.85 565.90,260.50 C565.90,262.15 565.02,263.75 564.60,265.40 C564.18,267.05 563.60,269.57 563.40,270.40 M543.50,255.50 C544.33,255.92 546.63,256.97 548.50,258.00 C550.37,259.03 552.63,260.67 554.70,261.70 C556.77,262.73 559.25,263.58 560.90,264.20 C562.55,264.82 563.98,265.20 564.60,265.40 M548.50,267.90 C549.53,267.90 552.83,267.68 554.70,267.90 C556.57,268.12 558.05,268.78 559.70,269.20 C561.35,269.62 562.73,269.78 564.60,270.40 C566.47,271.02 568.82,272.27 570.90,272.90 C572.98,273.53 575.03,274.20 577.10,274.20 C579.17,274.20 582.27,273.12 583.30,272.90 M572.10,262.90 C572.32,263.53 572.57,265.65 573.40,266.70 C574.23,267.75 575.45,268.58 577.10,269.20 C578.75,269.82 581.23,269.98 583.30,270.40 C585.37,270.82 588.47,271.48 589.50,271.70 M554.70,275.40 C555.53,275.60 557.83,275.98 559.70,276.60 C561.57,277.22 563.62,278.05 565.90,279.10 C568.18,280.15 571.12,281.85 573.40,282.90 C575.68,283.95 577.53,284.78 579.60,285.40 C581.67,286.02 583.93,286.82 585.80,286.60 C587.67,286.38 589.97,284.52 590.80,284.10 M577.10,253.00 C577.52,253.62 578.77,255.25 579.60,256.70 C580.43,258.15 581.27,260.67 582.10,261.70 C582.93,262.73 584.18,262.70 584.60,262.90 M583.30,248.00 C584.13,248.83 587.05,251.75 588.30,253.00 C589.55,254.25 590.38,255.08 590.80,255.50 M567.10,251.70 C567.93,251.50 570.43,250.28 572.10,250.50 C573.77,250.72 576.27,252.58 577.10,253.00 M588.30,275.40 C588.72,275.82 589.77,277.28 590.80,277.90 C591.83,278.52 593.88,278.90 594.50,279.10 M597.50,260.40 C598.32,260.20 600.75,259.62 602.40,259.20 C604.05,258.78 605.73,258.32 607.40,257.90 C609.07,257.48 610.53,257.10 612.40,256.70 C614.27,256.30 616.75,256.12 618.60,255.50 C620.45,254.88 622.05,253.83 623.50,253.00 C624.95,252.17 626.67,250.92 627.30,250.50 M623.50,253.00 C623.72,254.03 624.38,257.13 624.80,259.20 C625.22,261.27 625.58,263.53 626.00,265.40 C626.42,267.27 627.08,269.57 627.30,270.40 M602.40,274.10 C603.43,273.88 606.53,273.42 608.60,272.80 C610.67,272.18 613.35,271.43 614.80,270.40 C616.25,269.37 617.08,267.85 617.30,266.60 C617.52,265.35 616.30,263.52 616.10,262.90 M596.20,280.30 C597.23,280.50 600.33,281.70 602.40,281.50 C604.47,281.30 606.53,279.92 608.60,279.10 C610.67,278.28 612.72,277.65 614.80,276.60 C616.88,275.55 619.23,273.83 621.10,272.80 C622.97,271.77 625.18,270.80 626.00,270.40 M602.40,286.50 C603.43,286.30 606.53,285.72 608.60,285.30 C610.67,284.88 612.72,284.63 614.80,284.00 C616.88,283.37 620.05,281.92 621.10,281.50 M604.90,248.00 C605.32,248.62 606.57,250.45 607.40,251.70 C608.23,252.95 609.48,254.87 609.90,255.50 M554.00,174.00 C555.00,173.75 557.78,172.85 560.00,172.50 C562.22,172.15 565.30,171.57 567.30,171.90 C569.30,172.23 570.55,173.40 572.00,174.50 C573.45,175.60 575.33,177.83 576.00,178.50 M545.20,191.70 C546.17,192.17 548.78,193.77 551.00,194.50 C553.22,195.23 557.25,195.83 558.50,196.10 M543.00,218.10 C543.83,218.50 546.17,219.77 548.00,220.50 C549.83,221.23 553.00,222.17 554.00,222.50 M549.60,240.10 C550.67,239.78 553.78,238.57 556.00,238.20 C558.22,237.83 561.75,237.95 562.90,237.90 M611.30,174.00 C612.42,173.75 615.80,172.85 618.00,172.50 C620.20,172.15 622.33,171.57 624.50,171.90 C626.67,172.23 628.78,173.40 631.00,174.50 C633.22,175.60 636.67,177.83 637.80,178.50 M620.10,218.10 C621.08,218.55 623.80,220.07 626.00,220.80 C628.20,221.53 630.97,222.55 633.30,222.50 C635.63,222.45 637.78,221.23 640.00,220.50 C642.22,219.77 645.50,218.50 646.60,218.10 M611.30,240.10 C612.25,240.50 614.80,241.77 617.00,242.50 C619.20,243.23 623.25,244.17 624.50,244.50 M546.00,150.00 C546.67,150.50 549.00,151.67 550.00,153.00 C551.00,154.33 551.67,157.17 552.00,158.00 M588.00,150.00 C588.17,151.00 589.08,154.00 589.00,156.00 C588.92,158.00 587.75,161.00 587.50,162.00 M599.00,150.00 C599.33,151.00 600.83,154.00 601.00,156.00 C601.17,158.00 600.17,161.00 600.00,162.00 M636.00,150.00 C636.67,151.33 639.17,155.33 640.00,158.00 C640.83,160.67 640.83,164.67 641.00,166.00 M636.30,208.20 C636.22,208.53 636.08,209.58 635.80,210.20 C635.52,210.82 635.08,211.42 634.60,211.90 C634.12,212.38 633.53,212.83 632.90,213.10 C632.27,213.37 631.15,213.43 630.80,213.50 M565.30,198.20 C565.48,198.23 566.05,198.27 566.40,198.40 C566.75,198.53 567.12,198.77 567.40,199.00 C567.68,199.23 567.90,199.50 568.10,199.80 C568.30,200.10 568.52,200.63 568.60,200.80 M612.30,185.80 C612.67,185.60 613.72,184.77 614.50,184.60 C615.28,184.43 616.23,184.55 617.00,184.80 C617.77,185.05 618.57,185.52 619.10,186.10 C619.63,186.68 620.02,187.93 620.20,188.30 M561.90,213.40 C561.60,213.40 560.67,213.50 560.10,213.40 C559.53,213.30 558.98,213.08 558.50,212.80 C558.02,212.52 557.57,212.15 557.20,211.70 C556.83,211.25 556.45,210.37 556.30,210.10 M622.20,202.30 C621.80,202.12 620.48,201.72 619.80,201.20 C619.12,200.68 618.47,199.97 618.10,199.20 C617.73,198.43 617.55,197.45 617.60,196.60 C617.65,195.75 618.27,194.52 618.40,194.10 M629.10,229.60 C628.88,229.92 628.35,230.98 627.80,231.50 C627.25,232.02 626.50,232.42 625.80,232.70 C625.10,232.98 624.35,233.20 623.60,233.20 C622.85,233.20 621.68,232.78 621.30,232.70 M613.10,246.30 C613.08,246.52 613.10,247.17 613.00,247.60 C612.90,248.03 612.73,248.52 612.50,248.90 C612.27,249.28 611.95,249.62 611.60,249.90 C611.25,250.18 610.60,250.48 610.40,250.60 M611.00,268.60 C610.65,268.52 609.50,268.43 608.90,268.10 C608.30,267.77 607.77,267.18 607.40,266.60 C607.03,266.02 606.75,265.28 606.70,264.60 C606.65,263.92 607.03,262.85 607.10,262.50 M582.60,198.20 C582.90,198.47 583.93,199.15 584.40,199.80 C584.87,200.45 585.23,201.30 585.40,202.10 C585.57,202.90 585.57,203.82 585.40,204.60 C585.23,205.38 584.57,206.43 584.40,206.80 M646.30,236.30 C646.05,236.60 645.43,237.65 644.80,238.10 C644.17,238.55 643.28,238.90 642.50,239.00 C641.72,239.10 640.83,238.97 640.10,238.70 C639.37,238.43 638.43,237.62 638.10,237.40 M599.30,263.80 C599.43,264.00 599.92,264.57 600.10,265.00 C600.28,265.43 600.40,265.93 600.40,266.40 C600.40,266.87 600.28,267.37 600.10,267.80 C599.92,268.23 599.43,268.80 599.30,269.00 M606.30,232.40 C606.60,232.30 607.50,231.82 608.10,231.80 C608.70,231.78 609.37,232.00 609.90,232.30 C610.43,232.60 610.98,233.08 611.30,233.60 C611.62,234.12 611.72,235.10 611.80,235.40 M590.90,180.50 C590.48,180.43 589.15,180.43 588.40,180.10 C587.65,179.77 586.88,179.17 586.40,178.50 C585.92,177.83 585.60,176.92 585.50,176.10 C585.40,175.28 585.75,174.02 585.80,173.60 M590.60,202.80 C590.70,203.07 591.13,203.83 591.20,204.40 C591.27,204.97 591.20,205.65 591.00,206.20 C590.80,206.75 590.42,207.32 590.00,207.70 C589.58,208.08 588.75,208.37 588.50,208.50 M555.30,199.10 C555.40,199.38 555.80,200.23 555.90,200.80 C556.00,201.37 556.00,201.95 555.90,202.50 C555.80,203.05 555.58,203.60 555.30,204.10 C555.02,204.60 554.38,205.27 554.20,205.50 M586.90,224.30 C587.17,224.47 588.03,224.88 588.50,225.30 C588.97,225.72 589.42,226.25 589.70,226.80 C589.98,227.35 590.15,227.98 590.20,228.60 C590.25,229.22 590.03,230.18 590.00,230.50 M638.20,249.80 C637.93,249.78 637.13,249.82 636.60,249.70 C636.07,249.58 635.48,249.38 635.00,249.10 C634.52,248.82 634.05,248.42 633.70,248.00 C633.35,247.58 633.03,246.83 632.90,246.60 M547.20,235.90 C546.92,235.65 545.93,235.00 545.50,234.40 C545.07,233.80 544.72,233.02 544.60,232.30 C544.48,231.58 544.55,230.78 544.80,230.10 C545.05,229.42 545.88,228.52 546.10,228.20 M642.60,197.70 C642.65,197.93 642.90,198.63 642.90,199.10 C642.90,199.57 642.80,200.07 642.60,200.50 C642.40,200.93 642.05,201.37 641.70,201.70 C641.35,202.03 640.70,202.37 640.50,202.50 M634.40,194.70 C634.62,194.92 635.35,195.50 635.70,196.00 C636.05,196.50 636.33,197.10 636.50,197.70 C636.67,198.30 636.75,198.98 636.70,199.60 C636.65,200.22 636.28,201.10 636.20,201.40 M627.40,214.40 C627.10,214.30 626.15,214.10 625.60,213.80 C625.05,213.50 624.52,213.07 624.10,212.60 C623.68,212.13 623.32,211.58 623.10,211.00 C622.88,210.42 622.85,209.42 622.80,209.10 M605.50,213.70 C605.33,213.48 604.73,212.87 604.50,212.40 C604.27,211.93 604.13,211.40 604.10,210.90 C604.07,210.40 604.13,209.88 604.30,209.40 C604.47,208.92 604.97,208.23 605.10,208.00 M631.50,169.10 C631.92,169.00 633.18,168.45 634.00,168.50 C634.82,168.55 635.73,168.93 636.40,169.40 C637.07,169.87 637.67,170.57 638.00,171.30 C638.33,172.03 638.33,173.38 638.40,173.80 M548.30,251.60 C548.07,251.32 547.23,250.53 546.90,249.90 C546.57,249.27 546.37,248.50 546.30,247.80 C546.23,247.10 546.28,246.37 546.50,245.70 C546.72,245.03 547.42,244.12 547.60,243.80" fill="none" stroke="#000" stroke-width="1.6" stroke-linecap="round"/></g>
<path d="M572.30,144.80 C572.55,145.40 573.45,146.93 573.80,148.40 C574.15,149.87 574.48,151.70 574.40,153.60 C574.32,155.50 573.83,157.72 573.30,159.80 C572.77,161.88 571.72,164.37 571.20,166.10 C570.68,167.83 570.28,168.55 570.20,170.20 C570.12,171.85 570.62,175.03 570.70,176.00 M581.10,151.50 C581.62,151.77 583.42,151.72 584.20,153.10 C584.98,154.48 585.80,157.63 585.80,159.80 C585.80,161.97 584.82,164.53 584.20,166.10 C583.58,167.67 582.45,168.68 582.10,169.20 M560.40,150.50 C560.92,150.67 562.65,150.98 563.50,151.50 C564.35,152.02 565.17,152.73 565.50,153.60 C565.83,154.47 566.02,155.83 565.50,156.70 C564.98,157.57 563.43,158.62 562.40,158.80 C561.37,158.98 559.98,158.32 559.30,157.80 C558.62,157.28 558.47,156.05 558.30,155.70 M560.40,160.90 C561.08,161.07 563.30,161.38 564.50,161.90 C565.70,162.42 566.57,163.13 567.60,164.00 C568.63,164.87 569.48,166.58 570.70,167.10 C571.92,167.62 573.52,167.27 574.90,167.10 C576.28,166.93 578.32,166.27 579.00,166.10 M553.10,166.10 C553.62,166.27 554.98,166.77 556.20,167.10 C557.42,167.43 559.18,168.10 560.40,168.10 C561.62,168.10 562.98,167.27 563.50,167.10 M575.90,148.40 C576.42,148.07 577.78,146.92 579.00,146.40 C580.22,145.88 581.82,145.30 583.20,145.30 C584.58,145.30 586.62,146.22 587.30,146.40 M556.20,154.70 C556.72,154.52 558.43,154.13 559.30,153.60 C560.17,153.07 561.05,151.85 561.40,151.50 M580.00,161.90 C580.18,162.77 580.57,165.72 581.10,167.10 C581.63,168.48 582.33,169.68 583.20,170.20 C584.07,170.72 585.27,170.55 586.30,170.20 C587.33,169.85 588.88,168.45 589.40,168.10 M561.40,170.20 C561.75,170.72 563.33,172.33 563.50,173.30 C563.67,174.27 562.58,175.55 562.40,176.00 M565.50,166.10 C565.85,166.62 567.07,168.17 567.60,169.20 C568.13,170.23 568.52,171.78 568.70,172.30 M596.10,150.50 C596.78,150.15 598.65,148.83 600.20,148.40 C601.75,147.97 603.85,148.07 605.40,147.90 C606.95,147.73 608.12,148.00 609.50,147.40 C610.88,146.80 612.32,145.08 613.70,144.30 C615.08,143.52 616.25,142.70 617.80,142.70 C619.35,142.70 622.13,144.03 623.00,144.30 M613.70,144.30 C613.62,145.17 613.37,147.95 613.20,149.50 C613.03,151.05 612.62,152.05 612.70,153.60 C612.78,155.15 612.85,157.42 613.70,158.80 C614.55,160.18 616.25,160.52 617.80,161.90 C619.35,163.28 621.78,165.72 623.00,167.10 C624.22,168.48 624.75,169.68 625.10,170.20 M604.40,156.70 C604.57,157.57 605.40,160.17 605.40,161.90 C605.40,163.63 604.67,165.37 604.40,167.10 C604.13,168.83 603.98,170.82 603.80,172.30 C603.62,173.78 603.38,175.38 603.30,176.00 M597.10,155.70 C597.80,155.62 600.08,155.03 601.30,155.20 C602.52,155.37 603.88,156.45 604.40,156.70 M608.50,156.70 C608.85,157.22 609.90,158.77 610.60,159.80 C611.30,160.83 612.02,161.85 612.70,162.90 C613.38,163.95 613.50,165.40 614.70,166.10 C615.90,166.80 618.33,167.10 619.90,167.10 C621.47,167.10 623.40,166.27 624.10,166.10 M619.90,148.40 C620.42,148.92 622.13,150.28 623.00,151.50 C623.87,152.72 624.23,154.83 625.10,155.70 C625.97,156.57 627.17,156.02 628.20,156.70 C629.23,157.38 630.78,159.28 631.30,159.80 M628.20,159.80 C628.37,160.67 628.85,163.27 629.20,165.00 C629.55,166.73 629.95,168.37 630.30,170.20 C630.65,172.03 631.13,175.03 631.30,176.00 M609.50,170.20 C610.37,170.37 613.13,171.20 614.70,171.20 C616.27,171.20 618.20,170.37 618.90,170.20 M555.60,193.20 C556.47,193.37 559.25,194.38 560.80,194.20 C562.35,194.02 563.35,192.70 564.90,192.10 C566.45,191.50 568.53,190.68 570.10,190.60 C571.67,190.52 573.43,191.08 574.30,191.60 C575.17,192.12 575.13,193.35 575.30,193.70 M560.80,194.70 C560.97,195.57 561.45,198.17 561.80,199.90 C562.15,201.63 561.68,203.72 562.90,205.10 C564.12,206.48 567.20,207.17 569.10,208.20 C571.00,209.23 573.10,210.43 574.30,211.30 C575.50,212.17 575.97,213.05 576.30,213.40 M553.50,176.10 C553.68,176.78 554.25,178.82 554.60,180.20 C554.95,181.58 555.60,183.02 555.60,184.40 C555.60,185.78 554.95,187.12 554.60,188.50 C554.25,189.88 554.20,191.83 553.50,192.70 C552.80,193.57 551.60,193.45 550.40,193.70 C549.20,193.95 546.98,194.12 546.30,194.20 M561.80,174.00 C561.90,174.87 562.05,177.47 562.40,179.20 C562.75,180.93 563.30,182.68 563.90,184.40 C564.50,186.12 565.65,188.65 566.00,189.50 M580.50,174.00 C580.33,175.38 579.77,179.72 579.50,182.30 C579.23,184.88 578.90,186.57 578.90,189.50 C578.90,192.43 579.23,196.78 579.50,199.90 C579.77,203.02 580.17,205.85 580.50,208.20 C580.83,210.55 581.33,213.03 581.50,214.00 M544.20,203.00 C544.90,203.35 547.37,204.23 548.40,205.10 C549.43,205.97 550.23,206.72 550.40,208.20 C550.57,209.68 549.57,213.03 549.40,214.00 M540.10,186.40 C540.78,186.75 542.82,187.80 544.20,188.50 C545.58,189.20 546.85,189.90 548.40,190.60 C549.95,191.30 552.65,192.35 553.50,192.70 M572.20,174.00 C572.03,174.52 571.55,176.07 571.20,177.10 C570.85,178.13 570.28,179.68 570.10,180.20 M613.10,192.70 C613.62,192.35 614.82,190.87 616.20,190.60 C617.58,190.33 619.85,190.58 621.40,191.10 C622.95,191.62 624.63,192.40 625.50,193.70 C626.37,195.00 626.93,197.17 626.60,198.90 C626.27,200.63 624.88,202.90 623.50,204.10 C622.12,205.30 620.03,205.42 618.30,206.10 C616.57,206.78 614.32,208.72 613.10,208.20 C611.88,207.68 611.17,204.90 611.00,203.00 C610.83,201.10 611.75,198.52 612.10,196.80 C612.45,195.08 612.93,193.38 613.10,192.70 M606.90,174.00 C607.07,175.38 607.65,179.72 607.90,182.30 C608.15,184.88 608.23,186.57 608.40,189.50 C608.57,192.43 608.55,196.78 608.90,199.90 C609.25,203.02 609.80,205.85 610.50,208.20 C611.20,210.55 612.67,213.03 613.10,214.00 M617.20,174.00 C617.72,174.52 618.92,176.42 620.30,177.10 C621.68,177.78 624.63,177.93 625.50,178.10 M586.10,184.40 C586.63,185.25 588.95,187.43 589.30,189.50 C589.65,191.57 588.38,195.58 588.20,196.80 M597.50,185.40 C598.20,185.57 601.35,185.18 601.70,186.40 C602.05,187.62 600.12,190.97 599.60,192.70 C599.08,194.43 598.77,196.12 598.60,196.80 M596.50,203.00 C597.37,203.35 600.83,204.75 601.70,205.10 M620.00,158.30 C621.03,158.65 624.47,158.68 626.20,160.40 C627.93,162.12 629.53,165.50 630.40,168.60 C631.27,171.70 631.07,175.55 631.40,179.00 C631.73,182.45 632.23,187.58 632.40,189.30 M632.40,189.30 C633.43,189.65 636.87,190.53 638.60,191.40 C640.33,192.27 642.10,193.98 642.80,194.50 M626.20,203.80 C627.23,203.63 629.98,202.45 632.40,202.80 C634.82,203.15 638.28,205.03 640.70,205.90 C643.12,206.77 645.87,207.65 646.90,208.00 M628.30,216.30 C629.33,216.63 632.08,218.65 634.50,218.30 C636.92,217.95 640.38,215.23 642.80,214.20 C645.22,213.17 647.97,212.45 649.00,212.10 M634.50,176.90 C635.18,177.60 637.57,179.37 638.60,181.10 C639.63,182.83 640.35,186.27 640.70,187.30 M551.50,212.00 C551.85,212.68 552.73,214.88 553.60,216.10 C554.47,217.32 555.32,218.43 556.70,219.30 C558.08,220.17 560.33,220.62 561.90,221.30 C563.47,221.98 564.72,222.70 566.10,223.40 C567.48,224.10 568.65,224.98 570.20,225.50 C571.75,226.02 573.50,226.50 575.40,226.50 C577.30,226.50 580.57,225.67 581.60,225.50 M542.20,226.50 C542.90,226.33 545.02,225.50 546.40,225.50 C547.78,225.50 549.30,225.63 550.50,226.50 C551.70,227.37 552.73,229.32 553.60,230.70 C554.47,232.08 554.67,233.43 555.70,234.80 C556.73,236.17 558.25,238.03 559.80,238.90 C561.35,239.77 563.27,240.17 565.00,240.00 C566.73,239.83 568.47,237.90 570.20,237.90 C571.93,237.90 573.50,239.13 575.40,240.00 C577.30,240.87 580.57,242.58 581.60,243.10 M560.90,232.70 C561.23,231.83 561.87,228.70 562.90,227.50 C563.93,226.30 566.40,225.83 567.10,225.50 M542.20,215.10 C542.38,216.32 543.30,220.50 543.30,222.40 C543.30,224.30 542.38,225.82 542.20,226.50 M545.30,237.90 C545.82,238.42 547.37,239.78 548.40,241.00 C549.43,242.22 550.63,243.65 551.50,245.20 C552.37,246.75 553.25,249.45 553.60,250.30 M558.80,241.00 C558.97,241.70 559.45,243.82 559.80,245.20 C560.15,246.58 560.72,248.62 560.90,249.30 M565.00,218.00 C565.25,218.33 566.17,219.33 566.50,220.00 C566.83,220.67 566.92,221.67 567.00,222.00 M578.50,212.00 C578.33,212.52 577.67,214.58 577.50,215.10 M595.50,228.60 C596.37,228.42 598.80,227.85 600.70,227.50 C602.60,227.15 604.82,227.02 606.90,226.50 C608.98,225.98 611.30,224.57 613.20,224.40 C615.10,224.23 616.75,225.67 618.30,225.50 C619.85,225.33 621.22,224.10 622.50,223.40 C623.78,222.70 625.42,221.65 626.00,221.30 M580.00,232.70 C580.68,233.05 582.72,234.10 584.10,234.80 C585.48,235.50 586.92,236.38 588.30,236.90 C589.68,237.42 591.72,237.73 592.40,237.90 M603.80,242.10 C604.50,242.10 606.62,242.28 608.00,242.10 C609.38,241.92 610.55,241.35 612.10,241.00 C613.65,240.65 615.73,240.00 617.30,240.00 C618.87,240.00 620.05,241.00 621.50,241.00 C622.95,241.00 625.25,240.17 626.00,240.00 M616.30,225.50 C616.47,226.37 616.78,229.15 617.30,230.70 C617.82,232.25 618.88,233.43 619.40,234.80 C619.92,236.17 620.23,238.22 620.40,238.90 M600.70,241.00 C601.05,241.35 602.62,242.07 602.80,243.10 C602.98,244.13 602.48,246.33 601.80,247.20 C601.12,248.07 599.22,248.12 598.70,248.30 M586.20,242.10 C586.38,242.62 587.30,244.17 587.30,245.20 C587.30,246.23 586.38,247.78 586.20,248.30 M580.00,246.20 C580.52,246.37 581.88,246.33 583.10,247.20 C584.32,248.07 586.60,250.70 587.30,251.40 M593.50,215.10 C594.02,215.10 595.57,214.93 596.60,215.10 C597.63,215.27 599.18,215.93 599.70,216.10 M580.00,214.10 C581.03,214.27 584.47,215.28 586.20,215.10 C587.93,214.92 589.70,213.35 590.40,213.00 M608.00,224.40 C607.82,223.72 606.90,221.68 606.90,220.30 C606.90,218.92 607.82,216.80 608.00,216.10 M616.00,240.30 C617.17,240.30 620.65,240.58 623.00,240.30 C625.35,240.02 627.75,239.48 630.10,238.60 C632.45,237.72 634.75,236.18 637.10,235.00 C639.45,233.82 643.02,232.08 644.20,231.50 M624.80,245.60 C625.10,247.07 626.60,251.47 626.60,254.40 C626.60,257.33 624.80,260.55 624.80,263.20 C624.80,265.85 626.30,269.12 626.60,270.30 M630.10,259.70 C631.27,259.12 634.75,257.67 637.10,256.20 C639.45,254.73 642.43,252.95 644.20,250.90 C645.97,248.85 647.12,245.07 647.70,243.90 M616.00,268.50 C617.17,268.80 620.35,270.58 623.00,270.30 C625.65,270.02 629.25,267.98 631.90,266.80 C634.55,265.62 636.70,264.67 638.90,263.20 C641.10,261.73 644.07,258.87 645.10,258.00 M619.50,277.30 C620.68,277.02 624.25,276.47 626.60,275.60 C628.95,274.73 631.25,273.13 633.60,272.10 C635.95,271.07 639.52,269.85 640.70,269.40 M637.10,242.10 C637.70,242.98 639.82,245.63 640.70,247.40 C641.58,249.17 642.12,251.82 642.40,252.70 M616.00,258.00 C616.88,258.28 619.83,258.83 621.30,259.70 C622.77,260.57 624.22,262.62 624.80,263.20 M559.70,248.00 C560.12,248.83 561.38,251.75 562.20,253.00 C563.02,254.25 563.98,254.25 564.60,255.50 C565.22,256.75 565.90,258.85 565.90,260.50 C565.90,262.15 565.02,263.75 564.60,265.40 C564.18,267.05 563.60,269.57 563.40,270.40 M543.50,255.50 C544.33,255.92 546.63,256.97 548.50,258.00 C550.37,259.03 552.63,260.67 554.70,261.70 C556.77,262.73 559.25,263.58 560.90,264.20 C562.55,264.82 563.98,265.20 564.60,265.40 M548.50,267.90 C549.53,267.90 552.83,267.68 554.70,267.90 C556.57,268.12 558.05,268.78 559.70,269.20 C561.35,269.62 562.73,269.78 564.60,270.40 C566.47,271.02 568.82,272.27 570.90,272.90 C572.98,273.53 575.03,274.20 577.10,274.20 C579.17,274.20 582.27,273.12 583.30,272.90 M572.10,262.90 C572.32,263.53 572.57,265.65 573.40,266.70 C574.23,267.75 575.45,268.58 577.10,269.20 C578.75,269.82 581.23,269.98 583.30,270.40 C585.37,270.82 588.47,271.48 589.50,271.70 M554.70,275.40 C555.53,275.60 557.83,275.98 559.70,276.60 C561.57,277.22 563.62,278.05 565.90,279.10 C568.18,280.15 571.12,281.85 573.40,282.90 C575.68,283.95 577.53,284.78 579.60,285.40 C581.67,286.02 583.93,286.82 585.80,286.60 C587.67,286.38 589.97,284.52 590.80,284.10 M577.10,253.00 C577.52,253.62 578.77,255.25 579.60,256.70 C580.43,258.15 581.27,260.67 582.10,261.70 C582.93,262.73 584.18,262.70 584.60,262.90 M583.30,248.00 C584.13,248.83 587.05,251.75 588.30,253.00 C589.55,254.25 590.38,255.08 590.80,255.50 M567.10,251.70 C567.93,251.50 570.43,250.28 572.10,250.50 C573.77,250.72 576.27,252.58 577.10,253.00 M588.30,275.40 C588.72,275.82 589.77,277.28 590.80,277.90 C591.83,278.52 593.88,278.90 594.50,279.10 M597.50,260.40 C598.32,260.20 600.75,259.62 602.40,259.20 C604.05,258.78 605.73,258.32 607.40,257.90 C609.07,257.48 610.53,257.10 612.40,256.70 C614.27,256.30 616.75,256.12 618.60,255.50 C620.45,254.88 622.05,253.83 623.50,253.00 C624.95,252.17 626.67,250.92 627.30,250.50 M623.50,253.00 C623.72,254.03 624.38,257.13 624.80,259.20 C625.22,261.27 625.58,263.53 626.00,265.40 C626.42,267.27 627.08,269.57 627.30,270.40 M602.40,274.10 C603.43,273.88 606.53,273.42 608.60,272.80 C610.67,272.18 613.35,271.43 614.80,270.40 C616.25,269.37 617.08,267.85 617.30,266.60 C617.52,265.35 616.30,263.52 616.10,262.90 M596.20,280.30 C597.23,280.50 600.33,281.70 602.40,281.50 C604.47,281.30 606.53,279.92 608.60,279.10 C610.67,278.28 612.72,277.65 614.80,276.60 C616.88,275.55 619.23,273.83 621.10,272.80 C622.97,271.77 625.18,270.80 626.00,270.40 M602.40,286.50 C603.43,286.30 606.53,285.72 608.60,285.30 C610.67,284.88 612.72,284.63 614.80,284.00 C616.88,283.37 620.05,281.92 621.10,281.50 M604.90,248.00 C605.32,248.62 606.57,250.45 607.40,251.70 C608.23,252.95 609.48,254.87 609.90,255.50 M554.00,174.00 C555.00,173.75 557.78,172.85 560.00,172.50 C562.22,172.15 565.30,171.57 567.30,171.90 C569.30,172.23 570.55,173.40 572.00,174.50 C573.45,175.60 575.33,177.83 576.00,178.50 M545.20,191.70 C546.17,192.17 548.78,193.77 551.00,194.50 C553.22,195.23 557.25,195.83 558.50,196.10 M543.00,218.10 C543.83,218.50 546.17,219.77 548.00,220.50 C549.83,221.23 553.00,222.17 554.00,222.50 M549.60,240.10 C550.67,239.78 553.78,238.57 556.00,238.20 C558.22,237.83 561.75,237.95 562.90,237.90 M611.30,174.00 C612.42,173.75 615.80,172.85 618.00,172.50 C620.20,172.15 622.33,171.57 624.50,171.90 C626.67,172.23 628.78,173.40 631.00,174.50 C633.22,175.60 636.67,177.83 637.80,178.50 M620.10,218.10 C621.08,218.55 623.80,220.07 626.00,220.80 C628.20,221.53 630.97,222.55 633.30,222.50 C635.63,222.45 637.78,221.23 640.00,220.50 C642.22,219.77 645.50,218.50 646.60,218.10 M611.30,240.10 C612.25,240.50 614.80,241.77 617.00,242.50 C619.20,243.23 623.25,244.17 624.50,244.50 M546.00,150.00 C546.67,150.50 549.00,151.67 550.00,153.00 C551.00,154.33 551.67,157.17 552.00,158.00 M588.00,150.00 C588.17,151.00 589.08,154.00 589.00,156.00 C588.92,158.00 587.75,161.00 587.50,162.00 M599.00,150.00 C599.33,151.00 600.83,154.00 601.00,156.00 C601.17,158.00 600.17,161.00 600.00,162.00 M636.00,150.00 C636.67,151.33 639.17,155.33 640.00,158.00 C640.83,160.67 640.83,164.67 641.00,166.00 M636.30,208.20 C636.22,208.53 636.08,209.58 635.80,210.20 C635.52,210.82 635.08,211.42 634.60,211.90 C634.12,212.38 633.53,212.83 632.90,213.10 C632.27,213.37 631.15,213.43 630.80,213.50 M565.30,198.20 C565.48,198.23 566.05,198.27 566.40,198.40 C566.75,198.53 567.12,198.77 567.40,199.00 C567.68,199.23 567.90,199.50 568.10,199.80 C568.30,200.10 568.52,200.63 568.60,200.80 M612.30,185.80 C612.67,185.60 613.72,184.77 614.50,184.60 C615.28,184.43 616.23,184.55 617.00,184.80 C617.77,185.05 618.57,185.52 619.10,186.10 C619.63,186.68 620.02,187.93 620.20,188.30 M561.90,213.40 C561.60,213.40 560.67,213.50 560.10,213.40 C559.53,213.30 558.98,213.08 558.50,212.80 C558.02,212.52 557.57,212.15 557.20,211.70 C556.83,211.25 556.45,210.37 556.30,210.10 M622.20,202.30 C621.80,202.12 620.48,201.72 619.80,201.20 C619.12,200.68 618.47,199.97 618.10,199.20 C617.73,198.43 617.55,197.45 617.60,196.60 C617.65,195.75 618.27,194.52 618.40,194.10 M629.10,229.60 C628.88,229.92 628.35,230.98 627.80,231.50 C627.25,232.02 626.50,232.42 625.80,232.70 C625.10,232.98 624.35,233.20 623.60,233.20 C622.85,233.20 621.68,232.78 621.30,232.70 M613.10,246.30 C613.08,246.52 613.10,247.17 613.00,247.60 C612.90,248.03 612.73,248.52 612.50,248.90 C612.27,249.28 611.95,249.62 611.60,249.90 C611.25,250.18 610.60,250.48 610.40,250.60 M611.00,268.60 C610.65,268.52 609.50,268.43 608.90,268.10 C608.30,267.77 607.77,267.18 607.40,266.60 C607.03,266.02 606.75,265.28 606.70,264.60 C606.65,263.92 607.03,262.85 607.10,262.50 M582.60,198.20 C582.90,198.47 583.93,199.15 584.40,199.80 C584.87,200.45 585.23,201.30 585.40,202.10 C585.57,202.90 585.57,203.82 585.40,204.60 C585.23,205.38 584.57,206.43 584.40,206.80 M646.30,236.30 C646.05,236.60 645.43,237.65 644.80,238.10 C644.17,238.55 643.28,238.90 642.50,239.00 C641.72,239.10 640.83,238.97 640.10,238.70 C639.37,238.43 638.43,237.62 638.10,237.40 M599.30,263.80 C599.43,264.00 599.92,264.57 600.10,265.00 C600.28,265.43 600.40,265.93 600.40,266.40 C600.40,266.87 600.28,267.37 600.10,267.80 C599.92,268.23 599.43,268.80 599.30,269.00 M606.30,232.40 C606.60,232.30 607.50,231.82 608.10,231.80 C608.70,231.78 609.37,232.00 609.90,232.30 C610.43,232.60 610.98,233.08 611.30,233.60 C611.62,234.12 611.72,235.10 611.80,235.40 M590.90,180.50 C590.48,180.43 589.15,180.43 588.40,180.10 C587.65,179.77 586.88,179.17 586.40,178.50 C585.92,177.83 585.60,176.92 585.50,176.10 C585.40,175.28 585.75,174.02 585.80,173.60 M590.60,202.80 C590.70,203.07 591.13,203.83 591.20,204.40 C591.27,204.97 591.20,205.65 591.00,206.20 C590.80,206.75 590.42,207.32 590.00,207.70 C589.58,208.08 588.75,208.37 588.50,208.50 M555.30,199.10 C555.40,199.38 555.80,200.23 555.90,200.80 C556.00,201.37 556.00,201.95 555.90,202.50 C555.80,203.05 555.58,203.60 555.30,204.10 C555.02,204.60 554.38,205.27 554.20,205.50 M586.90,224.30 C587.17,224.47 588.03,224.88 588.50,225.30 C588.97,225.72 589.42,226.25 589.70,226.80 C589.98,227.35 590.15,227.98 590.20,228.60 C590.25,229.22 590.03,230.18 590.00,230.50 M638.20,249.80 C637.93,249.78 637.13,249.82 636.60,249.70 C636.07,249.58 635.48,249.38 635.00,249.10 C634.52,248.82 634.05,248.42 633.70,248.00 C633.35,247.58 633.03,246.83 632.90,246.60 M547.20,235.90 C546.92,235.65 545.93,235.00 545.50,234.40 C545.07,233.80 544.72,233.02 544.60,232.30 C544.48,231.58 544.55,230.78 544.80,230.10 C545.05,229.42 545.88,228.52 546.10,228.20 M642.60,197.70 C642.65,197.93 642.90,198.63 642.90,199.10 C642.90,199.57 642.80,200.07 642.60,200.50 C642.40,200.93 642.05,201.37 641.70,201.70 C641.35,202.03 640.70,202.37 640.50,202.50 M634.40,194.70 C634.62,194.92 635.35,195.50 635.70,196.00 C636.05,196.50 636.33,197.10 636.50,197.70 C636.67,198.30 636.75,198.98 636.70,199.60 C636.65,200.22 636.28,201.10 636.20,201.40 M627.40,214.40 C627.10,214.30 626.15,214.10 625.60,213.80 C625.05,213.50 624.52,213.07 624.10,212.60 C623.68,212.13 623.32,211.58 623.10,211.00 C622.88,210.42 622.85,209.42 622.80,209.10 M605.50,213.70 C605.33,213.48 604.73,212.87 604.50,212.40 C604.27,211.93 604.13,211.40 604.10,210.90 C604.07,210.40 604.13,209.88 604.30,209.40 C604.47,208.92 604.97,208.23 605.10,208.00 M631.50,169.10 C631.92,169.00 633.18,168.45 634.00,168.50 C634.82,168.55 635.73,168.93 636.40,169.40 C637.07,169.87 637.67,170.57 638.00,171.30 C638.33,172.03 638.33,173.38 638.40,173.80 M548.30,251.60 C548.07,251.32 547.23,250.53 546.90,249.90 C546.57,249.27 546.37,248.50 546.30,247.80 C546.23,247.10 546.28,246.37 546.50,245.70 C546.72,245.03 547.42,244.12 547.60,243.80" fill="none" stroke="#1a0000" stroke-opacity="0.15" stroke-width="2.4" stroke-linecap="round" filter="url(#sb)"/>
<path d="M572.30,144.80 C572.55,145.40 573.45,146.93 573.80,148.40 C574.15,149.87 574.48,151.70 574.40,153.60 C574.32,155.50 573.83,157.72 573.30,159.80 C572.77,161.88 571.72,164.37 571.20,166.10 C570.68,167.83 570.28,168.55 570.20,170.20 C570.12,171.85 570.62,175.03 570.70,176.00 M581.10,151.50 C581.62,151.77 583.42,151.72 584.20,153.10 C584.98,154.48 585.80,157.63 585.80,159.80 C585.80,161.97 584.82,164.53 584.20,166.10 C583.58,167.67 582.45,168.68 582.10,169.20 M560.40,150.50 C560.92,150.67 562.65,150.98 563.50,151.50 C564.35,152.02 565.17,152.73 565.50,153.60 C565.83,154.47 566.02,155.83 565.50,156.70 C564.98,157.57 563.43,158.62 562.40,158.80 C561.37,158.98 559.98,158.32 559.30,157.80 C558.62,157.28 558.47,156.05 558.30,155.70 M560.40,160.90 C561.08,161.07 563.30,161.38 564.50,161.90 C565.70,162.42 566.57,163.13 567.60,164.00 C568.63,164.87 569.48,166.58 570.70,167.10 C571.92,167.62 573.52,167.27 574.90,167.10 C576.28,166.93 578.32,166.27 579.00,166.10 M553.10,166.10 C553.62,166.27 554.98,166.77 556.20,167.10 C557.42,167.43 559.18,168.10 560.40,168.10 C561.62,168.10 562.98,167.27 563.50,167.10 M575.90,148.40 C576.42,148.07 577.78,146.92 579.00,146.40 C580.22,145.88 581.82,145.30 583.20,145.30 C584.58,145.30 586.62,146.22 587.30,146.40 M556.20,154.70 C556.72,154.52 558.43,154.13 559.30,153.60 C560.17,153.07 561.05,151.85 561.40,151.50 M580.00,161.90 C580.18,162.77 580.57,165.72 581.10,167.10 C581.63,168.48 582.33,169.68 583.20,170.20 C584.07,170.72 585.27,170.55 586.30,170.20 C587.33,169.85 588.88,168.45 589.40,168.10 M561.40,170.20 C561.75,170.72 563.33,172.33 563.50,173.30 C563.67,174.27 562.58,175.55 562.40,176.00 M565.50,166.10 C565.85,166.62 567.07,168.17 567.60,169.20 C568.13,170.23 568.52,171.78 568.70,172.30 M596.10,150.50 C596.78,150.15 598.65,148.83 600.20,148.40 C601.75,147.97 603.85,148.07 605.40,147.90 C606.95,147.73 608.12,148.00 609.50,147.40 C610.88,146.80 612.32,145.08 613.70,144.30 C615.08,143.52 616.25,142.70 617.80,142.70 C619.35,142.70 622.13,144.03 623.00,144.30 M613.70,144.30 C613.62,145.17 613.37,147.95 613.20,149.50 C613.03,151.05 612.62,152.05 612.70,153.60 C612.78,155.15 612.85,157.42 613.70,158.80 C614.55,160.18 616.25,160.52 617.80,161.90 C619.35,163.28 621.78,165.72 623.00,167.10 C624.22,168.48 624.75,169.68 625.10,170.20 M604.40,156.70 C604.57,157.57 605.40,160.17 605.40,161.90 C605.40,163.63 604.67,165.37 604.40,167.10 C604.13,168.83 603.98,170.82 603.80,172.30 C603.62,173.78 603.38,175.38 603.30,176.00 M597.10,155.70 C597.80,155.62 600.08,155.03 601.30,155.20 C602.52,155.37 603.88,156.45 604.40,156.70 M608.50,156.70 C608.85,157.22 609.90,158.77 610.60,159.80 C611.30,160.83 612.02,161.85 612.70,162.90 C613.38,163.95 613.50,165.40 614.70,166.10 C615.90,166.80 618.33,167.10 619.90,167.10 C621.47,167.10 623.40,166.27 624.10,166.10 M619.90,148.40 C620.42,148.92 622.13,150.28 623.00,151.50 C623.87,152.72 624.23,154.83 625.10,155.70 C625.97,156.57 627.17,156.02 628.20,156.70 C629.23,157.38 630.78,159.28 631.30,159.80 M628.20,159.80 C628.37,160.67 628.85,163.27 629.20,165.00 C629.55,166.73 629.95,168.37 630.30,170.20 C630.65,172.03 631.13,175.03 631.30,176.00 M609.50,170.20 C610.37,170.37 613.13,171.20 614.70,171.20 C616.27,171.20 618.20,170.37 618.90,170.20 M555.60,193.20 C556.47,193.37 559.25,194.38 560.80,194.20 C562.35,194.02 563.35,192.70 564.90,192.10 C566.45,191.50 568.53,190.68 570.10,190.60 C571.67,190.52 573.43,191.08 574.30,191.60 C575.17,192.12 575.13,193.35 575.30,193.70 M560.80,194.70 C560.97,195.57 561.45,198.17 561.80,199.90 C562.15,201.63 561.68,203.72 562.90,205.10 C564.12,206.48 567.20,207.17 569.10,208.20 C571.00,209.23 573.10,210.43 574.30,211.30 C575.50,212.17 575.97,213.05 576.30,213.40 M553.50,176.10 C553.68,176.78 554.25,178.82 554.60,180.20 C554.95,181.58 555.60,183.02 555.60,184.40 C555.60,185.78 554.95,187.12 554.60,188.50 C554.25,189.88 554.20,191.83 553.50,192.70 C552.80,193.57 551.60,193.45 550.40,193.70 C549.20,193.95 546.98,194.12 546.30,194.20 M561.80,174.00 C561.90,174.87 562.05,177.47 562.40,179.20 C562.75,180.93 563.30,182.68 563.90,184.40 C564.50,186.12 565.65,188.65 566.00,189.50 M580.50,174.00 C580.33,175.38 579.77,179.72 579.50,182.30 C579.23,184.88 578.90,186.57 578.90,189.50 C578.90,192.43 579.23,196.78 579.50,199.90 C579.77,203.02 580.17,205.85 580.50,208.20 C580.83,210.55 581.33,213.03 581.50,214.00 M544.20,203.00 C544.90,203.35 547.37,204.23 548.40,205.10 C549.43,205.97 550.23,206.72 550.40,208.20 C550.57,209.68 549.57,213.03 549.40,214.00 M540.10,186.40 C540.78,186.75 542.82,187.80 544.20,188.50 C545.58,189.20 546.85,189.90 548.40,190.60 C549.95,191.30 552.65,192.35 553.50,192.70 M572.20,174.00 C572.03,174.52 571.55,176.07 571.20,177.10 C570.85,178.13 570.28,179.68 570.10,180.20 M613.10,192.70 C613.62,192.35 614.82,190.87 616.20,190.60 C617.58,190.33 619.85,190.58 621.40,191.10 C622.95,191.62 624.63,192.40 625.50,193.70 C626.37,195.00 626.93,197.17 626.60,198.90 C626.27,200.63 624.88,202.90 623.50,204.10 C622.12,205.30 620.03,205.42 618.30,206.10 C616.57,206.78 614.32,208.72 613.10,208.20 C611.88,207.68 611.17,204.90 611.00,203.00 C610.83,201.10 611.75,198.52 612.10,196.80 C612.45,195.08 612.93,193.38 613.10,192.70 M606.90,174.00 C607.07,175.38 607.65,179.72 607.90,182.30 C608.15,184.88 608.23,186.57 608.40,189.50 C608.57,192.43 608.55,196.78 608.90,199.90 C609.25,203.02 609.80,205.85 610.50,208.20 C611.20,210.55 612.67,213.03 613.10,214.00 M617.20,174.00 C617.72,174.52 618.92,176.42 620.30,177.10 C621.68,177.78 624.63,177.93 625.50,178.10 M586.10,184.40 C586.63,185.25 588.95,187.43 589.30,189.50 C589.65,191.57 588.38,195.58 588.20,196.80 M597.50,185.40 C598.20,185.57 601.35,185.18 601.70,186.40 C602.05,187.62 600.12,190.97 599.60,192.70 C599.08,194.43 598.77,196.12 598.60,196.80 M596.50,203.00 C597.37,203.35 600.83,204.75 601.70,205.10 M620.00,158.30 C621.03,158.65 624.47,158.68 626.20,160.40 C627.93,162.12 629.53,165.50 630.40,168.60 C631.27,171.70 631.07,175.55 631.40,179.00 C631.73,182.45 632.23,187.58 632.40,189.30 M632.40,189.30 C633.43,189.65 636.87,190.53 638.60,191.40 C640.33,192.27 642.10,193.98 642.80,194.50 M626.20,203.80 C627.23,203.63 629.98,202.45 632.40,202.80 C634.82,203.15 638.28,205.03 640.70,205.90 C643.12,206.77 645.87,207.65 646.90,208.00 M628.30,216.30 C629.33,216.63 632.08,218.65 634.50,218.30 C636.92,217.95 640.38,215.23 642.80,214.20 C645.22,213.17 647.97,212.45 649.00,212.10 M634.50,176.90 C635.18,177.60 637.57,179.37 638.60,181.10 C639.63,182.83 640.35,186.27 640.70,187.30 M551.50,212.00 C551.85,212.68 552.73,214.88 553.60,216.10 C554.47,217.32 555.32,218.43 556.70,219.30 C558.08,220.17 560.33,220.62 561.90,221.30 C563.47,221.98 564.72,222.70 566.10,223.40 C567.48,224.10 568.65,224.98 570.20,225.50 C571.75,226.02 573.50,226.50 575.40,226.50 C577.30,226.50 580.57,225.67 581.60,225.50 M542.20,226.50 C542.90,226.33 545.02,225.50 546.40,225.50 C547.78,225.50 549.30,225.63 550.50,226.50 C551.70,227.37 552.73,229.32 553.60,230.70 C554.47,232.08 554.67,233.43 555.70,234.80 C556.73,236.17 558.25,238.03 559.80,238.90 C561.35,239.77 563.27,240.17 565.00,240.00 C566.73,239.83 568.47,237.90 570.20,237.90 C571.93,237.90 573.50,239.13 575.40,240.00 C577.30,240.87 580.57,242.58 581.60,243.10 M560.90,232.70 C561.23,231.83 561.87,228.70 562.90,227.50 C563.93,226.30 566.40,225.83 567.10,225.50 M542.20,215.10 C542.38,216.32 543.30,220.50 543.30,222.40 C543.30,224.30 542.38,225.82 542.20,226.50 M545.30,237.90 C545.82,238.42 547.37,239.78 548.40,241.00 C549.43,242.22 550.63,243.65 551.50,245.20 C552.37,246.75 553.25,249.45 553.60,250.30 M558.80,241.00 C558.97,241.70 559.45,243.82 559.80,245.20 C560.15,246.58 560.72,248.62 560.90,249.30 M565.00,218.00 C565.25,218.33 566.17,219.33 566.50,220.00 C566.83,220.67 566.92,221.67 567.00,222.00 M578.50,212.00 C578.33,212.52 577.67,214.58 577.50,215.10 M595.50,228.60 C596.37,228.42 598.80,227.85 600.70,227.50 C602.60,227.15 604.82,227.02 606.90,226.50 C608.98,225.98 611.30,224.57 613.20,224.40 C615.10,224.23 616.75,225.67 618.30,225.50 C619.85,225.33 621.22,224.10 622.50,223.40 C623.78,222.70 625.42,221.65 626.00,221.30 M580.00,232.70 C580.68,233.05 582.72,234.10 584.10,234.80 C585.48,235.50 586.92,236.38 588.30,236.90 C589.68,237.42 591.72,237.73 592.40,237.90 M603.80,242.10 C604.50,242.10 606.62,242.28 608.00,242.10 C609.38,241.92 610.55,241.35 612.10,241.00 C613.65,240.65 615.73,240.00 617.30,240.00 C618.87,240.00 620.05,241.00 621.50,241.00 C622.95,241.00 625.25,240.17 626.00,240.00 M616.30,225.50 C616.47,226.37 616.78,229.15 617.30,230.70 C617.82,232.25 618.88,233.43 619.40,234.80 C619.92,236.17 620.23,238.22 620.40,238.90 M600.70,241.00 C601.05,241.35 602.62,242.07 602.80,243.10 C602.98,244.13 602.48,246.33 601.80,247.20 C601.12,248.07 599.22,248.12 598.70,248.30 M586.20,242.10 C586.38,242.62 587.30,244.17 587.30,245.20 C587.30,246.23 586.38,247.78 586.20,248.30 M580.00,246.20 C580.52,246.37 581.88,246.33 583.10,247.20 C584.32,248.07 586.60,250.70 587.30,251.40 M593.50,215.10 C594.02,215.10 595.57,214.93 596.60,215.10 C597.63,215.27 599.18,215.93 599.70,216.10 M580.00,214.10 C581.03,214.27 584.47,215.28 586.20,215.10 C587.93,214.92 589.70,213.35 590.40,213.00 M608.00,224.40 C607.82,223.72 606.90,221.68 606.90,220.30 C606.90,218.92 607.82,216.80 608.00,216.10 M616.00,240.30 C617.17,240.30 620.65,240.58 623.00,240.30 C625.35,240.02 627.75,239.48 630.10,238.60 C632.45,237.72 634.75,236.18 637.10,235.00 C639.45,233.82 643.02,232.08 644.20,231.50 M624.80,245.60 C625.10,247.07 626.60,251.47 626.60,254.40 C626.60,257.33 624.80,260.55 624.80,263.20 C624.80,265.85 626.30,269.12 626.60,270.30 M630.10,259.70 C631.27,259.12 634.75,257.67 637.10,256.20 C639.45,254.73 642.43,252.95 644.20,250.90 C645.97,248.85 647.12,245.07 647.70,243.90 M616.00,268.50 C617.17,268.80 620.35,270.58 623.00,270.30 C625.65,270.02 629.25,267.98 631.90,266.80 C634.55,265.62 636.70,264.67 638.90,263.20 C641.10,261.73 644.07,258.87 645.10,258.00 M619.50,277.30 C620.68,277.02 624.25,276.47 626.60,275.60 C628.95,274.73 631.25,273.13 633.60,272.10 C635.95,271.07 639.52,269.85 640.70,269.40 M637.10,242.10 C637.70,242.98 639.82,245.63 640.70,247.40 C641.58,249.17 642.12,251.82 642.40,252.70 M616.00,258.00 C616.88,258.28 619.83,258.83 621.30,259.70 C622.77,260.57 624.22,262.62 624.80,263.20 M559.70,248.00 C560.12,248.83 561.38,251.75 562.20,253.00 C563.02,254.25 563.98,254.25 564.60,255.50 C565.22,256.75 565.90,258.85 565.90,260.50 C565.90,262.15 565.02,263.75 564.60,265.40 C564.18,267.05 563.60,269.57 563.40,270.40 M543.50,255.50 C544.33,255.92 546.63,256.97 548.50,258.00 C550.37,259.03 552.63,260.67 554.70,261.70 C556.77,262.73 559.25,263.58 560.90,264.20 C562.55,264.82 563.98,265.20 564.60,265.40 M548.50,267.90 C549.53,267.90 552.83,267.68 554.70,267.90 C556.57,268.12 558.05,268.78 559.70,269.20 C561.35,269.62 562.73,269.78 564.60,270.40 C566.47,271.02 568.82,272.27 570.90,272.90 C572.98,273.53 575.03,274.20 577.10,274.20 C579.17,274.20 582.27,273.12 583.30,272.90 M572.10,262.90 C572.32,263.53 572.57,265.65 573.40,266.70 C574.23,267.75 575.45,268.58 577.10,269.20 C578.75,269.82 581.23,269.98 583.30,270.40 C585.37,270.82 588.47,271.48 589.50,271.70 M554.70,275.40 C555.53,275.60 557.83,275.98 559.70,276.60 C561.57,277.22 563.62,278.05 565.90,279.10 C568.18,280.15 571.12,281.85 573.40,282.90 C575.68,283.95 577.53,284.78 579.60,285.40 C581.67,286.02 583.93,286.82 585.80,286.60 C587.67,286.38 589.97,284.52 590.80,284.10 M577.10,253.00 C577.52,253.62 578.77,255.25 579.60,256.70 C580.43,258.15 581.27,260.67 582.10,261.70 C582.93,262.73 584.18,262.70 584.60,262.90 M583.30,248.00 C584.13,248.83 587.05,251.75 588.30,253.00 C589.55,254.25 590.38,255.08 590.80,255.50 M567.10,251.70 C567.93,251.50 570.43,250.28 572.10,250.50 C573.77,250.72 576.27,252.58 577.10,253.00 M588.30,275.40 C588.72,275.82 589.77,277.28 590.80,277.90 C591.83,278.52 593.88,278.90 594.50,279.10 M597.50,260.40 C598.32,260.20 600.75,259.62 602.40,259.20 C604.05,258.78 605.73,258.32 607.40,257.90 C609.07,257.48 610.53,257.10 612.40,256.70 C614.27,256.30 616.75,256.12 618.60,255.50 C620.45,254.88 622.05,253.83 623.50,253.00 C624.95,252.17 626.67,250.92 627.30,250.50 M623.50,253.00 C623.72,254.03 624.38,257.13 624.80,259.20 C625.22,261.27 625.58,263.53 626.00,265.40 C626.42,267.27 627.08,269.57 627.30,270.40 M602.40,274.10 C603.43,273.88 606.53,273.42 608.60,272.80 C610.67,272.18 613.35,271.43 614.80,270.40 C616.25,269.37 617.08,267.85 617.30,266.60 C617.52,265.35 616.30,263.52 616.10,262.90 M596.20,280.30 C597.23,280.50 600.33,281.70 602.40,281.50 C604.47,281.30 606.53,279.92 608.60,279.10 C610.67,278.28 612.72,277.65 614.80,276.60 C616.88,275.55 619.23,273.83 621.10,272.80 C622.97,271.77 625.18,270.80 626.00,270.40 M602.40,286.50 C603.43,286.30 606.53,285.72 608.60,285.30 C610.67,284.88 612.72,284.63 614.80,284.00 C616.88,283.37 620.05,281.92 621.10,281.50 M604.90,248.00 C605.32,248.62 606.57,250.45 607.40,251.70 C608.23,252.95 609.48,254.87 609.90,255.50 M554.00,174.00 C555.00,173.75 557.78,172.85 560.00,172.50 C562.22,172.15 565.30,171.57 567.30,171.90 C569.30,172.23 570.55,173.40 572.00,174.50 C573.45,175.60 575.33,177.83 576.00,178.50 M545.20,191.70 C546.17,192.17 548.78,193.77 551.00,194.50 C553.22,195.23 557.25,195.83 558.50,196.10 M543.00,218.10 C543.83,218.50 546.17,219.77 548.00,220.50 C549.83,221.23 553.00,222.17 554.00,222.50 M549.60,240.10 C550.67,239.78 553.78,238.57 556.00,238.20 C558.22,237.83 561.75,237.95 562.90,237.90 M611.30,174.00 C612.42,173.75 615.80,172.85 618.00,172.50 C620.20,172.15 622.33,171.57 624.50,171.90 C626.67,172.23 628.78,173.40 631.00,174.50 C633.22,175.60 636.67,177.83 637.80,178.50 M620.10,218.10 C621.08,218.55 623.80,220.07 626.00,220.80 C628.20,221.53 630.97,222.55 633.30,222.50 C635.63,222.45 637.78,221.23 640.00,220.50 C642.22,219.77 645.50,218.50 646.60,218.10 M611.30,240.10 C612.25,240.50 614.80,241.77 617.00,242.50 C619.20,243.23 623.25,244.17 624.50,244.50 M546.00,150.00 C546.67,150.50 549.00,151.67 550.00,153.00 C551.00,154.33 551.67,157.17 552.00,158.00 M588.00,150.00 C588.17,151.00 589.08,154.00 589.00,156.00 C588.92,158.00 587.75,161.00 587.50,162.00 M599.00,150.00 C599.33,151.00 600.83,154.00 601.00,156.00 C601.17,158.00 600.17,161.00 600.00,162.00 M636.00,150.00 C636.67,151.33 639.17,155.33 640.00,158.00 C640.83,160.67 640.83,164.67 641.00,166.00 M636.30,208.20 C636.22,208.53 636.08,209.58 635.80,210.20 C635.52,210.82 635.08,211.42 634.60,211.90 C634.12,212.38 633.53,212.83 632.90,213.10 C632.27,213.37 631.15,213.43 630.80,213.50 M565.30,198.20 C565.48,198.23 566.05,198.27 566.40,198.40 C566.75,198.53 567.12,198.77 567.40,199.00 C567.68,199.23 567.90,199.50 568.10,199.80 C568.30,200.10 568.52,200.63 568.60,200.80 M612.30,185.80 C612.67,185.60 613.72,184.77 614.50,184.60 C615.28,184.43 616.23,184.55 617.00,184.80 C617.77,185.05 618.57,185.52 619.10,186.10 C619.63,186.68 620.02,187.93 620.20,188.30 M561.90,213.40 C561.60,213.40 560.67,213.50 560.10,213.40 C559.53,213.30 558.98,213.08 558.50,212.80 C558.02,212.52 557.57,212.15 557.20,211.70 C556.83,211.25 556.45,210.37 556.30,210.10 M622.20,202.30 C621.80,202.12 620.48,201.72 619.80,201.20 C619.12,200.68 618.47,199.97 618.10,199.20 C617.73,198.43 617.55,197.45 617.60,196.60 C617.65,195.75 618.27,194.52 618.40,194.10 M629.10,229.60 C628.88,229.92 628.35,230.98 627.80,231.50 C627.25,232.02 626.50,232.42 625.80,232.70 C625.10,232.98 624.35,233.20 623.60,233.20 C622.85,233.20 621.68,232.78 621.30,232.70 M613.10,246.30 C613.08,246.52 613.10,247.17 613.00,247.60 C612.90,248.03 612.73,248.52 612.50,248.90 C612.27,249.28 611.95,249.62 611.60,249.90 C611.25,250.18 610.60,250.48 610.40,250.60 M611.00,268.60 C610.65,268.52 609.50,268.43 608.90,268.10 C608.30,267.77 607.77,267.18 607.40,266.60 C607.03,266.02 606.75,265.28 606.70,264.60 C606.65,263.92 607.03,262.85 607.10,262.50 M582.60,198.20 C582.90,198.47 583.93,199.15 584.40,199.80 C584.87,200.45 585.23,201.30 585.40,202.10 C585.57,202.90 585.57,203.82 585.40,204.60 C585.23,205.38 584.57,206.43 584.40,206.80 M646.30,236.30 C646.05,236.60 645.43,237.65 644.80,238.10 C644.17,238.55 643.28,238.90 642.50,239.00 C641.72,239.10 640.83,238.97 640.10,238.70 C639.37,238.43 638.43,237.62 638.10,237.40 M599.30,263.80 C599.43,264.00 599.92,264.57 600.10,265.00 C600.28,265.43 600.40,265.93 600.40,266.40 C600.40,266.87 600.28,267.37 600.10,267.80 C599.92,268.23 599.43,268.80 599.30,269.00 M606.30,232.40 C606.60,232.30 607.50,231.82 608.10,231.80 C608.70,231.78 609.37,232.00 609.90,232.30 C610.43,232.60 610.98,233.08 611.30,233.60 C611.62,234.12 611.72,235.10 611.80,235.40 M590.90,180.50 C590.48,180.43 589.15,180.43 588.40,180.10 C587.65,179.77 586.88,179.17 586.40,178.50 C585.92,177.83 585.60,176.92 585.50,176.10 C585.40,175.28 585.75,174.02 585.80,173.60 M590.60,202.80 C590.70,203.07 591.13,203.83 591.20,204.40 C591.27,204.97 591.20,205.65 591.00,206.20 C590.80,206.75 590.42,207.32 590.00,207.70 C589.58,208.08 588.75,208.37 588.50,208.50 M555.30,199.10 C555.40,199.38 555.80,200.23 555.90,200.80 C556.00,201.37 556.00,201.95 555.90,202.50 C555.80,203.05 555.58,203.60 555.30,204.10 C555.02,204.60 554.38,205.27 554.20,205.50 M586.90,224.30 C587.17,224.47 588.03,224.88 588.50,225.30 C588.97,225.72 589.42,226.25 589.70,226.80 C589.98,227.35 590.15,227.98 590.20,228.60 C590.25,229.22 590.03,230.18 590.00,230.50 M638.20,249.80 C637.93,249.78 637.13,249.82 636.60,249.70 C636.07,249.58 635.48,249.38 635.00,249.10 C634.52,248.82 634.05,248.42 633.70,248.00 C633.35,247.58 633.03,246.83 632.90,246.60 M547.20,235.90 C546.92,235.65 545.93,235.00 545.50,234.40 C545.07,233.80 544.72,233.02 544.60,232.30 C544.48,231.58 544.55,230.78 544.80,230.10 C545.05,229.42 545.88,228.52 546.10,228.20 M642.60,197.70 C642.65,197.93 642.90,198.63 642.90,199.10 C642.90,199.57 642.80,200.07 642.60,200.50 C642.40,200.93 642.05,201.37 641.70,201.70 C641.35,202.03 640.70,202.37 640.50,202.50 M634.40,194.70 C634.62,194.92 635.35,195.50 635.70,196.00 C636.05,196.50 636.33,197.10 636.50,197.70 C636.67,198.30 636.75,198.98 636.70,199.60 C636.65,200.22 636.28,201.10 636.20,201.40 M627.40,214.40 C627.10,214.30 626.15,214.10 625.60,213.80 C625.05,213.50 624.52,213.07 624.10,212.60 C623.68,212.13 623.32,211.58 623.10,211.00 C622.88,210.42 622.85,209.42 622.80,209.10 M605.50,213.70 C605.33,213.48 604.73,212.87 604.50,212.40 C604.27,211.93 604.13,211.40 604.10,210.90 C604.07,210.40 604.13,209.88 604.30,209.40 C604.47,208.92 604.97,208.23 605.10,208.00 M631.50,169.10 C631.92,169.00 633.18,168.45 634.00,168.50 C634.82,168.55 635.73,168.93 636.40,169.40 C637.07,169.87 637.67,170.57 638.00,171.30 C638.33,172.03 638.33,173.38 638.40,173.80 M548.30,251.60 C548.07,251.32 547.23,250.53 546.90,249.90 C546.57,249.27 546.37,248.50 546.30,247.80 C546.23,247.10 546.28,246.37 546.50,245.70 C546.72,245.03 547.42,244.12 547.60,243.80" fill="none" stroke="#2a0804" stroke-opacity="0.8" stroke-width="1.15" stroke-linecap="round"/>
</g>
<line x1="594.5" y1="140.5" x2="594.5" y2="288.5" stroke="#1a0a05" stroke-width="1.3"/>
<text x="265" y="8.9" font-size="10.4" font-weight="bold" text-anchor="middle" fill="#111" textLength="95.5" lengthAdjust="spacingAndGlyphs" >EEG Alpha power</text>
<text x="88" y="24.9" font-size="10.1" font-weight="bold" stroke="#111" stroke-width="0.22" text-anchor="middle" fill="#111" textLength="84" lengthAdjust="spacingAndGlyphs" >Anterior Cingulate</text>
<text x="88" y="36.5" font-size="10.1" font-weight="bold" stroke="#111" stroke-width="0.22" text-anchor="middle" fill="#111" textLength="28.2" lengthAdjust="spacingAndGlyphs" >Gyrus</text>
<text x="90.2" y="47.8" font-size="8.3" text-anchor="middle" fill="#111" textLength="25.6" lengthAdjust="spacingAndGlyphs" >0.0167</text>
<line x1="51.2" y1="53.5" x2="129.1" y2="53.5" stroke="#333" stroke-width="1.0"/>
<polyline points="52.1,119.9 75.9,117.6 99.7,117.4" fill="none" stroke="#a8a8a8" stroke-width="0.7" stroke-dasharray="1,1"/>
<polyline points="52.1,108.1 75.9,91.4 99.7,124.3 123.6,90.3" fill="none" stroke="#a8a8a8" stroke-width="0.7" stroke-dasharray="1,1"/>
<polyline points="52.1,113.6 75.9,101.4 99.7,123.0 123.6,100.3" fill="none" stroke="#a8a8a8" stroke-width="0.7" stroke-dasharray="1,1"/>
<polyline points="52.1,119.9 75.9,104.9 99.7,119.8 123.6,113.6" fill="none" stroke="#a8a8a8" stroke-width="0.7" stroke-dasharray="1,1"/>
<polyline points="52.1,118.3 75.9,114.3 99.7,127.0 123.6,105.6" fill="none" stroke="#a8a8a8" stroke-width="0.7" stroke-dasharray="1,1"/>
<circle cx="52.1" cy="119.9" r="3.0" fill="#5a3a10" stroke="#000" stroke-width="1.1"/>
<circle cx="52.1" cy="108.1" r="3.0" fill="#ECB92A" stroke="#000" stroke-width="1.1"/>
<circle cx="52.1" cy="113.6" r="3.0" fill="#ECB92A" stroke="#000" stroke-width="1.1"/>
<circle cx="52.1" cy="119.9" r="3.0" fill="#ECB92A" stroke="#000" stroke-width="1.1"/>
<circle cx="52.1" cy="118.3" r="3.0" fill="#F07020" stroke="#000" stroke-width="1.1"/>
<rect x="72.90" y="114.60" width="6.0" height="6.0" fill="#6b1a15" stroke="#000" stroke-width="1.1"/>
<rect x="72.90" y="88.40" width="6.0" height="6.0" fill="#0A5AA0" stroke="#000" stroke-width="1.1"/>
<rect x="72.90" y="98.40" width="6.0" height="6.0" fill="#0A5AA0" stroke="#000" stroke-width="1.1"/>
<rect x="72.90" y="101.90" width="6.0" height="6.0" fill="#0A5AA0" stroke="#000" stroke-width="1.1"/>
<rect x="72.90" y="111.30" width="6.0" height="6.0" fill="#0A5AA0" stroke="#000" stroke-width="1.1"/>
<circle cx="99.7" cy="117.4" r="3.0" fill="#5a3a10" stroke="#000" stroke-width="1.1"/>
<circle cx="99.7" cy="124.3" r="3.0" fill="#ECB92A" stroke="#000" stroke-width="1.1"/>
<circle cx="99.7" cy="123.0" r="3.0" fill="#ECB92A" stroke="#000" stroke-width="1.1"/>
<circle cx="99.7" cy="119.8" r="3.0" fill="#ECB92A" stroke="#000" stroke-width="1.1"/>
<circle cx="99.7" cy="127.0" r="3.0" fill="#F07020" stroke="#000" stroke-width="1.1"/>
<rect x="120.60" y="87.30" width="6.0" height="6.0" fill="#0A5AA0" stroke="#000" stroke-width="1.1"/>
<rect x="120.60" y="97.30" width="6.0" height="6.0" fill="#0A5AA0" stroke="#000" stroke-width="1.1"/>
<rect x="120.60" y="110.60" width="6.0" height="6.0" fill="#0A5AA0" stroke="#000" stroke-width="1.1"/>
<rect x="120.60" y="102.60" width="6.0" height="6.0" fill="#8B4050" stroke="#000" stroke-width="1.1"/>
<path d="M36.4,52.2 L36.4,155.2 L139.7,155.2" fill="none" stroke="#2b2b2b" stroke-width="1.4" stroke-linecap="butt" stroke-linejoin="round"/>
<line x1="52.1" y1="155.2" x2="52.1" y2="159.5" stroke="#2b2b2b" stroke-width="1.2"/>
<line x1="75.9" y1="155.2" x2="75.9" y2="159.5" stroke="#2b2b2b" stroke-width="1.2"/>
<line x1="99.7" y1="155.2" x2="99.7" y2="159.5" stroke="#2b2b2b" stroke-width="1.2"/>
<line x1="123.6" y1="155.2" x2="123.6" y2="159.5" stroke="#2b2b2b" stroke-width="1.2"/>
<line x1="32.4" y1="107.1" x2="36.4" y2="107.1" stroke="#2b2b2b" stroke-width="1.2"/>
<text x="30.0" y="109.89999999999999" font-size="7.8" font-weight="bold" stroke="#111" stroke-width="0.15" text-anchor="end" fill="#111" >10</text>
<text transform="translate(6.0,103.85) rotate(-90)" font-size="8.2" font-weight="bold" stroke="#111" stroke-width="0.15" text-anchor="middle" fill="#111">Alpha Power</text>
<text transform="translate(16.5,103.85) rotate(-90)" font-size="8.2" font-weight="bold" stroke="#111" stroke-width="0.15" text-anchor="middle" fill="#111">(Microvolts2/Hz)</text>
<text transform="translate(51.800000000000004,167.7) rotate(-45)" font-size="8.0" font-weight="bold" stroke="#111" stroke-width="0.18" text-anchor="end" fill="#111">Session 1</text>
<text transform="translate(75.60000000000001,167.7) rotate(-45)" font-size="8.0" font-weight="bold" stroke="#111" stroke-width="0.18" text-anchor="end" fill="#111">Session 2</text>
<text transform="translate(99.4,167.7) rotate(-45)" font-size="8.0" font-weight="bold" stroke="#111" stroke-width="0.18" text-anchor="end" fill="#111">Session 3</text>
<text transform="translate(123.3,167.7) rotate(-45)" font-size="8.0" font-weight="bold" stroke="#111" stroke-width="0.18" text-anchor="end" fill="#111">Session 4</text>
<text x="247.9" y="24.9" font-size="10.1" font-weight="bold" stroke="#111" stroke-width="0.22" text-anchor="middle" fill="#111" textLength="114.5" lengthAdjust="spacingAndGlyphs" >Lateral prefrontal Cortex</text>
<text x="247.9" y="36.6" font-size="10.1" font-weight="bold" stroke="#111" stroke-width="0.22" text-anchor="middle" fill="#111" textLength="17.6" lengthAdjust="spacingAndGlyphs" >Left</text>
<text x="247.7" y="47.8" font-size="8.3" text-anchor="middle" fill="#111" textLength="26.3" lengthAdjust="spacingAndGlyphs" >0.0012</text>
<line x1="210.4" y1="53.0" x2="284.9" y2="53.0" stroke="#333" stroke-width="1.0"/>
<polyline points="210.8,113.3 236.1,110.2 259.6,115.7 284.6,109.0" fill="none" stroke="#a8a8a8" stroke-width="0.7" stroke-dasharray="1,1"/>
<polyline points="210.8,107.5 236.1,93.5 259.6,109.5 284.6,92.7" fill="none" stroke="#a8a8a8" stroke-width="0.7" stroke-dasharray="1,1"/>
<polyline points="210.8,109.2 236.1,97.6 259.6,111.3 284.6,96.6" fill="none" stroke="#a8a8a8" stroke-width="0.7" stroke-dasharray="1,1"/>
<polyline points="210.8,111.1 236.1,101.7 259.6,113.5 284.6,100.4" fill="none" stroke="#a8a8a8" stroke-width="0.7" stroke-dasharray="1,1"/>
<polyline points="210.8,110.2 236.1,107.9 259.6,112.8 284.6,106.6" fill="none" stroke="#a8a8a8" stroke-width="0.7" stroke-dasharray="1,1"/>
<circle cx="210.8" cy="113.3" r="3.0" fill="#FA2C05" stroke="#000" stroke-width="1.1"/>
<circle cx="210.8" cy="107.5" r="3.0" fill="#ECB92A" stroke="#000" stroke-width="1.1"/>
<circle cx="210.8" cy="109.2" r="3.0" fill="#ECB92A" stroke="#000" stroke-width="1.1"/>
<circle cx="210.8" cy="111.1" r="3.0" fill="#ECB92A" stroke="#000" stroke-width="1.1"/>
<circle cx="210.8" cy="110.2" r="3.0" fill="#ECB92A" stroke="#000" stroke-width="1.1"/>
<rect x="233.10" y="107.20" width="6.0" height="6.0" fill="#FA2C05" stroke="#000" stroke-width="1.1"/>
<rect x="233.10" y="90.50" width="6.0" height="6.0" fill="#0A5AA0" stroke="#000" stroke-width="1.1"/>
<rect x="233.10" y="94.60" width="6.0" height="6.0" fill="#0A5AA0" stroke="#000" stroke-width="1.1"/>
<rect x="233.10" y="98.70" width="6.0" height="6.0" fill="#0A5AA0" stroke="#000" stroke-width="1.1"/>
<rect x="233.10" y="104.90" width="6.0" height="6.0" fill="#0A5AA0" stroke="#000" stroke-width="1.1"/>
<circle cx="259.6" cy="115.7" r="3.0" fill="#FA2C05" stroke="#000" stroke-width="1.1"/>
<circle cx="259.6" cy="109.5" r="3.0" fill="#ECB92A" stroke="#000" stroke-width="1.1"/>
<circle cx="259.6" cy="111.3" r="3.0" fill="#ECB92A" stroke="#000" stroke-width="1.1"/>
<circle cx="259.6" cy="113.5" r="3.0" fill="#ECB92A" stroke="#000" stroke-width="1.1"/>
<circle cx="259.6" cy="112.8" r="3.0" fill="#ECB92A" stroke="#000" stroke-width="1.1"/>
<rect x="281.60" y="106.00" width="6.0" height="6.0" fill="#FA2C05" stroke="#000" stroke-width="1.1"/>
<rect x="281.60" y="89.70" width="6.0" height="6.0" fill="#0A5AA0" stroke="#000" stroke-width="1.1"/>
<rect x="281.60" y="93.60" width="6.0" height="6.0" fill="#0A5AA0" stroke="#000" stroke-width="1.1"/>
<rect x="281.60" y="97.40" width="6.0" height="6.0" fill="#0A5AA0" stroke="#000" stroke-width="1.1"/>
<rect x="281.60" y="103.60" width="6.0" height="6.0" fill="#0A5AA0" stroke="#000" stroke-width="1.1"/>
<path d="M195.4,50.6 L195.4,154.8 L300,154.8" fill="none" stroke="#2b2b2b" stroke-width="1.4" stroke-linecap="butt" stroke-linejoin="round"/>
<line x1="210.8" y1="154.8" x2="210.8" y2="159.10000000000002" stroke="#2b2b2b" stroke-width="1.2"/>
<line x1="236.1" y1="154.8" x2="236.1" y2="159.10000000000002" stroke="#2b2b2b" stroke-width="1.2"/>
<line x1="259.6" y1="154.8" x2="259.6" y2="159.10000000000002" stroke="#2b2b2b" stroke-width="1.2"/>
<line x1="284.6" y1="154.8" x2="284.6" y2="159.10000000000002" stroke="#2b2b2b" stroke-width="1.2"/>
<line x1="191.4" y1="106.1" x2="195.4" y2="106.1" stroke="#2b2b2b" stroke-width="1.2"/>
<text x="189.0" y="108.89999999999999" font-size="7.8" font-weight="bold" stroke="#111" stroke-width="0.15" text-anchor="end" fill="#111" >10</text>
<text transform="translate(165.1,103.1) rotate(-90)" font-size="8.2" font-weight="bold" stroke="#111" stroke-width="0.15" text-anchor="middle" fill="#111">Alpha Power</text>
<text transform="translate(175.3,103.1) rotate(-90)" font-size="8.2" font-weight="bold" stroke="#111" stroke-width="0.15" text-anchor="middle" fill="#111">(Microvolts2/Hz)</text>
<text transform="translate(210.5,167.3) rotate(-45)" font-size="8.0" font-weight="bold" stroke="#111" stroke-width="0.18" text-anchor="end" fill="#111">Session 1</text>
<text transform="translate(235.79999999999998,167.3) rotate(-45)" font-size="8.0" font-weight="bold" stroke="#111" stroke-width="0.18" text-anchor="end" fill="#111">Session 2</text>
<text transform="translate(259.3,167.3) rotate(-45)" font-size="8.0" font-weight="bold" stroke="#111" stroke-width="0.18" text-anchor="end" fill="#111">Session 3</text>
<text transform="translate(284.3,167.3) rotate(-45)" font-size="8.0" font-weight="bold" stroke="#111" stroke-width="0.18" text-anchor="end" fill="#111">Session 4</text>
<text x="388" y="25.2" font-size="10.1" font-weight="bold" stroke="#111" stroke-width="0.22" text-anchor="middle" fill="#111" textLength="113.6" lengthAdjust="spacingAndGlyphs" >Medial Prefrontal Cortex</text>
<text x="388" y="36.4" font-size="10.1" font-weight="bold" stroke="#111" stroke-width="0.22" text-anchor="middle" fill="#111" textLength="33.4" lengthAdjust="spacingAndGlyphs" >Midline</text>
<text x="390" y="49.4" font-size="8.3" text-anchor="middle" fill="#111" textLength="26.2" lengthAdjust="spacingAndGlyphs" >0.0009</text>
<line x1="353.2" y1="55.5" x2="426.8" y2="55.5" stroke="#333" stroke-width="1.0"/>
<polyline points="351.4,107.2 376.5,104.2 398.3,107.2 423.5,104.0" fill="none" stroke="#a8a8a8" stroke-width="0.7" stroke-dasharray="1,1"/>
<polyline points="351.4,116.2 376.5,96.0 398.3,116.2 423.5,95.7" fill="none" stroke="#a8a8a8" stroke-width="0.7" stroke-dasharray="1,1"/>
<polyline points="351.4,113.4 376.5,108.6 398.3,113.4 423.5,108.6" fill="none" stroke="#a8a8a8" stroke-width="0.7" stroke-dasharray="1,1"/>
<polyline points="351.4,113.4 376.5,100.4 398.3,113.4 423.5,100.2" fill="none" stroke="#a8a8a8" stroke-width="0.7" stroke-dasharray="1,1"/>
<circle cx="351.4" cy="107.2" r="3.0" fill="#FA2C05" stroke="#000" stroke-width="1.1"/>
<circle cx="351.4" cy="116.2" r="3.0" fill="#ECB92A" stroke="#000" stroke-width="1.1"/>
<circle cx="351.4" cy="113.4" r="3.0" fill="#ECB92A" stroke="#000" stroke-width="1.1"/>
<circle cx="351.4" cy="113.4" r="3.0" fill="#ECB92A" stroke="#000" stroke-width="1.1"/>
<rect x="373.50" y="101.20" width="6.0" height="6.0" fill="#FA2C05" stroke="#000" stroke-width="1.1"/>
<rect x="373.50" y="93.00" width="6.0" height="6.0" fill="#0A5AA0" stroke="#000" stroke-width="1.1"/>
<rect x="373.50" y="105.60" width="6.0" height="6.0" fill="#0A5AA0" stroke="#000" stroke-width="1.1"/>
<rect x="373.50" y="97.40" width="6.0" height="6.0" fill="#0A5AA0" stroke="#000" stroke-width="1.1"/>
<circle cx="398.3" cy="107.2" r="3.0" fill="#FA2C05" stroke="#000" stroke-width="1.1"/>
<circle cx="398.3" cy="116.2" r="3.0" fill="#ECB92A" stroke="#000" stroke-width="1.1"/>
<circle cx="398.3" cy="113.4" r="3.0" fill="#ECB92A" stroke="#000" stroke-width="1.1"/>
<circle cx="398.3" cy="113.4" r="3.0" fill="#ECB92A" stroke="#000" stroke-width="1.1"/>
<rect x="420.50" y="101.00" width="6.0" height="6.0" fill="#FA2C05" stroke="#000" stroke-width="1.1"/>
<rect x="420.50" y="92.70" width="6.0" height="6.0" fill="#0A5AA0" stroke="#000" stroke-width="1.1"/>
<rect x="420.50" y="105.60" width="6.0" height="6.0" fill="#0A5AA0" stroke="#000" stroke-width="1.1"/>
<rect x="420.50" y="97.20" width="6.0" height="6.0" fill="#0A5AA0" stroke="#000" stroke-width="1.1"/>
<path d="M336.1,54.0 L336.1,156.8 L439.2,156.8" fill="none" stroke="#2b2b2b" stroke-width="1.4" stroke-linecap="butt" stroke-linejoin="round"/>
<line x1="351.4" y1="156.8" x2="351.4" y2="161.10000000000002" stroke="#2b2b2b" stroke-width="1.2"/>
<line x1="376.5" y1="156.8" x2="376.5" y2="161.10000000000002" stroke="#2b2b2b" stroke-width="1.2"/>
<line x1="398.3" y1="156.8" x2="398.3" y2="161.10000000000002" stroke="#2b2b2b" stroke-width="1.2"/>
<line x1="423.5" y1="156.8" x2="423.5" y2="161.10000000000002" stroke="#2b2b2b" stroke-width="1.2"/>
<line x1="332.1" y1="105.3" x2="336.1" y2="105.3" stroke="#2b2b2b" stroke-width="1.2"/>
<text x="329.70000000000005" y="108.1" font-size="7.8" font-weight="bold" stroke="#111" stroke-width="0.15" text-anchor="end" fill="#111" >10</text>
<text transform="translate(305.6,106.0) rotate(-90)" font-size="8.2" font-weight="bold" stroke="#111" stroke-width="0.15" text-anchor="middle" fill="#111">Alpha Power</text>
<text transform="translate(316.1,106.0) rotate(-90)" font-size="8.2" font-weight="bold" stroke="#111" stroke-width="0.15" text-anchor="middle" fill="#111">(Microvolts2/Hz)</text>
<text transform="translate(351.09999999999997,169.3) rotate(-45)" font-size="8.0" font-weight="bold" stroke="#111" stroke-width="0.18" text-anchor="end" fill="#111">Session 1</text>
<text transform="translate(376.2,169.3) rotate(-45)" font-size="8.0" font-weight="bold" stroke="#111" stroke-width="0.18" text-anchor="end" fill="#111">Session 2</text>
<text transform="translate(398.0,169.3) rotate(-45)" font-size="8.0" font-weight="bold" stroke="#111" stroke-width="0.18" text-anchor="end" fill="#111">Session 3</text>
<text transform="translate(423.2,169.3) rotate(-45)" font-size="8.0" font-weight="bold" stroke="#111" stroke-width="0.18" text-anchor="end" fill="#111">Session 4</text>
<text x="88.5" y="212.9" font-size="10.1" font-weight="bold" stroke="#111" stroke-width="0.22" text-anchor="middle" fill="#111" textLength="132.4" lengthAdjust="spacingAndGlyphs" >Supplementary Motor Cortex</text>
<text x="88.5" y="223.8" font-size="10.1" font-weight="bold" stroke="#111" stroke-width="0.22" text-anchor="middle" fill="#111" textLength="33.0" lengthAdjust="spacingAndGlyphs" >Midline</text>
<text x="88.4" y="238.5" font-size="8.3" text-anchor="middle" fill="#111" textLength="25.4" lengthAdjust="spacingAndGlyphs" >0.0014</text>
<line x1="51.3" y1="243.5" x2="125.3" y2="243.5" stroke="#333" stroke-width="1.0"/>
<polyline points="52.7,299.4 77.2,279.5 99.8,298.2 123.8,278.2" fill="none" stroke="#a8a8a8" stroke-width="0.7" stroke-dasharray="1,1"/>
<polyline points="52.7,303.6 77.2,289.8 99.8,303.1 123.8,292.6" fill="none" stroke="#a8a8a8" stroke-width="0.7" stroke-dasharray="1,1"/>
<polyline points="52.7,299.4 77.2,294.9 99.8,310.0 123.8,297.6" fill="none" stroke="#a8a8a8" stroke-width="0.7" stroke-dasharray="1,1"/>
<polyline points="52.7,303.6 77.2,300.4 99.8,303.1 123.8,297.6" fill="none" stroke="#a8a8a8" stroke-width="0.7" stroke-dasharray="1,1"/>
<polyline points="52.7,323.4 77.2,314.3 99.8,325.4 123.8,316.3" fill="none" stroke="#a8a8a8" stroke-width="0.7" stroke-dasharray="1,1"/>
<circle cx="52.7" cy="299.4" r="3.0" fill="#ECB92A" stroke="#000" stroke-width="1.1"/>
<circle cx="52.7" cy="303.6" r="3.0" fill="#ECB92A" stroke="#000" stroke-width="1.1"/>
<circle cx="52.7" cy="299.4" r="3.0" fill="#ECB92A" stroke="#000" stroke-width="1.1"/>
<circle cx="52.7" cy="303.6" r="3.0" fill="#ECB92A" stroke="#000" stroke-width="1.1"/>
<circle cx="52.7" cy="323.4" r="3.0" fill="#FA2C05" stroke="#000" stroke-width="1.1"/>
<rect x="74.20" y="276.50" width="6.0" height="6.0" fill="#0A5AA0" stroke="#000" stroke-width="1.1"/>
<rect x="74.20" y="286.80" width="6.0" height="6.0" fill="#0A5AA0" stroke="#000" stroke-width="1.1"/>
<rect x="74.20" y="291.90" width="6.0" height="6.0" fill="#0A5AA0" stroke="#000" stroke-width="1.1"/>
<rect x="74.20" y="297.40" width="6.0" height="6.0" fill="#0A5AA0" stroke="#000" stroke-width="1.1"/>
<rect x="74.20" y="311.30" width="6.0" height="6.0" fill="#FA2C05" stroke="#000" stroke-width="1.1"/>
<circle cx="99.8" cy="298.2" r="3.0" fill="#ECB92A" stroke="#000" stroke-width="1.1"/>
<circle cx="99.8" cy="303.1" r="3.0" fill="#ECB92A" stroke="#000" stroke-width="1.1"/>
<circle cx="99.8" cy="310.0" r="3.0" fill="#ECB92A" stroke="#000" stroke-width="1.1"/>
<circle cx="99.8" cy="303.1" r="3.0" fill="#ECB92A" stroke="#000" stroke-width="1.1"/>
<circle cx="99.8" cy="325.4" r="3.0" fill="#FA2C05" stroke="#000" stroke-width="1.1"/>
<rect x="120.80" y="275.20" width="6.0" height="6.0" fill="#0A5AA0" stroke="#000" stroke-width="1.1"/>
<rect x="120.80" y="289.60" width="6.0" height="6.0" fill="#0A5AA0" stroke="#000" stroke-width="1.1"/>
<rect x="120.80" y="294.60" width="6.0" height="6.0" fill="#0A5AA0" stroke="#000" stroke-width="1.1"/>
<rect x="120.80" y="294.60" width="6.0" height="6.0" fill="#0A5AA0" stroke="#000" stroke-width="1.1"/>
<rect x="120.80" y="313.30" width="6.0" height="6.0" fill="#FA2C05" stroke="#000" stroke-width="1.1"/>
<path d="M37.7,239.5 L37.7,340.6 L138.8,340.6" fill="none" stroke="#2b2b2b" stroke-width="1.4" stroke-linecap="butt" stroke-linejoin="round"/>
<line x1="52.7" y1="340.6" x2="52.7" y2="344.90000000000003" stroke="#2b2b2b" stroke-width="1.2"/>
<line x1="77.2" y1="340.6" x2="77.2" y2="344.90000000000003" stroke="#2b2b2b" stroke-width="1.2"/>
<line x1="99.8" y1="340.6" x2="99.8" y2="344.90000000000003" stroke="#2b2b2b" stroke-width="1.2"/>
<line x1="123.8" y1="340.6" x2="123.8" y2="344.90000000000003" stroke="#2b2b2b" stroke-width="1.2"/>
<line x1="33.7" y1="239.5" x2="37.7" y2="239.5" stroke="#2b2b2b" stroke-width="1.2"/>
<text x="31.300000000000004" y="242.3" font-size="7.8" font-weight="bold" stroke="#111" stroke-width="0.15" text-anchor="end" fill="#111" >10</text>
<line x1="33.7" y1="290.0" x2="37.7" y2="290.0" stroke="#2b2b2b" stroke-width="1.2"/>
<text x="31.300000000000004" y="292.8" font-size="7.8" font-weight="bold" stroke="#111" stroke-width="0.15" text-anchor="end" fill="#111" >1</text>
<line x1="33.7" y1="340.6" x2="37.7" y2="340.6" stroke="#2b2b2b" stroke-width="1.2"/>
<text x="31.300000000000004" y="343.40000000000003" font-size="7.8" font-weight="bold" stroke="#111" stroke-width="0.15" text-anchor="end" fill="#111" >0.1</text>
<text transform="translate(5.7,290.9) rotate(-90)" font-size="8.2" font-weight="bold" stroke="#111" stroke-width="0.15" text-anchor="middle" fill="#111">Alpha Power</text>
<text transform="translate(16.5,290.9) rotate(-90)" font-size="8.2" font-weight="bold" stroke="#111" stroke-width="0.15" text-anchor="middle" fill="#111">(Microvolts2/Hz)</text>
<text transform="translate(52.400000000000006,353.1) rotate(-45)" font-size="8.0" font-weight="bold" stroke="#111" stroke-width="0.18" text-anchor="end" fill="#111">Session 1</text>
<text transform="translate(76.9,353.1) rotate(-45)" font-size="8.0" font-weight="bold" stroke="#111" stroke-width="0.18" text-anchor="end" fill="#111">Session 2</text>
<text transform="translate(99.5,353.1) rotate(-45)" font-size="8.0" font-weight="bold" stroke="#111" stroke-width="0.18" text-anchor="end" fill="#111">Session 3</text>
<text transform="translate(123.5,353.1) rotate(-45)" font-size="8.0" font-weight="bold" stroke="#111" stroke-width="0.18" text-anchor="end" fill="#111">Session 4</text>
<text x="249.6" y="211.0" font-size="10.1" font-weight="bold" stroke="#111" stroke-width="0.22" text-anchor="middle" fill="#111" textLength="107.6" lengthAdjust="spacingAndGlyphs" >Somatosensory Cortex</text>
<text x="249.8" y="222.9" font-size="10.1" font-weight="bold" stroke="#111" stroke-width="0.22" text-anchor="middle" fill="#111" textLength="18.3" lengthAdjust="spacingAndGlyphs" >Left</text>
<text x="249.75" y="238.9" font-size="8.3" text-anchor="middle" fill="#111" textLength="25.2" lengthAdjust="spacingAndGlyphs" >0.0001</text>
<line x1="211.4" y1="244.5" x2="288.6" y2="244.5" stroke="#333" stroke-width="1.0"/>
<polyline points="213.1,305.0 237.6,257.3 261.1,309.0 285.8,258.4" fill="none" stroke="#a8a8a8" stroke-width="0.7" stroke-dasharray="1,1"/>
<polyline points="213.1,306.5 237.6,267.2 261.1,310.8 285.8,266.5" fill="none" stroke="#a8a8a8" stroke-width="0.7" stroke-dasharray="1,1"/>
<polyline points="213.1,303.6 237.6,281.3 261.1,309.5 285.8,279.3" fill="none" stroke="#a8a8a8" stroke-width="0.7" stroke-dasharray="1,1"/>
<polyline points="213.1,308.3 237.6,296.2 261.1,312.7 285.8,298.4" fill="none" stroke="#a8a8a8" stroke-width="0.7" stroke-dasharray="1,1"/>
<polyline points="213.1,324.2 237.6,314.3 261.1,327.0 285.8,312.7" fill="none" stroke="#a8a8a8" stroke-width="0.7" stroke-dasharray="1,1"/>
<circle cx="213.1" cy="305.0" r="3.0" fill="#ECB92A" stroke="#000" stroke-width="1.1"/>
<circle cx="213.1" cy="306.5" r="3.0" fill="#ECB92A" stroke="#000" stroke-width="1.1"/>
<circle cx="213.1" cy="303.6" r="3.0" fill="#ECB92A" stroke="#000" stroke-width="1.1"/>
<circle cx="213.1" cy="308.3" r="3.0" fill="#ECB92A" stroke="#000" stroke-width="1.1"/>
<circle cx="213.1" cy="324.2" r="3.0" fill="#FA2C05" stroke="#000" stroke-width="1.1"/>
<rect x="234.60" y="254.30" width="6.0" height="6.0" fill="#0A5AA0" stroke="#000" stroke-width="1.1"/>
<rect x="234.60" y="264.20" width="6.0" height="6.0" fill="#0A5AA0" stroke="#000" stroke-width="1.1"/>
<rect x="234.60" y="278.30" width="6.0" height="6.0" fill="#0A5AA0" stroke="#000" stroke-width="1.1"/>
<rect x="234.60" y="293.20" width="6.0" height="6.0" fill="#0A5AA0" stroke="#000" stroke-width="1.1"/>
<rect x="234.60" y="311.30" width="6.0" height="6.0" fill="#FA2C05" stroke="#000" stroke-width="1.1"/>
<circle cx="261.1" cy="309.0" r="3.0" fill="#ECB92A" stroke="#000" stroke-width="1.1"/>
<circle cx="261.1" cy="310.8" r="3.0" fill="#ECB92A" stroke="#000" stroke-width="1.1"/>
<circle cx="261.1" cy="309.5" r="3.0" fill="#ECB92A" stroke="#000" stroke-width="1.1"/>
<circle cx="261.1" cy="312.7" r="3.0" fill="#ECB92A" stroke="#000" stroke-width="1.1"/>
<circle cx="261.1" cy="327.0" r="3.0" fill="#FA2C05" stroke="#000" stroke-width="1.1"/>
<rect x="282.80" y="255.40" width="6.0" height="6.0" fill="#0A5AA0" stroke="#000" stroke-width="1.1"/>
<rect x="282.80" y="263.50" width="6.0" height="6.0" fill="#0A5AA0" stroke="#000" stroke-width="1.1"/>
<rect x="282.80" y="276.30" width="6.0" height="6.0" fill="#0A5AA0" stroke="#000" stroke-width="1.1"/>
<rect x="282.80" y="295.40" width="6.0" height="6.0" fill="#0A5AA0" stroke="#000" stroke-width="1.1"/>
<rect x="282.80" y="309.70" width="6.0" height="6.0" fill="#FA2C05" stroke="#000" stroke-width="1.1"/>
<path d="M197.6,244.7 L197.6,348.3 L299,348.3" fill="none" stroke="#2b2b2b" stroke-width="1.4" stroke-linecap="butt" stroke-linejoin="round"/>
<line x1="213.1" y1="348.3" x2="213.1" y2="352.6" stroke="#2b2b2b" stroke-width="1.2"/>
<line x1="237.6" y1="348.3" x2="237.6" y2="352.6" stroke="#2b2b2b" stroke-width="1.2"/>
<line x1="261.1" y1="348.3" x2="261.1" y2="352.6" stroke="#2b2b2b" stroke-width="1.2"/>
<line x1="285.8" y1="348.3" x2="285.8" y2="352.6" stroke="#2b2b2b" stroke-width="1.2"/>
<line x1="193.6" y1="244.7" x2="197.6" y2="244.7" stroke="#2b2b2b" stroke-width="1.2"/>
<text x="191.2" y="247.5" font-size="7.8" font-weight="bold" stroke="#111" stroke-width="0.15" text-anchor="end" fill="#111" >1</text>
<line x1="193.6" y1="348.3" x2="197.6" y2="348.3" stroke="#2b2b2b" stroke-width="1.2"/>
<text x="191.2" y="351.1" font-size="7.8" font-weight="bold" stroke="#111" stroke-width="0.15" text-anchor="end" fill="#111" >0.1</text>
<text transform="translate(164.5,297.2) rotate(-90)" font-size="8.2" font-weight="bold" stroke="#111" stroke-width="0.15" text-anchor="middle" fill="#111">Alpha Power</text>
<text transform="translate(175.3,297.2) rotate(-90)" font-size="8.2" font-weight="bold" stroke="#111" stroke-width="0.15" text-anchor="middle" fill="#111">(Microvolts2/Hz)</text>
<text transform="translate(212.79999999999998,360.8) rotate(-45)" font-size="8.0" font-weight="bold" stroke="#111" stroke-width="0.18" text-anchor="end" fill="#111">Session 1</text>
<text transform="translate(237.29999999999998,360.8) rotate(-45)" font-size="8.0" font-weight="bold" stroke="#111" stroke-width="0.18" text-anchor="end" fill="#111">Session 2</text>
<text transform="translate(260.8,360.8) rotate(-45)" font-size="8.0" font-weight="bold" stroke="#111" stroke-width="0.18" text-anchor="end" fill="#111">Session 3</text>
<text transform="translate(285.5,360.8) rotate(-45)" font-size="8.0" font-weight="bold" stroke="#111" stroke-width="0.18" text-anchor="end" fill="#111">Session 4</text>
<text x="410.5" y="215.0" font-size="10.1" font-weight="bold" stroke="#111" stroke-width="0.22" text-anchor="middle" fill="#111" textLength="105.6" lengthAdjust="spacingAndGlyphs" >Somatosensory Cortex</text>
<text x="411" y="226.6" font-size="10.1" font-weight="bold" stroke="#111" stroke-width="0.22" text-anchor="middle" fill="#111" textLength="24.0" lengthAdjust="spacingAndGlyphs" >Right</text>
<text x="410.5" y="238.9" font-size="8.3" text-anchor="middle" fill="#111" textLength="24.8" lengthAdjust="spacingAndGlyphs" >0.0001</text>
<line x1="375.2" y1="243.7" x2="445.6" y2="243.7" stroke="#333" stroke-width="1.0"/>
<polyline points="374.8,328.4 399.4,322.2 421.6,331.0 446.0,321.3" fill="none" stroke="#a8a8a8" stroke-width="0.7" stroke-dasharray="1,1"/>
<polyline points="374.8,315.0 399.4,297.9 421.6,316.9 446.0,297.2" fill="none" stroke="#a8a8a8" stroke-width="0.7" stroke-dasharray="1,1"/>
<polyline points="374.8,321.8 399.4,309.4 421.6,321.5 446.0,305.8" fill="none" stroke="#a8a8a8" stroke-width="0.7" stroke-dasharray="1,1"/>
<polyline points="374.8,326.5 399.4,318.3 421.6,325.5 446.0,317.6" fill="none" stroke="#a8a8a8" stroke-width="0.7" stroke-dasharray="1,1"/>
<polyline points="374.8,321.0 399.4,309.0 421.6,321.0 446.0,307.7" fill="none" stroke="#a8a8a8" stroke-width="0.7" stroke-dasharray="1,1"/>
<circle cx="374.8" cy="328.4" r="3.0" fill="#FA2C05" stroke="#000" stroke-width="1.1"/>
<circle cx="374.8" cy="315.0" r="3.0" fill="#ECB92A" stroke="#000" stroke-width="1.1"/>
<circle cx="374.8" cy="321.8" r="3.0" fill="#ECB92A" stroke="#000" stroke-width="1.1"/>
<circle cx="374.8" cy="326.5" r="3.0" fill="#ECB92A" stroke="#000" stroke-width="1.1"/>
<circle cx="374.8" cy="321.0" r="3.0" fill="#ECB92A" stroke="#000" stroke-width="1.1"/>
<rect x="396.40" y="319.20" width="6.0" height="6.0" fill="#FA2C05" stroke="#000" stroke-width="1.1"/>
<rect x="396.40" y="294.90" width="6.0" height="6.0" fill="#0A5AA0" stroke="#000" stroke-width="1.1"/>
<rect x="396.40" y="306.40" width="6.0" height="6.0" fill="#0A5AA0" stroke="#000" stroke-width="1.1"/>
<rect x="396.40" y="315.30" width="6.0" height="6.0" fill="#0A5AA0" stroke="#000" stroke-width="1.1"/>
<rect x="396.40" y="306.00" width="6.0" height="6.0" fill="#0A5AA0" stroke="#000" stroke-width="1.1"/>
<circle cx="421.6" cy="331.0" r="3.0" fill="#FA2C05" stroke="#000" stroke-width="1.1"/>
<circle cx="421.6" cy="316.9" r="3.0" fill="#ECB92A" stroke="#000" stroke-width="1.1"/>
<circle cx="421.6" cy="321.5" r="3.0" fill="#ECB92A" stroke="#000" stroke-width="1.1"/>
<circle cx="421.6" cy="325.5" r="3.0" fill="#ECB92A" stroke="#000" stroke-width="1.1"/>
<circle cx="421.6" cy="321.0" r="3.0" fill="#ECB92A" stroke="#000" stroke-width="1.1"/>
<rect x="443.00" y="318.30" width="6.0" height="6.0" fill="#FA2C05" stroke="#000" stroke-width="1.1"/>
<rect x="443.00" y="294.20" width="6.0" height="6.0" fill="#0A5AA0" stroke="#000" stroke-width="1.1"/>
<rect x="443.00" y="302.80" width="6.0" height="6.0" fill="#0A5AA0" stroke="#000" stroke-width="1.1"/>
<rect x="443.00" y="314.60" width="6.0" height="6.0" fill="#0A5AA0" stroke="#000" stroke-width="1.1"/>
<rect x="443.00" y="304.70" width="6.0" height="6.0" fill="#0A5AA0" stroke="#000" stroke-width="1.1"/>
<path d="M360.0,246.5 L360.0,347.4 L460,347.4" fill="none" stroke="#2b2b2b" stroke-width="1.4" stroke-linecap="butt" stroke-linejoin="round"/>
<line x1="374.8" y1="347.4" x2="374.8" y2="351.7" stroke="#2b2b2b" stroke-width="1.2"/>
<line x1="399.4" y1="347.4" x2="399.4" y2="351.7" stroke="#2b2b2b" stroke-width="1.2"/>
<line x1="421.6" y1="347.4" x2="421.6" y2="351.7" stroke="#2b2b2b" stroke-width="1.2"/>
<line x1="446.0" y1="347.4" x2="446.0" y2="351.7" stroke="#2b2b2b" stroke-width="1.2"/>
<line x1="356.0" y1="246.5" x2="360.0" y2="246.5" stroke="#2b2b2b" stroke-width="1.2"/>
<text x="353.6" y="249.3" font-size="7.8" font-weight="bold" stroke="#111" stroke-width="0.15" text-anchor="end" fill="#111" >10</text>
<line x1="356.0" y1="297.0" x2="360.0" y2="297.0" stroke="#2b2b2b" stroke-width="1.2"/>
<text x="353.6" y="299.8" font-size="7.8" font-weight="bold" stroke="#111" stroke-width="0.15" text-anchor="end" fill="#111" >1</text>
<line x1="356.0" y1="347.4" x2="360.0" y2="347.4" stroke="#2b2b2b" stroke-width="1.2"/>
<text x="353.6" y="350.2" font-size="7.8" font-weight="bold" stroke="#111" stroke-width="0.15" text-anchor="end" fill="#111" >0.1</text>
<text transform="translate(328.3,297.7) rotate(-90)" font-size="8.2" font-weight="bold" stroke="#111" stroke-width="0.15" text-anchor="middle" fill="#111">Alpha Power</text>
<text transform="translate(338.6,297.7) rotate(-90)" font-size="8.2" font-weight="bold" stroke="#111" stroke-width="0.15" text-anchor="middle" fill="#111">(Microvolts2/Hz)</text>
<text transform="translate(374.5,359.9) rotate(-45)" font-size="8.0" font-weight="bold" stroke="#111" stroke-width="0.18" text-anchor="end" fill="#111">Session 1</text>
<text transform="translate(399.09999999999997,359.9) rotate(-45)" font-size="8.0" font-weight="bold" stroke="#111" stroke-width="0.18" text-anchor="end" fill="#111">Session 2</text>
<text transform="translate(421.3,359.9) rotate(-45)" font-size="8.0" font-weight="bold" stroke="#111" stroke-width="0.18" text-anchor="end" fill="#111">Session 3</text>
<text transform="translate(445.7,359.9) rotate(-45)" font-size="8.0" font-weight="bold" stroke="#111" stroke-width="0.18" text-anchor="end" fill="#111">Session 4</text>
<line x1="462" y1="59.9" x2="472.5" y2="59.9" stroke="#bbb" stroke-width="0.6"/>
<circle cx="467.4" cy="59.9" r="3.2" fill="#ECB92A" stroke="#000" stroke-width="1.1"/>
<text x="479.8" y="62.8" font-size="8.35" text-anchor="start" fill="#1a1a1a" >Unpaced (MV)</text>
<line x1="462" y1="73.5" x2="472.5" y2="73.5" stroke="#bbb" stroke-width="0.6"/>
<rect x="464.20" y="70.30" width="6.4" height="6.4" fill="#0A5AA0" stroke="#000" stroke-width="1.1"/>
<text x="479.8" y="76.4" font-size="8.35" text-anchor="start" fill="#1a1a1a" >Paced (MV+PNS)</text>
<text x="591.5" y="61.8" font-size="9.8" font-weight="bold" text-anchor="middle" fill="#111" textLength="42" lengthAdjust="spacingAndGlyphs" >AlphaPSD</text>
<text x="592.7" y="73.6" font-size="9.8" font-weight="bold" text-anchor="middle" fill="#111" textLength="73" lengthAdjust="spacingAndGlyphs" >(Microvolts2/Hz)</text>
<defs><linearGradient id="cb" x1="0" y1="0" x2="0" y2="1"><stop offset="0" stop-color="#6a2430"/><stop offset="0.08" stop-color="#a02838"/><stop offset="0.15" stop-color="#e53040"/><stop offset="0.25" stop-color="#f06a30"/><stop offset="0.33" stop-color="#f0a040"/><stop offset="0.42" stop-color="#d8d030"/><stop offset="0.52" stop-color="#90d040"/><stop offset="0.60" stop-color="#40c070"/><stop offset="0.68" stop-color="#30b0d8"/><stop offset="0.78" stop-color="#3070d0"/><stop offset="0.88" stop-color="#3840a8"/><stop offset="1" stop-color="#282880"/></linearGradient></defs>
<rect x="637" y="54.5" width="8.5" height="48.3" fill="url(#cb)"/>
<text x="647.8" y="58.3" font-size="6.6" text-anchor="start" fill="#333" textLength="16.5" lengthAdjust="spacingAndGlyphs" >p&lt;0.05</text>
<text x="647.8" y="102.7" font-size="6.6" text-anchor="start" fill="#333" textLength="13" lengthAdjust="spacingAndGlyphs" >p&gt;0.1</text>
</svg></body></html>
